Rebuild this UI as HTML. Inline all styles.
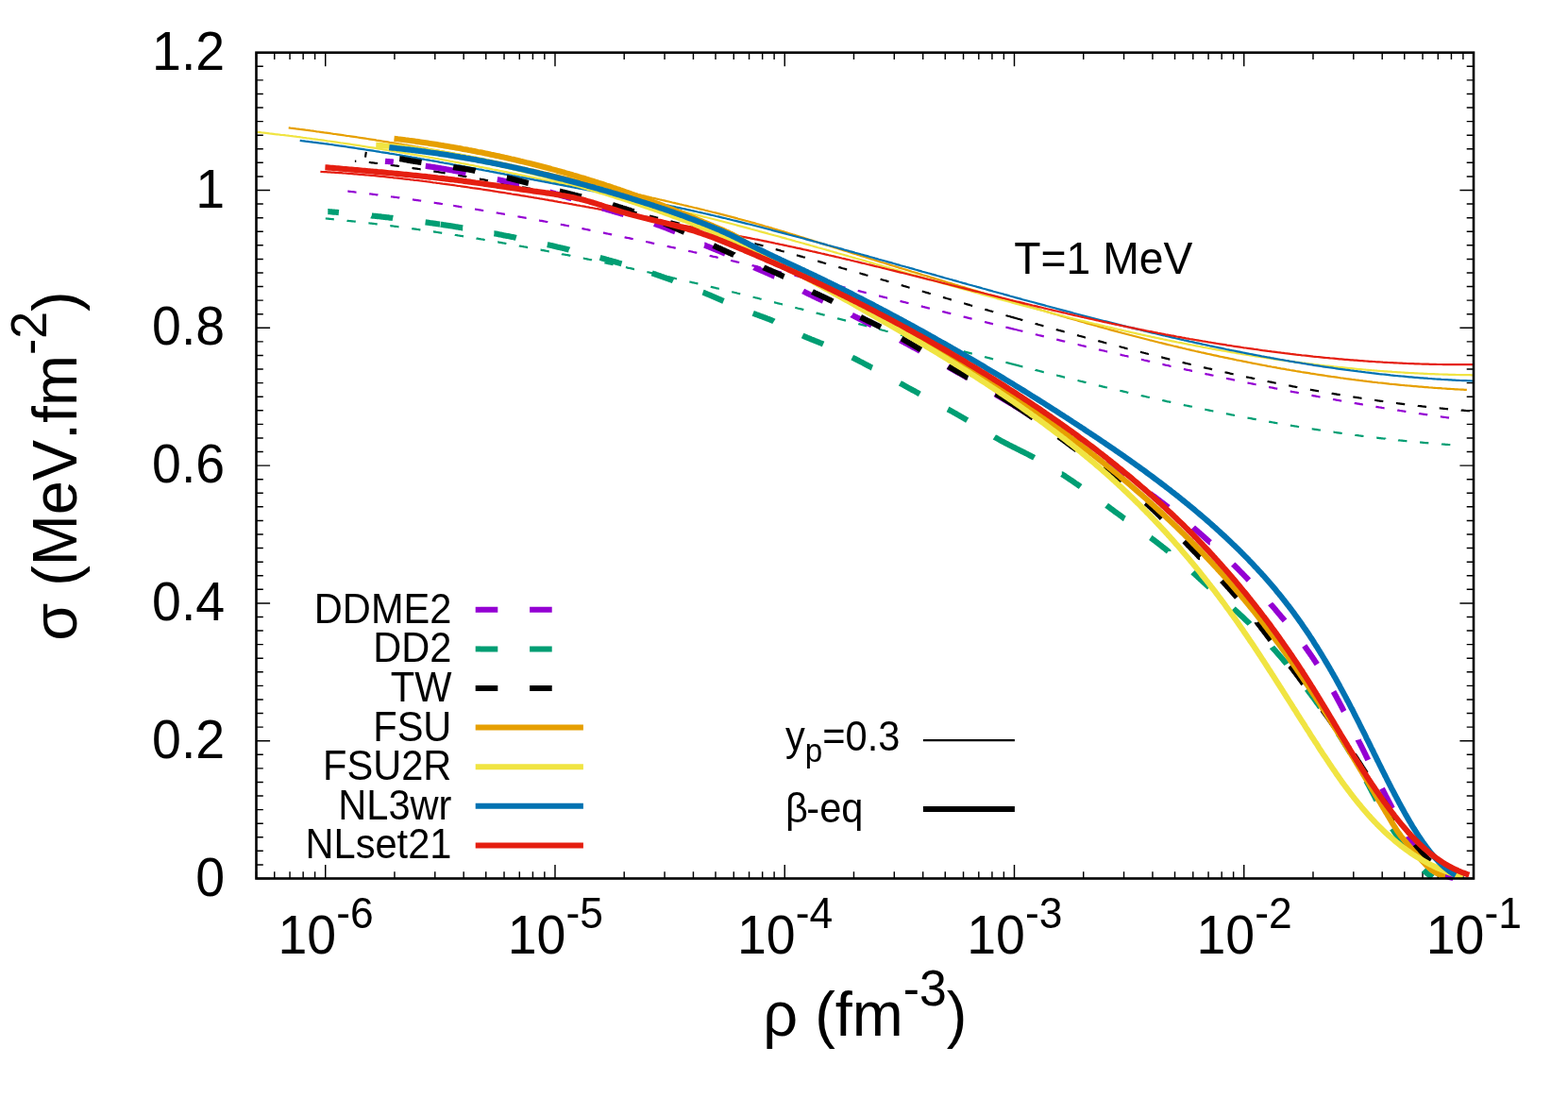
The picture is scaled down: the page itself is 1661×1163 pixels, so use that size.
<!DOCTYPE html>
<html lang="en"><head><meta charset="utf-8"><title>Surface tension vs density</title>
<style>html,body{margin:0;padding:0;background:#fff}svg{display:block}text{font-kerning:none;font-family:"Liberation Sans",Arial,Helvetica,sans-serif;fill:#000}</style></head><body>
<svg width="1661" height="1163" viewBox="0 0 1661 1163">
<rect x="0" y="0" width="1661" height="1163" fill="#fff"/>
<g stroke="#000" stroke-width="1.45" fill="none">
<path d="M271.50 930.50h14.6M1561.00 930.50h-14.6M271.50 915.92h7.3M1561.00 915.92h-7.3M271.50 901.34h7.3M1561.00 901.34h-7.3M271.50 886.76h7.3M1561.00 886.76h-7.3M271.50 872.18h7.3M1561.00 872.18h-7.3M271.50 857.60h7.3M1561.00 857.60h-7.3M271.50 843.02h7.3M1561.00 843.02h-7.3M271.50 828.44h7.3M1561.00 828.44h-7.3M271.50 813.86h7.3M1561.00 813.86h-7.3M271.50 799.28h7.3M1561.00 799.28h-7.3M271.50 784.70h14.6M1561.00 784.70h-14.6M271.50 770.12h7.3M1561.00 770.12h-7.3M271.50 755.54h7.3M1561.00 755.54h-7.3M271.50 740.96h7.3M1561.00 740.96h-7.3M271.50 726.38h7.3M1561.00 726.38h-7.3M271.50 711.80h7.3M1561.00 711.80h-7.3M271.50 697.22h7.3M1561.00 697.22h-7.3M271.50 682.64h7.3M1561.00 682.64h-7.3M271.50 668.06h7.3M1561.00 668.06h-7.3M271.50 653.48h7.3M1561.00 653.48h-7.3M271.50 638.90h14.6M1561.00 638.90h-14.6M271.50 624.32h7.3M1561.00 624.32h-7.3M271.50 609.74h7.3M1561.00 609.74h-7.3M271.50 595.16h7.3M1561.00 595.16h-7.3M271.50 580.58h7.3M1561.00 580.58h-7.3M271.50 566.00h7.3M1561.00 566.00h-7.3M271.50 551.42h7.3M1561.00 551.42h-7.3M271.50 536.84h7.3M1561.00 536.84h-7.3M271.50 522.26h7.3M1561.00 522.26h-7.3M271.50 507.68h7.3M1561.00 507.68h-7.3M271.50 493.10h14.6M1561.00 493.10h-14.6M271.50 478.52h7.3M1561.00 478.52h-7.3M271.50 463.94h7.3M1561.00 463.94h-7.3M271.50 449.36h7.3M1561.00 449.36h-7.3M271.50 434.78h7.3M1561.00 434.78h-7.3M271.50 420.20h7.3M1561.00 420.20h-7.3M271.50 405.62h7.3M1561.00 405.62h-7.3M271.50 391.04h7.3M1561.00 391.04h-7.3M271.50 376.46h7.3M1561.00 376.46h-7.3M271.50 361.88h7.3M1561.00 361.88h-7.3M271.50 347.30h14.6M1561.00 347.30h-14.6M271.50 332.72h7.3M1561.00 332.72h-7.3M271.50 318.14h7.3M1561.00 318.14h-7.3M271.50 303.56h7.3M1561.00 303.56h-7.3M271.50 288.98h7.3M1561.00 288.98h-7.3M271.50 274.40h7.3M1561.00 274.40h-7.3M271.50 259.82h7.3M1561.00 259.82h-7.3M271.50 245.24h7.3M1561.00 245.24h-7.3M271.50 230.66h7.3M1561.00 230.66h-7.3M271.50 216.08h7.3M1561.00 216.08h-7.3M271.50 201.50h14.6M1561.00 201.50h-14.6M271.50 186.92h7.3M1561.00 186.92h-7.3M271.50 172.34h7.3M1561.00 172.34h-7.3M271.50 157.76h7.3M1561.00 157.76h-7.3M271.50 143.18h7.3M1561.00 143.18h-7.3M271.50 128.60h7.3M1561.00 128.60h-7.3M271.50 114.02h7.3M1561.00 114.02h-7.3M271.50 99.44h7.3M1561.00 99.44h-7.3M271.50 84.86h7.3M1561.00 84.86h-7.3M271.50 70.28h7.3M1561.00 70.28h-7.3M271.50 55.70h14.6M1561.00 55.70h-14.6M271.50 930.50v-7.3M271.50 55.70v7.3M290.76 930.50v-7.3M290.76 55.70v7.3M307.05 930.50v-7.3M307.05 55.70v7.3M321.15 930.50v-7.3M321.15 55.70v7.3M333.60 930.50v-7.3M333.60 55.70v7.3M344.73 930.50v-14.6M344.73 55.70v14.6M417.95 930.50v-7.3M417.95 55.70v7.3M460.79 930.50v-7.3M460.79 55.70v7.3M491.18 930.50v-7.3M491.18 55.70v7.3M514.75 930.50v-7.3M514.75 55.70v7.3M534.02 930.50v-7.3M534.02 55.70v7.3M550.30 930.50v-7.3M550.30 55.70v7.3M564.41 930.50v-7.3M564.41 55.70v7.3M576.85 930.50v-7.3M576.85 55.70v7.3M587.98 930.50v-14.6M587.98 55.70v14.6M661.21 930.50v-7.3M661.21 55.70v7.3M704.04 930.50v-7.3M704.04 55.70v7.3M734.44 930.50v-7.3M734.44 55.70v7.3M758.01 930.50v-7.3M758.01 55.70v7.3M777.27 930.50v-7.3M777.27 55.70v7.3M793.56 930.50v-7.3M793.56 55.70v7.3M807.66 930.50v-7.3M807.66 55.70v7.3M820.11 930.50v-7.3M820.11 55.70v7.3M831.24 930.50v-14.6M831.24 55.70v14.6M904.46 930.50v-7.3M904.46 55.70v7.3M947.30 930.50v-7.3M947.30 55.70v7.3M977.69 930.50v-7.3M977.69 55.70v7.3M1001.26 930.50v-7.3M1001.26 55.70v7.3M1020.53 930.50v-7.3M1020.53 55.70v7.3M1036.81 930.50v-7.3M1036.81 55.70v7.3M1050.92 930.50v-7.3M1050.92 55.70v7.3M1063.36 930.50v-7.3M1063.36 55.70v7.3M1074.49 930.50v-14.6M1074.49 55.70v14.6M1147.72 930.50v-7.3M1147.72 55.70v7.3M1190.55 930.50v-7.3M1190.55 55.70v7.3M1220.94 930.50v-7.3M1220.94 55.70v7.3M1244.52 930.50v-7.3M1244.52 55.70v7.3M1263.78 930.50v-7.3M1263.78 55.70v7.3M1280.06 930.50v-7.3M1280.06 55.70v7.3M1294.17 930.50v-7.3M1294.17 55.70v7.3M1306.61 930.50v-7.3M1306.61 55.70v7.3M1317.75 930.50v-14.6M1317.75 55.70v14.6M1390.97 930.50v-7.3M1390.97 55.70v7.3M1433.81 930.50v-7.3M1433.81 55.70v7.3M1464.20 930.50v-7.3M1464.20 55.70v7.3M1487.77 930.50v-7.3M1487.77 55.70v7.3M1507.03 930.50v-7.3M1507.03 55.70v7.3M1523.32 930.50v-7.3M1523.32 55.70v7.3M1537.43 930.50v-7.3M1537.43 55.70v7.3M1549.87 930.50v-7.3M1549.87 55.70v7.3M1561.00 930.50v-14.6M1561.00 55.70v14.6"/>
</g>
<g fill="none" stroke-linejoin="round" stroke-linecap="butt">
<path d="M368.3 202.5L369.2 202.6L370.2 202.8L371.2 202.9L372.2 203.0L373.2 203.1L374.2 203.2L375.2 203.3L376.1 203.5L377.1 203.6L377.5 203.6M391.2 205.3L392.1 205.4L393.1 205.5L394.1 205.6L395.1 205.8L396.0 205.9L397.0 206.0L398.0 206.2L399.0 206.3L400.0 206.4L400.4 206.5M414.0 208.2L414.9 208.4L415.9 208.5L416.9 208.6L417.9 208.8L418.9 208.9L419.9 209.0L420.9 209.2L421.9 209.3L422.9 209.4L423.3 209.5M436.9 211.4L437.7 211.5L438.7 211.6L439.7 211.8L440.7 211.9L441.7 212.1L442.7 212.2L443.7 212.3L444.7 212.5L445.7 212.6L446.1 212.7M459.7 214.7L460.5 214.8L461.5 215.0L462.5 215.1L463.5 215.3L464.5 215.4L465.5 215.6L466.5 215.7L467.4 215.9L468.4 216.0L468.9 216.1M1065.4 346.5L1066.1 346.7L1067.0 346.9L1068.0 347.1L1069.0 347.4L1070.0 347.6L1070.9 347.9L1071.9 348.1L1072.9 348.3L1073.8 348.6L1074.4 348.7M1043.0 341.0L1043.7 341.2L1044.7 341.4L1045.7 341.7L1046.6 341.9L1047.6 342.1L1048.6 342.4L1049.6 342.6L1050.5 342.8L1051.5 343.1L1052.0 343.2M1020.6 335.5L1021.4 335.7L1022.4 335.9L1023.3 336.1L1024.3 336.4L1025.3 336.6L1026.2 336.9L1027.2 337.1L1028.2 337.3L1029.2 337.6L1029.6 337.7M998.2 330.0L999.0 330.2L1000.0 330.4L1001.0 330.6L1002.0 330.9L1002.9 331.1L1003.9 331.4L1004.9 331.6L1005.8 331.8L1006.8 332.1L1007.3 332.2M975.8 324.4L976.7 324.6L977.7 324.9L978.7 325.1L979.6 325.4L980.6 325.6L981.6 325.8L982.5 326.1L983.5 326.3L984.5 326.6L984.9 326.7M953.5 318.9L954.4 319.1L955.3 319.4L956.3 319.6L957.3 319.9L958.3 320.1L959.2 320.3L960.2 320.6L961.2 320.8L962.1 321.0L962.5 321.1M931.1 313.4L932.0 313.6L933.0 313.9L934.0 314.1L934.9 314.4L935.9 314.6L936.9 314.8L937.9 315.1L938.8 315.3L939.8 315.6L940.1 315.6M908.7 307.9L908.7 307.9L909.7 308.2L910.7 308.4L911.6 308.6L912.6 308.9L913.6 309.1L914.5 309.4L915.5 309.6L916.5 309.8L917.5 310.1L917.7 310.1M886.3 302.5L886.4 302.5L887.3 302.7L888.3 303.0L889.3 303.2L890.2 303.4L891.2 303.7L892.2 303.9L893.2 304.2L894.1 304.4L895.1 304.6L895.3 304.7M863.9 297.1L864.0 297.1L865.0 297.3L865.9 297.6L866.9 297.8L867.9 298.0L868.9 298.3L869.8 298.5L870.8 298.7L871.8 299.0L872.7 299.2L872.9 299.3M841.5 291.7L841.6 291.7L842.6 292.0L843.6 292.2L844.5 292.4L845.5 292.7L846.5 292.9L847.5 293.1L848.4 293.4L849.4 293.6L850.4 293.8L850.5 293.9M819.0 286.4L819.2 286.4L820.2 286.7L821.2 286.9L822.2 287.1L823.1 287.4L824.1 287.6L825.1 287.8L826.1 288.0L827.0 288.3L828.0 288.5L828.1 288.5M796.6 281.1L796.8 281.2L797.8 281.4L798.8 281.6L799.8 281.9L800.7 282.1L801.7 282.3L802.7 282.6L803.7 282.8L804.6 283.0L805.6 283.2L805.7 283.2M774.1 275.9L774.4 276.0L775.4 276.2L776.4 276.5L777.4 276.7L778.3 276.9L779.3 277.1L780.3 277.4L781.3 277.6L782.2 277.8L783.2 278.0M751.7 270.8L752.0 270.9L753.0 271.1L754.0 271.3L754.9 271.6L755.9 271.8L756.9 272.0L757.9 272.2L758.8 272.4L759.8 272.7L760.7 272.9M729.2 265.8L729.6 265.9L730.6 266.1L731.5 266.3L732.5 266.5L733.5 266.7L734.5 267.0L735.4 267.2L736.4 267.4L737.4 267.6L738.3 267.8M706.7 260.8L707.1 260.9L708.1 261.2L709.1 261.4L710.1 261.6L711.0 261.8L712.0 262.0L713.0 262.2L714.0 262.4L714.9 262.6L715.8 262.8M684.1 256.0L684.7 256.1L685.6 256.3L686.6 256.5L687.6 256.7L688.6 256.9L689.5 257.1L690.5 257.4L691.5 257.6L692.5 257.8L693.2 257.9M661.6 251.2L662.2 251.4L663.1 251.6L664.1 251.8L665.1 252.0L666.1 252.2L667.1 252.4L668.0 252.6L669.0 252.8L670.0 253.0L670.7 253.1M639.0 246.6L639.6 246.7L640.6 246.9L641.6 247.1L642.6 247.3L643.6 247.5L644.5 247.7L645.5 247.9L646.5 248.1L647.5 248.3L648.1 248.5M616.4 242.1L617.1 242.2L618.1 242.4L619.1 242.6L620.0 242.8L621.0 243.0L622.0 243.2L623.0 243.4L624.0 243.6L624.9 243.8L625.5 243.9M593.8 237.7L594.5 237.8L595.5 238.0L596.5 238.2L597.5 238.4L598.5 238.6L599.4 238.8L600.4 239.0L601.4 239.2L602.4 239.3L602.9 239.4M571.1 233.4L571.9 233.6L572.9 233.8L573.9 233.9L574.9 234.1L575.9 234.3L576.9 234.5L577.8 234.7L578.8 234.9L579.8 235.0L580.3 235.1M548.4 229.3L549.3 229.5L550.3 229.6L551.3 229.8L552.3 230.0L553.3 230.2L554.2 230.3L555.2 230.5L556.2 230.7L557.2 230.9L557.6 230.9M525.7 225.3L526.7 225.5L527.7 225.7L528.6 225.8L529.6 226.0L530.6 226.2L531.6 226.3L532.6 226.5L533.6 226.7L534.6 226.9L534.9 226.9M503.0 221.5L503.0 221.5L504.0 221.7L505.0 221.8L506.0 222.0L507.0 222.2L507.9 222.3L508.9 222.5L509.9 222.7L510.9 222.8L511.9 223.0L512.2 223.0M480.2 217.9L480.3 217.9L481.3 218.0L482.3 218.2L483.3 218.3L484.2 218.5L485.2 218.6L486.2 218.8L487.2 219.0L488.2 219.1L489.2 219.3L489.4 219.3M1074.4 348.7L1074.8 348.8L1075.8 349.0L1076.8 349.3L1077.7 349.5L1078.7 349.8L1079.7 350.0L1080.6 350.2L1081.6 350.5L1082.6 350.7L1083.4 350.9M1096.8 354.2L1097.2 354.3L1098.1 354.5L1099.1 354.7L1100.1 355.0L1101.0 355.2L1102.0 355.4L1103.0 355.7L1104.0 355.9L1104.9 356.1L1105.8 356.4M1119.2 359.6L1119.5 359.7L1120.5 359.9L1121.5 360.1L1122.4 360.4L1123.4 360.6L1124.4 360.8L1125.3 361.1L1126.3 361.3L1127.3 361.5L1128.2 361.8M1141.6 365.0L1141.9 365.0L1142.9 365.3L1143.8 365.5L1144.8 365.7L1145.8 366.0L1146.7 366.2L1147.7 366.4L1148.7 366.7L1149.7 366.9L1150.6 367.1L1150.7 367.1M1164.0 370.3L1164.3 370.4L1165.2 370.6L1166.2 370.8L1167.2 371.1L1168.1 371.3L1169.1 371.5L1170.1 371.7L1171.1 372.0L1172.0 372.2L1173.0 372.4L1173.1 372.4M1186.5 375.6L1186.6 375.6L1187.6 375.8L1188.6 376.1L1189.6 376.3L1190.5 376.5L1191.5 376.8L1192.5 377.0L1193.5 377.2L1194.4 377.4L1195.4 377.7L1195.5 377.7M1208.9 380.8L1209.0 380.8L1210.0 381.0L1211.0 381.2L1212.0 381.5L1212.9 381.7L1213.9 381.9L1214.9 382.1L1215.9 382.4L1216.8 382.6L1217.8 382.8L1218.0 382.9M1231.4 385.9L1231.5 385.9L1232.4 386.1L1233.4 386.3L1234.4 386.6L1235.4 386.8L1236.3 387.0L1237.3 387.2L1238.3 387.4L1239.3 387.7L1240.2 387.9L1240.5 387.9M1253.9 390.9L1253.9 390.9L1254.9 391.1L1255.9 391.4L1256.8 391.6L1257.8 391.8L1258.8 392.0L1259.8 392.2L1260.7 392.4L1261.7 392.6L1262.7 392.9L1263.0 392.9M1276.4 395.9L1277.3 396.1L1278.3 396.3L1279.3 396.5L1280.3 396.7L1281.2 396.9L1282.2 397.1L1283.2 397.3L1284.2 397.5L1285.1 397.7L1285.5 397.8M1299.0 400.7L1299.8 400.9L1300.8 401.1L1301.8 401.3L1302.7 401.5L1303.7 401.7L1304.7 401.9L1305.7 402.1L1306.7 402.3L1307.6 402.5L1308.1 402.6M1321.5 405.4L1322.3 405.6L1323.3 405.8L1324.3 406.0L1325.2 406.2L1326.2 406.4L1327.2 406.6L1328.2 406.8L1329.2 407.0L1330.1 407.2L1330.6 407.3M1344.1 410.0L1344.8 410.1L1345.8 410.3L1346.8 410.5L1347.8 410.7L1348.8 410.9L1349.7 411.1L1350.7 411.3L1351.7 411.5L1352.7 411.7L1353.2 411.8M1366.7 414.5L1367.4 414.6L1368.4 414.8L1369.3 415.0L1370.3 415.2L1371.3 415.3L1372.3 415.5L1373.3 415.7L1374.3 415.9L1375.2 416.1L1375.8 416.2M1389.4 418.8L1390.0 418.9L1390.9 419.1L1391.9 419.3L1392.9 419.4L1393.9 419.6L1394.9 419.8L1395.9 420.0L1396.8 420.2L1397.8 420.4L1398.5 420.5M1412.0 423.0L1412.6 423.1L1413.6 423.2L1414.5 423.4L1415.5 423.6L1416.5 423.8L1417.5 423.9L1418.5 424.1L1419.5 424.3L1420.4 424.5L1421.2 424.6M1434.7 427.0L1435.2 427.1L1436.2 427.2L1437.2 427.4L1438.2 427.6L1439.1 427.7L1440.1 427.9L1441.1 428.1L1442.1 428.2L1443.1 428.4L1443.9 428.5M1457.4 430.8L1457.9 430.9L1458.9 431.1L1459.9 431.2L1460.8 431.4L1461.8 431.5L1462.8 431.7L1463.8 431.9L1464.8 432.0L1465.8 432.2L1466.6 432.3M1480.2 434.5L1480.6 434.6L1481.6 434.7L1482.6 434.9L1483.6 435.0L1484.5 435.2L1485.5 435.3L1486.5 435.5L1487.5 435.6L1488.5 435.8L1489.4 435.9M1503.0 438.0L1503.3 438.1L1504.3 438.2L1505.3 438.3L1506.3 438.5L1507.3 438.6L1508.3 438.8L1509.3 438.9L1510.3 439.1L1511.2 439.2L1512.2 439.4M1525.8 441.3L1526.1 441.3L1527.1 441.5L1528.1 441.6L1529.1 441.8L1530.1 441.9L1531.1 442.0L1532.1 442.2L1533.1 442.3L1534.0 442.4L1535.0 442.6" stroke="#9400d3" stroke-width="2.2"/>
<path d="M1074.4 386.1L1074.5 386.2L1075.5 386.4L1076.5 386.7L1077.5 386.9L1078.4 387.2L1079.4 387.4L1080.4 387.7L1081.3 387.9L1082.3 388.2L1083.3 388.4L1083.4 388.4M1096.7 391.8L1096.8 391.9L1097.8 392.1L1098.8 392.3L1099.8 392.6L1100.7 392.8L1101.7 393.1L1102.7 393.3L1103.6 393.6L1104.6 393.8L1105.6 394.1L1105.8 394.1M1119.1 397.5L1119.2 397.5L1120.1 397.7L1121.1 398.0L1122.1 398.2L1123.0 398.4L1124.0 398.7L1125.0 398.9L1126.0 399.2L1126.9 399.4L1127.9 399.7L1128.1 399.7M1141.5 403.0L1141.5 403.0L1142.5 403.2L1143.4 403.5L1144.4 403.7L1145.4 404.0L1146.4 404.2L1147.3 404.4L1148.3 404.7L1149.3 404.9L1150.2 405.1L1150.5 405.2M1163.9 408.4L1164.8 408.7L1165.8 408.9L1166.8 409.1L1167.7 409.4L1168.7 409.6L1169.7 409.8L1170.7 410.1L1171.6 410.3L1172.6 410.5L1172.9 410.6M1186.3 413.8L1187.2 414.0L1188.2 414.2L1189.2 414.4L1190.1 414.7L1191.1 414.9L1192.1 415.1L1193.0 415.3L1194.0 415.6L1195.0 415.8L1195.3 415.9M1208.7 419.0L1209.6 419.2L1210.6 419.4L1211.6 419.6L1212.5 419.8L1213.5 420.0L1214.5 420.3L1215.5 420.5L1216.4 420.7L1217.4 420.9L1217.8 421.0M1231.2 424.0L1232.0 424.2L1233.0 424.4L1234.0 424.6L1235.0 424.8L1235.9 425.1L1236.9 425.3L1237.9 425.5L1238.9 425.7L1239.8 425.9L1240.3 426.0M1253.8 428.9L1254.5 429.1L1255.5 429.3L1256.5 429.5L1257.4 429.7L1258.4 429.9L1259.4 430.1L1260.4 430.3L1261.3 430.5L1262.3 430.7L1262.8 430.9M1276.3 433.7L1277.0 433.8L1278.0 434.0L1278.9 434.2L1279.9 434.4L1280.9 434.6L1281.9 434.8L1282.9 435.0L1283.8 435.2L1284.8 435.4L1285.4 435.5M1298.9 438.2L1299.5 438.3L1300.5 438.5L1301.5 438.7L1302.5 438.9L1303.4 439.1L1304.4 439.3L1305.4 439.5L1306.4 439.7L1307.4 439.9L1308.0 440.0M1321.5 442.6L1322.1 442.7L1323.1 442.8L1324.0 443.0L1325.0 443.2L1326.0 443.4L1327.0 443.6L1328.0 443.8L1329.0 443.9L1329.9 444.1L1330.7 444.2M1344.2 446.7L1344.7 446.8L1345.7 446.9L1346.7 447.1L1347.6 447.3L1348.6 447.5L1349.6 447.6L1350.6 447.8L1351.6 448.0L1352.6 448.2L1353.4 448.3M1366.9 450.6L1367.3 450.7L1368.3 450.8L1369.3 451.0L1370.3 451.2L1371.3 451.3L1372.3 451.5L1373.3 451.6L1374.2 451.8L1375.2 452.0L1376.1 452.1M1389.7 454.3L1390.0 454.3L1391.0 454.5L1392.0 454.6L1393.0 454.8L1394.0 454.9L1395.0 455.1L1396.0 455.2L1396.9 455.4L1397.9 455.5L1398.9 455.7M1412.5 457.7L1412.8 457.7L1413.8 457.9L1414.8 458.0L1415.7 458.1L1416.7 458.3L1417.7 458.4L1418.7 458.6L1419.7 458.7L1420.7 458.8L1421.7 459.0L1421.7 459.0M1435.3 460.8L1435.6 460.9L1436.6 461.0L1437.6 461.1L1438.5 461.2L1439.5 461.4L1440.5 461.5L1441.5 461.6L1442.5 461.8L1443.5 461.9L1444.5 462.0L1444.5 462.0M1458.2 463.7L1458.4 463.7L1459.4 463.8L1460.4 463.9L1461.4 464.1L1462.4 464.2L1463.4 464.3L1464.4 464.4L1465.4 464.5L1466.4 464.6L1467.4 464.7L1467.4 464.8M1481.1 466.2L1481.3 466.3L1482.3 466.4L1483.3 466.5L1484.3 466.6L1485.3 466.7L1486.3 466.8L1487.3 466.9L1488.3 467.0L1489.3 467.1L1490.3 467.2L1490.4 467.2M1504.0 468.5L1504.3 468.5L1505.3 468.6L1506.3 468.7L1507.3 468.8L1508.3 468.9L1509.3 469.0L1510.3 469.1L1511.3 469.1L1512.3 469.2L1513.3 469.3L1513.3 469.3M1527.0 470.4L1527.3 470.5L1528.3 470.5L1529.3 470.6L1530.3 470.7L1531.3 470.8L1532.3 470.8L1533.3 470.9L1534.3 471.0L1535.3 471.0L1536.3 471.1M1065.4 383.8L1065.8 383.9L1066.8 384.2L1067.8 384.4L1068.7 384.7L1069.7 384.9L1070.7 385.2L1071.6 385.4L1072.6 385.7L1073.6 385.9L1074.4 386.1M1043.1 378.0L1043.5 378.2L1044.5 378.4L1045.5 378.7L1046.4 378.9L1047.4 379.2L1048.4 379.4L1049.3 379.7L1050.3 379.9L1051.3 380.2L1052.1 380.4M1020.8 372.2L1021.2 372.3L1022.2 372.6L1023.2 372.9L1024.1 373.1L1025.1 373.4L1026.1 373.6L1027.1 373.9L1028.0 374.1L1029.0 374.4L1029.8 374.6M998.5 366.4L999.0 366.5L999.9 366.8L1000.9 367.0L1001.9 367.3L1002.8 367.5L1003.8 367.8L1004.8 368.0L1005.7 368.3L1006.7 368.5L1007.5 368.7M976.2 360.5L976.7 360.7L977.7 360.9L978.6 361.2L979.6 361.4L980.6 361.7L981.5 361.9L982.5 362.2L983.5 362.4L984.4 362.7L985.2 362.9M953.9 354.7L954.4 354.8L955.4 355.1L956.3 355.3L957.3 355.6L958.3 355.8L959.3 356.1L960.2 356.3L961.2 356.6L962.2 356.8L962.9 357.0M931.6 348.8L932.1 349.0L933.1 349.2L934.1 349.5L935.0 349.7L936.0 350.0L937.0 350.2L937.9 350.5L938.9 350.8L939.9 351.0L940.6 351.2M909.3 343.0L909.8 343.2L910.8 343.4L911.8 343.7L912.7 343.9L913.7 344.2L914.7 344.4L915.7 344.7L916.6 344.9L917.6 345.2L918.3 345.4M887.0 337.2L887.5 337.4L888.5 337.6L889.5 337.9L890.5 338.1L891.4 338.4L892.4 338.6L893.4 338.9L894.3 339.1L895.3 339.4L896.0 339.6M864.6 331.5L865.2 331.7L866.2 331.9L867.2 332.2L868.2 332.4L869.1 332.7L870.1 332.9L871.1 333.1L872.0 333.4L873.0 333.6L873.7 333.8M842.3 325.8L842.9 326.0L843.9 326.2L844.9 326.5L845.8 326.7L846.8 327.0L847.8 327.2L848.8 327.4L849.7 327.7L850.7 327.9L851.3 328.1M820.0 320.2L820.6 320.3L821.6 320.6L822.5 320.8L823.5 321.1L824.5 321.3L825.5 321.6L826.4 321.8L827.4 322.0L828.4 322.3L829.0 322.4M797.6 314.6L798.3 314.8L799.2 315.0L800.2 315.3L801.2 315.5L802.2 315.7L803.1 316.0L804.1 316.2L805.1 316.5L806.0 316.7L806.6 316.9M775.2 309.1L775.9 309.3L776.9 309.5L777.9 309.8L778.8 310.0L779.8 310.2L780.8 310.5L781.7 310.7L782.7 311.0L783.7 311.2L784.2 311.3M752.8 303.7L753.5 303.9L754.5 304.1L755.5 304.4L756.5 304.6L757.4 304.8L758.4 305.1L759.4 305.3L760.4 305.5L761.3 305.8L761.8 305.9M730.4 298.4L731.2 298.6L732.1 298.8L733.1 299.1L734.1 299.3L735.0 299.5L736.0 299.7L737.0 300.0L738.0 300.2L738.9 300.4L739.4 300.5M707.9 293.2L708.7 293.4L709.7 293.6L710.7 293.8L711.7 294.1L712.6 294.3L713.6 294.5L714.6 294.7L715.6 295.0L716.5 295.2L717.0 295.3M685.4 288.1L686.3 288.3L687.3 288.5L688.3 288.7L689.2 289.0L690.2 289.2L691.2 289.4L692.2 289.6L693.1 289.8L694.1 290.1L694.5 290.2M662.9 283.1L663.8 283.3L664.8 283.6L665.8 283.8L666.8 284.0L667.8 284.2L668.7 284.4L669.7 284.6L670.7 284.8L671.7 285.1L672.0 285.1M640.4 278.3L641.4 278.5L642.3 278.7L643.3 278.9L644.3 279.1L645.3 279.3L646.2 279.5L647.2 279.8L648.2 280.0L649.2 280.2L649.5 280.2M617.8 273.6L617.9 273.6L618.8 273.8L619.8 274.0L620.8 274.2L621.8 274.4L622.8 274.6L623.7 274.8L624.7 275.0L625.7 275.2L626.7 275.4L626.9 275.5M595.2 269.0L595.3 269.1L596.3 269.3L597.3 269.5L598.3 269.7L599.2 269.8L600.2 270.0L601.2 270.2L602.2 270.4L603.2 270.6L604.1 270.8L604.3 270.9M572.6 264.7L572.7 264.7L573.7 264.9L574.7 265.1L575.7 265.2L576.7 265.4L577.7 265.6L578.6 265.8L579.6 266.0L580.6 266.2L581.6 266.4L581.7 266.4M549.9 260.4L550.1 260.5L551.1 260.6L552.1 260.8L553.1 261.0L554.1 261.2L555.1 261.4L556.0 261.5L557.0 261.7L558.0 261.9L559.0 262.1L559.1 262.1M527.2 256.4L527.5 256.4L528.5 256.6L529.5 256.8L530.4 256.9L531.4 257.1L532.4 257.3L533.4 257.5L534.4 257.6L535.4 257.8L536.4 258.0L536.4 258.0M504.5 252.5L504.8 252.6L505.8 252.7L506.8 252.9L507.8 253.1L508.8 253.2L509.7 253.4L510.7 253.5L511.7 253.7L512.7 253.9L513.7 254.0L513.7 254.0M481.8 248.8L482.1 248.9L483.1 249.0L484.1 249.2L485.0 249.4L486.0 249.5L487.0 249.7L488.0 249.8L489.0 250.0L490.0 250.1L491.0 250.3M459.0 245.4L459.3 245.4L460.3 245.6L461.3 245.7L462.3 245.9L463.3 246.0L464.3 246.2L465.3 246.3L466.3 246.5L467.2 246.6L468.2 246.8M436.2 242.1L436.5 242.2L437.5 242.3L438.5 242.4L439.5 242.6L440.5 242.7L441.5 242.9L442.5 243.0L443.5 243.1L444.5 243.3L445.4 243.4M413.3 239.1L413.7 239.1L414.7 239.3L415.7 239.4L416.7 239.5L417.6 239.7L418.6 239.8L419.6 239.9L420.6 240.0L421.6 240.2L422.5 240.3M390.4 236.3L390.8 236.3L391.8 236.5L392.8 236.6L393.8 236.7L394.8 236.8L395.8 236.9L396.8 237.0L397.7 237.2L398.7 237.3L399.7 237.4M367.5 233.7L367.8 233.8L368.8 233.9L369.8 234.0L370.8 234.1L371.8 234.2L372.8 234.3L373.8 234.4L374.8 234.5L375.8 234.6L376.8 234.7M344.8 231.4L345.8 231.5L346.8 231.6L347.8 231.7L348.8 231.8L349.8 231.9L350.8 232.0L351.8 232.1L352.8 232.2L353.8 232.3L353.8 232.3" stroke="#009e73" stroke-width="2.2"/>
<path d="M390.8 171.9L391.8 172.0L392.8 172.2L393.8 172.3L394.8 172.4L395.8 172.5L396.8 172.7L397.8 172.8L398.7 172.9L399.7 173.0L400.0 173.1M413.7 174.8L413.7 174.8L414.7 174.9L415.7 175.1L416.7 175.2L417.7 175.3L418.7 175.5L419.6 175.6L420.6 175.7L421.6 175.9L422.6 176.0L422.9 176.1M436.5 178.0L436.5 178.0L437.5 178.1L438.5 178.3L439.5 178.4L440.5 178.6L441.5 178.7L442.5 178.8L443.5 179.0L444.5 179.1L445.4 179.3L445.7 179.3M459.3 181.4L459.3 181.4L460.3 181.6L461.3 181.7L462.3 181.9L463.3 182.0L464.3 182.2L465.2 182.3L466.2 182.5L467.2 182.7L468.2 182.8L468.5 182.9M1065.5 334.0L1066.1 334.2L1067.1 334.5L1068.0 334.8L1069.0 335.0L1070.0 335.3L1070.9 335.6L1071.9 335.8L1072.9 336.1L1073.8 336.4L1074.4 336.6M1043.3 327.7L1044.0 327.9L1044.9 328.2L1045.9 328.4L1046.9 328.7L1047.8 329.0L1048.8 329.3L1049.8 329.5L1050.7 329.8L1051.7 330.1L1052.2 330.3M1021.1 321.3L1021.9 321.5L1022.8 321.8L1023.8 322.1L1024.7 322.4L1025.7 322.6L1026.7 322.9L1027.6 323.2L1028.6 323.5L1029.5 323.8L1030.1 323.9M999.0 314.9L999.7 315.1L1000.7 315.4L1001.7 315.7L1002.6 316.0L1003.6 316.3L1004.5 316.5L1005.5 316.8L1006.5 317.1L1007.4 317.4L1007.9 317.5M976.8 308.5L977.6 308.7L978.6 309.0L979.5 309.3L980.5 309.6L981.5 309.9L982.4 310.1L983.4 310.4L984.3 310.7L985.3 311.0L985.8 311.1M954.7 302.1L955.5 302.3L956.5 302.6L957.4 302.9L958.4 303.2L959.3 303.4L960.3 303.7L961.3 304.0L962.2 304.3L963.2 304.6L963.6 304.7M932.6 295.7L933.4 295.9L934.3 296.2L935.3 296.5L936.3 296.8L937.2 297.0L938.2 297.3L939.2 297.6L940.1 297.9L941.1 298.2L941.5 298.3M910.4 289.3L911.3 289.5L912.2 289.8L913.2 290.1L914.1 290.4L915.1 290.6L916.1 290.9L917.0 291.2L918.0 291.5L919.0 291.8L919.4 291.9M888.3 282.9L889.1 283.2L890.1 283.4L891.1 283.7L892.0 284.0L893.0 284.3L893.9 284.5L894.9 284.8L895.9 285.1L896.8 285.4L897.2 285.5M866.1 276.6L867.0 276.8L868.0 277.1L868.9 277.4L869.9 277.7L870.9 277.9L871.8 278.2L872.8 278.5L873.7 278.8L874.7 279.0L875.1 279.1M843.9 270.3L844.9 270.6L845.8 270.8L846.8 271.1L847.7 271.4L848.7 271.6L849.7 271.9L850.6 272.2L851.6 272.5L852.6 272.7L852.9 272.8M821.7 264.1L822.7 264.3L823.7 264.6L824.6 264.9L825.6 265.1L826.6 265.4L827.5 265.7L828.5 266.0L829.4 266.2L830.4 266.5L830.7 266.6M799.5 257.9L799.6 257.9L800.5 258.2L801.5 258.5L802.4 258.7L803.4 259.0L804.4 259.3L805.3 259.5L806.3 259.8L807.3 260.1L808.2 260.3L808.5 260.4M777.3 251.9L777.4 251.9L778.3 252.1L779.3 252.4L780.3 252.7L781.2 252.9L782.2 253.2L783.2 253.4L784.1 253.7L785.1 254.0L786.0 254.2L786.3 254.3M755.0 245.9L755.1 245.9L756.1 246.2L757.1 246.4L758.0 246.7L759.0 246.9L760.0 247.2L760.9 247.5L761.9 247.7L762.9 248.0L763.8 248.2L764.0 248.3M732.7 240.0L732.9 240.0L733.9 240.3L734.8 240.5L735.8 240.8L736.8 241.1L737.7 241.3L738.7 241.6L739.7 241.8L740.6 242.1L741.6 242.3L741.7 242.4M710.4 234.2L710.6 234.3L711.6 234.5L712.6 234.8L713.5 235.0L714.5 235.3L715.5 235.5L716.5 235.8L717.4 236.0L718.4 236.3L719.4 236.5L719.4 236.6M688.1 228.6L688.3 228.7L689.3 228.9L690.3 229.2L691.3 229.4L692.2 229.7L693.2 229.9L694.2 230.1L695.1 230.4L696.1 230.6L697.1 230.9L697.1 230.9M665.7 223.1L666.0 223.2L667.0 223.4L668.0 223.7L668.9 223.9L669.9 224.1L670.9 224.4L671.8 224.6L672.8 224.9L673.8 225.1L674.7 225.3M643.3 217.8L643.7 217.9L644.6 218.1L645.6 218.3L646.6 218.6L647.6 218.8L648.5 219.0L649.5 219.3L650.5 219.5L651.4 219.7L652.3 219.9M620.8 212.6L621.3 212.7L622.2 212.9L623.2 213.2L624.2 213.4L625.2 213.6L626.1 213.8L627.1 214.0L628.1 214.3L629.1 214.5L629.9 214.7M598.3 207.6L598.8 207.7L599.8 207.9L600.8 208.2L601.8 208.4L602.7 208.6L603.7 208.8L604.7 209.0L605.7 209.2L606.6 209.4L607.4 209.6M575.8 202.8L576.4 202.9L577.3 203.1L578.3 203.3L579.3 203.5L580.3 203.7L581.2 203.9L582.2 204.2L583.2 204.4L584.2 204.6L584.9 204.7M553.2 198.2L553.8 198.3L554.8 198.5L555.8 198.7L556.8 198.9L557.8 199.1L558.7 199.3L559.7 199.5L560.7 199.7L561.7 199.9L562.3 200.0M530.6 193.8L531.3 193.9L532.3 194.1L533.2 194.3L534.2 194.5L535.2 194.6L536.2 194.8L537.2 195.0L538.1 195.2L539.1 195.4L539.7 195.5M507.9 189.6L508.7 189.7L509.6 189.9L510.6 190.1L511.6 190.2L512.6 190.4L513.6 190.6L514.6 190.8L515.5 191.0L516.5 191.1L517.0 191.2M485.2 185.6L486.0 185.7L487.0 185.9L488.0 186.1L488.9 186.2L489.9 186.4L490.9 186.6L491.9 186.8L492.9 186.9L493.9 187.1L494.3 187.2M462.4 181.9L463.3 182.0L464.3 182.2L465.2 182.3L466.2 182.5L467.2 182.7L468.2 182.8L469.2 183.0L470.2 183.1L471.2 183.3L471.6 183.4M1074.4 336.6L1074.8 336.7L1075.7 336.9L1076.7 337.2L1077.7 337.5L1078.6 337.8L1079.6 338.0L1080.6 338.3L1081.5 338.6L1082.5 338.8L1083.3 339.1M1096.6 342.8L1096.9 342.9L1097.9 343.2L1098.9 343.4L1099.8 343.7L1100.8 344.0L1101.8 344.3L1102.7 344.5L1103.7 344.8L1104.6 345.1L1105.5 345.3M1118.8 349.0L1119.1 349.1L1120.1 349.3L1121.0 349.6L1122.0 349.9L1123.0 350.1L1123.9 350.4L1124.9 350.7L1125.9 350.9L1126.8 351.2L1127.8 351.5M1141.0 355.1L1141.3 355.2L1142.3 355.4L1143.2 355.7L1144.2 356.0L1145.2 356.2L1146.1 356.5L1147.1 356.7L1148.1 357.0L1149.0 357.3L1150.0 357.5L1150.0 357.5M1163.3 361.1L1163.5 361.2L1164.5 361.4L1165.4 361.7L1166.4 361.9L1167.4 362.2L1168.3 362.4L1169.3 362.7L1170.3 363.0L1171.2 363.2L1172.2 363.5L1172.3 363.5M1185.6 367.0L1185.7 367.0L1186.7 367.3L1187.7 367.5L1188.6 367.8L1189.6 368.0L1190.6 368.3L1191.5 368.6L1192.5 368.8L1193.5 369.1L1194.4 369.3L1194.6 369.3M1207.9 372.8L1208.0 372.8L1209.0 373.0L1209.9 373.3L1210.9 373.5L1211.9 373.8L1212.8 374.0L1213.8 374.3L1214.8 374.5L1215.8 374.8L1216.7 375.0L1216.9 375.0M1230.2 378.4L1230.3 378.4L1231.3 378.6L1232.2 378.9L1233.2 379.1L1234.2 379.4L1235.1 379.6L1236.1 379.8L1237.1 380.1L1238.1 380.3L1239.0 380.6L1239.3 380.6M1252.6 383.9L1253.6 384.1L1254.6 384.3L1255.5 384.6L1256.5 384.8L1257.5 385.0L1258.4 385.3L1259.4 385.5L1260.4 385.7L1261.4 386.0L1261.7 386.0M1275.0 389.2L1275.9 389.4L1276.9 389.6L1277.9 389.8L1278.9 390.1L1279.8 390.3L1280.8 390.5L1281.8 390.7L1282.8 390.9L1283.7 391.2L1284.1 391.3M1297.5 394.3L1298.3 394.5L1299.3 394.7L1300.3 394.9L1301.3 395.1L1302.2 395.3L1303.2 395.6L1304.2 395.8L1305.2 396.0L1306.1 396.2L1306.6 396.3M1320.0 399.2L1320.8 399.4L1321.8 399.6L1322.7 399.8L1323.7 400.0L1324.7 400.2L1325.7 400.4L1326.6 400.6L1327.6 400.8L1328.6 401.0L1329.1 401.2M1342.6 403.9L1343.3 404.1L1344.2 404.3L1345.2 404.5L1346.2 404.7L1347.2 404.9L1348.2 405.1L1349.1 405.3L1350.1 405.5L1351.1 405.7L1351.7 405.8M1365.2 408.4L1365.8 408.5L1366.8 408.7L1367.8 408.9L1368.7 409.1L1369.7 409.3L1370.7 409.5L1371.7 409.7L1372.7 409.9L1373.6 410.0L1374.3 410.2M1387.9 412.7L1388.4 412.8L1389.4 413.0L1390.3 413.1L1391.3 413.3L1392.3 413.5L1393.3 413.7L1394.3 413.8L1395.3 414.0L1396.2 414.2L1397.0 414.3M1410.6 416.7L1411.0 416.8L1412.0 416.9L1413.0 417.1L1414.0 417.3L1415.0 417.4L1415.9 417.6L1416.9 417.8L1417.9 417.9L1418.9 418.1L1419.7 418.2M1433.3 420.4L1433.7 420.5L1434.7 420.6L1435.7 420.8L1436.7 420.9L1437.7 421.1L1438.6 421.2L1439.6 421.4L1440.6 421.5L1441.6 421.7L1442.5 421.8M1456.1 423.9L1456.5 423.9L1457.4 424.0L1458.4 424.2L1459.4 424.3L1460.4 424.5L1461.4 424.6L1462.4 424.8L1463.4 424.9L1464.4 425.0L1465.3 425.2M1478.9 427.0L1479.3 427.0L1480.3 427.2L1481.2 427.3L1482.2 427.4L1483.2 427.6L1484.2 427.7L1485.2 427.8L1486.2 427.9L1487.2 428.1L1488.2 428.2M1501.8 429.8L1502.1 429.9L1503.1 430.0L1504.1 430.1L1505.1 430.2L1506.1 430.3L1507.1 430.5L1508.1 430.6L1509.1 430.7L1510.1 430.8L1511.0 430.9M1524.7 432.4L1525.1 432.4L1526.1 432.5L1527.1 432.6L1528.1 432.7L1529.1 432.8L1530.1 432.9L1531.1 433.0L1532.1 433.1L1533.1 433.2L1534.0 433.3M1547.7 434.5L1548.1 434.6L1549.1 434.7L1550.1 434.7L1551.1 434.8L1552.1 434.9L1553.1 435.0L1554.1 435.1L1555.1 435.2L1556.1 435.2L1556.9 435.3" stroke="#000000" stroke-width="2.2"/>
<path d="M387.8 160.9L387 166.6" stroke="#000" stroke-width="2.2"/><path d="M376.6 169.6V171.8" stroke="#000" stroke-width="1.4"/>
<path d="M305.7 135.3L307.7 135.6L309.7 135.8L311.7 136.1L313.6 136.4L315.6 136.6L317.6 136.9L319.6 137.1L321.6 137.4L323.6 137.7L325.5 137.9L327.5 138.2L329.5 138.5L331.5 138.7L333.5 139.0L335.5 139.3L337.5 139.5L339.4 139.8L341.4 140.1L343.4 140.4L345.4 140.6L347.4 140.9L349.4 141.2L351.3 141.5L353.3 141.8L355.3 142.0L357.3 142.3L359.3 142.6L361.2 142.9L363.2 143.2L365.2 143.5L367.2 143.8L369.2 144.0L371.2 144.3L373.1 144.6L375.1 144.9L377.1 145.2L379.1 145.5L381.1 145.8L383.0 146.1L385.0 146.4L387.0 146.7L389.0 147.0L391.0 147.3L392.9 147.6L394.9 147.9L396.9 148.2L398.9 148.6L400.8 148.9L402.8 149.2L404.8 149.5L406.8 149.8L408.8 150.1L410.7 150.4L412.7 150.8L414.7 151.1L416.7 151.4L418.6 151.7L420.6 152.0L422.6 152.4L424.6 152.7L426.5 153.0L428.5 153.4L430.5 153.7L432.5 154.0L434.4 154.3L436.4 154.7L438.4 155.0L440.4 155.4L442.3 155.7L444.3 156.0L446.3 156.4L448.3 156.7L450.2 157.1L452.2 157.4L454.2 157.8L456.1 158.1L458.1 158.5L460.1 158.8L462.1 159.2L464.0 159.5L466.0 159.9L468.0 160.2L469.9 160.6L471.9 161.0L473.9 161.3L475.8 161.7L477.8 162.0L479.8 162.4L481.8 162.8L483.7 163.1L485.7 163.5L487.7 163.9L489.6 164.3L491.6 164.6L493.6 165.0L495.5 165.4L497.5 165.8L499.5 166.2L501.4 166.5L503.4 166.9L505.3 167.3L507.3 167.7L509.3 168.1L511.2 168.5L513.2 168.9L515.2 169.3L517.1 169.7L519.1 170.1L521.0 170.5L523.0 170.9L525.0 171.3L526.9 171.7L528.9 172.1L530.9 172.5L532.8 172.9L534.8 173.3L536.7 173.7L538.7 174.1L540.6 174.5L542.6 174.9L544.6 175.4L546.5 175.8L548.5 176.2L550.4 176.6L552.4 177.1L554.3 177.5L556.3 177.9L558.3 178.3L560.2 178.8L562.2 179.2L564.1 179.6L566.1 180.1L568.0 180.5L570.0 180.9L571.9 181.4L573.9 181.8L575.8 182.3L577.8 182.7L579.7 183.2L581.7 183.6L583.6 184.1L585.6 184.5L587.5 185.0L589.5 185.4L591.4 185.9L593.4 186.3L595.3 186.8L597.3 187.2L599.2 187.7L601.2 188.1L603.1 188.6L605.1 189.1L607.0 189.5L609.0 190.0L610.9 190.4L612.9 190.9L614.8 191.4L616.8 191.8L618.7 192.3L620.7 192.8L622.6 193.2L624.6 193.7L626.5 194.2L628.4 194.6L630.4 195.1L632.3 195.6L634.3 196.0L636.2 196.5L638.2 197.0L640.1 197.4L642.1 197.9L644.0 198.4L646.0 198.8L647.9 199.3L649.9 199.8L651.8 200.2L653.8 200.7L655.7 201.2L657.6 201.6L659.6 202.1L661.5 202.6L663.5 203.0L665.4 203.5L667.4 203.9L669.3 204.4L671.3 204.9L673.2 205.3L675.2 205.8L677.1 206.3L679.1 206.7L681.0 207.2L683.0 207.6L684.9 208.1L686.9 208.5L688.8 209.0L690.8 209.5L692.7 209.9L694.7 210.4L696.6 210.8L698.6 211.3L700.5 211.7L702.5 212.2L704.4 212.6L706.4 213.1L708.3 213.5L710.3 214.0L712.2 214.5L714.1 214.9L716.1 215.4L718.0 215.8L720.0 216.3L721.9 216.7L723.9 217.2L725.8 217.7L727.8 218.1L729.7 218.6L731.7 219.0L733.6 219.5L735.6 220.0L737.5 220.4L739.5 220.9L741.4 221.4L743.4 221.8L745.3 222.3L747.2 222.8L749.2 223.2L751.1 223.7L753.1 224.2L755.0 224.7L757.0 225.2L758.9 225.6L760.8 226.1L762.8 226.6L764.7 227.1L766.7 227.6L768.6 228.1L770.5 228.6L772.5 229.1L774.4 229.6L776.3 230.1L778.3 230.6L780.2 231.1L782.1 231.7L784.1 232.2L786.0 232.7L787.9 233.2L789.9 233.8L791.8 234.3L793.7 234.8L795.6 235.4L797.6 235.9L799.5 236.4L801.4 237.0L803.4 237.5L805.3 238.1L807.2 238.6L809.1 239.2L811.0 239.8L813.0 240.3L814.9 240.9L816.8 241.4L818.7 242.0L820.6 242.6L822.6 243.1L824.5 243.7L826.4 244.3L828.3 244.9L830.2 245.4L832.2 246.0L834.1 246.6L836.0 247.2L837.9 247.8L839.8 248.4L841.7 248.9L843.6 249.5L845.6 250.1L847.5 250.7L849.4 251.3L851.3 251.9L853.2 252.5L855.1 253.1L857.0 253.7L858.9 254.3L860.9 254.9L862.8 255.5L864.7 256.1L866.6 256.7L868.5 257.3L870.4 257.9L872.3 258.5L874.2 259.1L876.1 259.7L878.1 260.3L880.0 260.9L881.9 261.5L883.8 262.1L885.7 262.7L887.6 263.3L889.5 263.9L891.4 264.5L893.3 265.1L895.2 265.7L897.2 266.3L899.1 266.9L901.0 267.5L902.9 268.1L904.8 268.7L906.7 269.3L908.6 269.9L910.5 270.5L912.4 271.1L914.4 271.7L916.3 272.3L918.2 272.9L920.1 273.5L922.0 274.1L923.9 274.7L925.8 275.3L927.7 275.9L929.6 276.5L931.6 277.1L933.5 277.7L935.4 278.2L937.3 278.8L939.2 279.4L941.1 280.0L943.0 280.6L944.9 281.2L946.9 281.8L948.8 282.4L950.7 283.0L952.6 283.6L954.5 284.1L956.4 284.7L958.3 285.3L960.3 285.9L962.2 286.5L964.1 287.1L966.0 287.7L967.9 288.2L969.8 288.8L971.7 289.4L973.7 290.0L975.6 290.6L977.5 291.2L979.4 291.7L981.3 292.3L983.2 292.9L985.1 293.5L987.1 294.1L989.0 294.6L990.9 295.2L992.8 295.8L994.7 296.4L996.6 296.9L998.6 297.5L1000.5 298.1L1002.4 298.7L1004.3 299.3L1006.2 299.8L1008.1 300.4L1010.1 301.0L1012.0 301.6L1013.9 302.1L1015.8 302.7L1017.7 303.3L1019.6 303.8L1021.6 304.4L1023.5 305.0L1025.4 305.6L1027.3 306.1L1029.2 306.7L1031.2 307.3L1033.1 307.8L1035.0 308.4L1036.9 309.0L1038.8 309.6L1040.7 310.1L1042.7 310.7L1044.6 311.3L1046.5 311.8L1048.4 312.4L1050.3 313.0L1052.3 313.5L1054.2 314.1L1056.1 314.7L1058.0 315.2L1059.9 315.8L1061.9 316.4L1063.8 316.9L1065.7 317.5L1067.6 318.1L1069.5 318.6L1071.5 319.2L1073.4 319.8L1075.3 320.3L1077.2 320.9L1079.1 321.5L1081.1 322.0L1083.0 322.6L1084.9 323.1L1086.8 323.7L1088.7 324.3L1090.7 324.8L1092.6 325.4L1094.5 326.0L1096.4 326.5L1098.4 327.1L1100.3 327.6L1102.2 328.2L1104.1 328.8L1106.0 329.3L1108.0 329.9L1109.9 330.4L1111.8 331.0L1113.7 331.6L1115.7 332.1L1117.6 332.7L1119.5 333.2L1121.4 333.8L1123.3 334.4L1125.3 334.9L1127.2 335.5L1129.1 336.0L1131.0 336.6L1133.0 337.1L1134.9 337.7L1136.8 338.2L1138.7 338.8L1140.7 339.3L1142.6 339.9L1144.5 340.4L1146.4 341.0L1148.4 341.5L1150.3 342.1L1152.2 342.6L1154.2 343.2L1156.1 343.7L1158.0 344.2L1159.9 344.8L1161.9 345.3L1163.8 345.9L1165.7 346.4L1167.7 346.9L1169.6 347.5L1171.5 348.0L1173.5 348.5L1175.4 349.1L1177.3 349.6L1179.2 350.1L1181.2 350.6L1183.1 351.1L1185.1 351.7L1187.0 352.2L1188.9 352.7L1190.9 353.2L1192.8 353.7L1194.7 354.2L1196.7 354.8L1198.6 355.3L1200.5 355.8L1202.5 356.3L1204.4 356.8L1206.4 357.3L1208.3 357.8L1210.2 358.3L1212.2 358.8L1214.1 359.3L1216.1 359.8L1218.0 360.3L1219.9 360.7L1221.9 361.2L1223.8 361.7L1225.8 362.2L1227.7 362.7L1229.7 363.2L1231.6 363.6L1233.5 364.1L1235.5 364.6L1237.4 365.1L1239.4 365.5L1241.3 366.0L1243.3 366.5L1245.2 366.9L1247.2 367.4L1249.1 367.9L1251.1 368.3L1253.0 368.8L1255.0 369.2L1256.9 369.7L1258.9 370.2L1260.8 370.6L1262.8 371.1L1264.7 371.5L1266.7 372.0L1268.6 372.4L1270.6 372.8L1272.5 373.3L1274.5 373.7L1276.4 374.1L1278.4 374.6L1280.4 375.0L1282.3 375.4L1284.3 375.9L1286.2 376.3L1288.2 376.7L1290.1 377.1L1292.1 377.6L1294.1 378.0L1296.0 378.4L1298.0 378.8L1299.9 379.2L1301.9 379.6L1303.9 380.0L1305.8 380.4L1307.8 380.8L1309.7 381.3L1311.7 381.7L1313.7 382.0L1315.6 382.4L1317.6 382.8L1319.5 383.2L1321.5 383.6L1323.5 384.0L1325.4 384.4L1327.4 384.8L1329.4 385.2L1331.3 385.5L1333.3 385.9L1335.3 386.3L1337.2 386.7L1339.2 387.0L1341.2 387.4L1343.1 387.8L1345.1 388.1L1347.1 388.5L1349.0 388.8L1351.0 389.2L1353.0 389.6L1354.9 389.9L1356.9 390.3L1358.9 390.6L1360.9 390.9L1362.8 391.3L1364.8 391.6L1366.8 392.0L1368.8 392.3L1370.7 392.6L1372.7 393.0L1374.7 393.3L1376.6 393.6L1378.6 394.0L1380.6 394.3L1382.6 394.6L1384.5 394.9L1386.5 395.2L1388.5 395.6L1390.5 395.9L1392.5 396.2L1394.4 396.5L1396.4 396.8L1398.4 397.1L1400.4 397.4L1402.3 397.7L1404.3 398.0L1406.3 398.3L1408.3 398.6L1410.3 398.9L1412.2 399.1L1414.2 399.4L1416.2 399.7L1418.2 400.0L1420.2 400.3L1422.2 400.5L1424.1 400.8L1426.1 401.1L1428.1 401.3L1430.1 401.6L1432.1 401.9L1434.1 402.1L1436.0 402.4L1438.0 402.6L1440.0 402.9L1442.0 403.1L1444.0 403.4L1446.0 403.6L1448.0 403.9L1450.0 404.1L1451.9 404.3L1453.9 404.6L1455.9 404.8L1457.9 405.0L1459.9 405.3L1461.9 405.5L1463.9 405.7L1465.9 405.9L1467.9 406.1L1469.8 406.3L1471.8 406.6L1473.8 406.8L1475.8 407.0L1477.8 407.2L1479.8 407.4L1481.8 407.6L1483.8 407.8L1485.8 408.0L1487.8 408.2L1489.8 408.3L1491.8 408.5L1493.8 408.7L1495.8 408.9L1497.8 409.1L1499.7 409.2L1501.7 409.4L1503.7 409.6L1505.7 409.7L1507.7 409.9L1509.7 410.1L1511.7 410.2L1513.7 410.4L1515.7 410.5L1517.7 410.7L1519.7 410.8L1521.7 411.0L1523.7 411.1L1525.7 411.2L1527.7 411.4L1529.7 411.5L1531.7 411.6L1533.7 411.8L1535.7 411.9L1537.7 412.0L1539.7 412.1L1541.7 412.3L1543.7 412.4L1545.7 412.5L1547.7 412.6L1549.7 412.7L1551.8 412.8L1553.8 412.9" stroke="#e69f00" stroke-width="2.2"/>
<path d="M271.5 139.8L273.5 140.0L275.5 140.2L277.5 140.5L279.5 140.7L281.5 140.9L283.5 141.1L285.4 141.4L287.4 141.6L289.4 141.8L291.4 142.1L293.4 142.3L295.4 142.5L297.4 142.8L299.4 143.0L301.3 143.2L303.3 143.5L305.3 143.7L307.3 144.0L309.3 144.2L311.3 144.5L313.2 144.7L315.2 145.0L317.2 145.2L319.2 145.5L321.2 145.8L323.2 146.0L325.1 146.3L327.1 146.5L329.1 146.8L331.1 147.1L333.1 147.3L335.1 147.6L337.0 147.9L339.0 148.1L341.0 148.4L343.0 148.7L345.0 149.0L346.9 149.3L348.9 149.5L350.9 149.8L352.9 150.1L354.9 150.4L356.8 150.7L358.8 151.0L360.8 151.3L362.8 151.5L364.8 151.8L366.7 152.1L368.7 152.4L370.7 152.7L372.7 153.0L374.6 153.3L376.6 153.6L378.6 153.9L380.6 154.2L382.5 154.5L384.5 154.8L386.5 155.2L388.5 155.5L390.5 155.8L392.4 156.1L394.4 156.4L396.4 156.7L398.4 157.0L400.3 157.4L402.3 157.7L404.3 158.0L406.2 158.3L408.2 158.6L410.2 159.0L412.2 159.3L414.1 159.6L416.1 159.9L418.1 160.3L420.1 160.6L422.0 160.9L424.0 161.3L426.0 161.6L427.9 161.9L429.9 162.3L431.9 162.6L433.9 163.0L435.8 163.3L437.8 163.7L439.8 164.0L441.7 164.3L443.7 164.7L445.7 165.0L447.6 165.4L449.6 165.7L451.6 166.1L453.6 166.4L455.5 166.8L457.5 167.1L459.5 167.5L461.4 167.9L463.4 168.2L465.4 168.6L467.3 168.9L469.3 169.3L471.3 169.7L473.2 170.0L475.2 170.4L477.2 170.8L479.1 171.1L481.1 171.5L483.1 171.9L485.0 172.2L487.0 172.6L489.0 173.0L490.9 173.3L492.9 173.7L494.9 174.1L496.8 174.5L498.8 174.8L500.8 175.2L502.7 175.6L504.7 176.0L506.6 176.4L508.6 176.8L510.6 177.1L512.5 177.5L514.5 177.9L516.5 178.3L518.4 178.7L520.4 179.1L522.3 179.5L524.3 179.8L526.3 180.2L528.2 180.6L530.2 181.0L532.2 181.4L534.1 181.8L536.1 182.2L538.0 182.6L540.0 183.0L542.0 183.4L543.9 183.8L545.9 184.2L547.8 184.6L549.8 185.0L551.8 185.4L553.7 185.8L555.7 186.2L557.6 186.6L559.6 187.0L561.6 187.4L563.5 187.8L565.5 188.2L567.4 188.6L569.4 189.0L571.3 189.4L573.3 189.9L575.3 190.3L577.2 190.7L579.2 191.1L581.1 191.5L583.1 191.9L585.0 192.3L587.0 192.8L589.0 193.2L590.9 193.6L592.9 194.0L594.8 194.4L596.8 194.8L598.7 195.3L600.7 195.7L602.7 196.1L604.6 196.5L606.6 197.0L608.5 197.4L610.5 197.8L612.4 198.2L614.4 198.7L616.3 199.1L618.3 199.5L620.2 199.9L622.2 200.4L624.1 200.8L626.1 201.2L628.0 201.7L630.0 202.1L632.0 202.5L633.9 203.0L635.9 203.4L637.8 203.9L639.8 204.3L641.7 204.7L643.7 205.2L645.6 205.6L647.6 206.1L649.5 206.5L651.5 206.9L653.4 207.4L655.4 207.8L657.3 208.3L659.3 208.7L661.2 209.2L663.2 209.6L665.1 210.1L667.1 210.5L669.0 211.0L671.0 211.4L672.9 211.9L674.8 212.3L676.8 212.8L678.7 213.3L680.7 213.7L682.6 214.2L684.6 214.6L686.5 215.1L688.5 215.6L690.4 216.0L692.4 216.5L694.3 216.9L696.3 217.4L698.2 217.9L700.1 218.3L702.1 218.8L704.0 219.3L706.0 219.7L707.9 220.2L709.9 220.7L711.8 221.2L713.7 221.6L715.7 222.1L717.6 222.6L719.6 223.1L721.5 223.5L723.5 224.0L725.4 224.5L727.3 225.0L729.3 225.5L731.2 225.9L733.2 226.4L735.1 226.9L737.0 227.4L739.0 227.9L740.9 228.4L742.9 228.9L744.8 229.4L746.7 229.8L748.7 230.3L750.6 230.8L752.5 231.3L754.5 231.8L756.4 232.3L758.4 232.8L760.3 233.3L762.2 233.8L764.2 234.3L766.1 234.8L768.0 235.3L770.0 235.8L771.9 236.3L773.8 236.8L775.8 237.3L777.7 237.8L779.6 238.3L781.6 238.9L783.5 239.4L785.5 239.9L787.4 240.4L789.3 240.9L791.2 241.4L793.2 241.9L795.1 242.5L797.0 243.0L799.0 243.5L800.9 244.0L802.8 244.5L804.8 245.1L806.7 245.6L808.6 246.1L810.6 246.6L812.5 247.1L814.4 247.7L816.3 248.2L818.3 248.7L820.2 249.3L822.1 249.8L824.1 250.3L826.0 250.8L827.9 251.4L829.8 251.9L831.8 252.4L833.7 253.0L835.6 253.5L837.6 254.0L839.5 254.6L841.4 255.1L843.3 255.7L845.3 256.2L847.2 256.7L849.1 257.3L851.0 257.8L853.0 258.4L854.9 258.9L856.8 259.4L858.7 260.0L860.7 260.5L862.6 261.1L864.5 261.6L866.4 262.2L868.4 262.7L870.3 263.2L872.2 263.8L874.1 264.3L876.1 264.9L878.0 265.4L879.9 266.0L881.8 266.5L883.8 267.1L885.7 267.6L887.6 268.2L889.5 268.7L891.5 269.3L893.4 269.8L895.3 270.4L897.2 270.9L899.2 271.5L901.1 272.0L903.0 272.6L904.9 273.1L906.9 273.7L908.8 274.2L910.7 274.8L912.6 275.3L914.5 275.9L916.5 276.4L918.4 277.0L920.3 277.5L922.2 278.1L924.2 278.6L926.1 279.2L928.0 279.8L929.9 280.3L931.8 280.9L933.8 281.4L935.7 282.0L937.6 282.5L939.5 283.1L941.5 283.6L943.4 284.2L945.3 284.7L947.2 285.3L949.1 285.8L951.1 286.4L953.0 286.9L954.9 287.5L956.8 288.1L958.8 288.6L960.7 289.2L962.6 289.7L964.5 290.3L966.5 290.8L968.4 291.4L970.3 291.9L972.2 292.5L974.1 293.0L976.1 293.6L978.0 294.1L979.9 294.7L981.8 295.2L983.8 295.8L985.7 296.3L987.6 296.9L989.5 297.4L991.5 298.0L993.4 298.5L995.3 299.1L997.2 299.6L999.1 300.2L1001.1 300.7L1003.0 301.3L1004.9 301.8L1006.8 302.4L1008.8 302.9L1010.7 303.4L1012.6 304.0L1014.5 304.5L1016.5 305.1L1018.4 305.6L1020.3 306.2L1022.2 306.7L1024.2 307.2L1026.1 307.8L1028.0 308.3L1029.9 308.9L1031.9 309.4L1033.8 309.9L1035.7 310.5L1037.6 311.0L1039.6 311.6L1041.5 312.1L1043.4 312.6L1045.4 313.2L1047.3 313.7L1049.2 314.2L1051.1 314.8L1053.1 315.3L1055.0 315.8L1056.9 316.4L1058.9 316.9L1060.8 317.4L1062.7 317.9L1064.6 318.5L1066.6 319.0L1068.5 319.5L1070.4 320.0L1072.4 320.6L1074.3 321.1L1076.2 321.6L1078.1 322.1L1080.1 322.6L1082.0 323.2L1083.9 323.7L1085.9 324.2L1087.8 324.7L1089.7 325.2L1091.7 325.7L1093.6 326.3L1095.5 326.8L1097.5 327.3L1099.4 327.8L1101.3 328.3L1103.3 328.8L1105.2 329.3L1107.1 329.8L1109.1 330.3L1111.0 330.8L1112.9 331.3L1114.9 331.8L1116.8 332.3L1118.7 332.8L1120.7 333.3L1122.6 333.8L1124.6 334.3L1126.5 334.8L1128.4 335.3L1130.4 335.8L1132.3 336.3L1134.2 336.8L1136.2 337.2L1138.1 337.7L1140.1 338.2L1142.0 338.7L1143.9 339.2L1145.9 339.7L1147.8 340.1L1149.8 340.6L1151.7 341.1L1153.7 341.6L1155.6 342.0L1157.5 342.5L1159.5 343.0L1161.4 343.4L1163.4 343.9L1165.3 344.4L1167.3 344.8L1169.2 345.3L1171.1 345.8L1173.1 346.2L1175.0 346.7L1177.0 347.1L1178.9 347.6L1180.9 348.1L1182.8 348.5L1184.8 349.0L1186.7 349.4L1188.7 349.8L1190.6 350.3L1192.6 350.7L1194.5 351.2L1196.5 351.6L1198.4 352.1L1200.4 352.5L1202.3 352.9L1204.3 353.4L1206.2 353.8L1208.2 354.2L1210.1 354.7L1212.1 355.1L1214.0 355.5L1216.0 355.9L1218.0 356.3L1219.9 356.8L1221.9 357.2L1223.8 357.6L1225.8 358.0L1227.7 358.4L1229.7 358.8L1231.6 359.2L1233.6 359.7L1235.6 360.1L1237.5 360.5L1239.5 360.9L1241.4 361.3L1243.4 361.7L1245.4 362.1L1247.3 362.5L1249.3 362.8L1251.2 363.2L1253.2 363.6L1255.2 364.0L1257.1 364.4L1259.1 364.8L1261.0 365.2L1263.0 365.5L1265.0 365.9L1266.9 366.3L1268.9 366.7L1270.9 367.0L1272.8 367.4L1274.8 367.8L1276.8 368.1L1278.7 368.5L1280.7 368.9L1282.7 369.2L1284.6 369.6L1286.6 369.9L1288.6 370.3L1290.5 370.7L1292.5 371.0L1294.5 371.4L1296.4 371.7L1298.4 372.0L1300.4 372.4L1302.4 372.7L1304.3 373.1L1306.3 373.4L1308.3 373.7L1310.2 374.1L1312.2 374.4L1314.2 374.7L1316.2 375.1L1318.1 375.4L1320.1 375.7L1322.1 376.0L1324.1 376.3L1326.0 376.7L1328.0 377.0L1330.0 377.3L1332.0 377.6L1333.9 377.9L1335.9 378.2L1337.9 378.5L1339.9 378.8L1341.8 379.1L1343.8 379.4L1345.8 379.7L1347.8 380.0L1349.7 380.3L1351.7 380.6L1353.7 380.8L1355.7 381.1L1357.7 381.4L1359.6 381.7L1361.6 382.0L1363.6 382.2L1365.6 382.5L1367.6 382.8L1369.5 383.0L1371.5 383.3L1373.5 383.6L1375.5 383.8L1377.5 384.1L1379.5 384.4L1381.4 384.6L1383.4 384.9L1385.4 385.1L1387.4 385.4L1389.4 385.6L1391.4 385.8L1393.3 386.1L1395.3 386.3L1397.3 386.6L1399.3 386.8L1401.3 387.0L1403.3 387.3L1405.3 387.5L1407.3 387.7L1409.2 387.9L1411.2 388.1L1413.2 388.4L1415.2 388.6L1417.2 388.8L1419.2 389.0L1421.2 389.2L1423.2 389.4L1425.2 389.6L1427.1 389.8L1429.1 390.0L1431.1 390.2L1433.1 390.4L1435.1 390.6L1437.1 390.8L1439.1 391.0L1441.1 391.1L1443.1 391.3L1445.1 391.5L1447.1 391.7L1449.1 391.8L1451.0 392.0L1453.0 392.2L1455.0 392.3L1457.0 392.5L1459.0 392.7L1461.0 392.8L1463.0 393.0L1465.0 393.1L1467.0 393.3L1469.0 393.4L1471.0 393.6L1473.0 393.7L1475.0 393.9L1477.0 394.0L1479.0 394.1L1481.0 394.3L1483.0 394.4L1485.0 394.5L1487.0 394.6L1489.0 394.8L1491.0 394.9L1493.0 395.0L1495.0 395.1L1497.0 395.2L1499.0 395.3L1501.0 395.4L1503.0 395.5L1505.0 395.6L1507.0 395.7L1509.0 395.8L1511.0 395.9L1513.0 396.0L1515.0 396.1L1517.0 396.2L1519.0 396.2L1521.0 396.3L1523.0 396.4L1525.0 396.5L1527.0 396.5L1529.0 396.6L1531.0 396.7L1533.0 396.7L1535.0 396.8L1537.0 396.8L1539.0 396.9L1541.0 396.9L1543.0 397.0L1545.0 397.0L1547.0 397.1L1549.1 397.1L1551.1 397.2L1553.1 397.2L1555.1 397.2L1557.1 397.2L1559.1 397.3L1561.1 397.3" stroke="#f0e442" stroke-width="2.2"/>
<path d="M317.7 148.8L319.7 149.1L321.7 149.3L323.6 149.6L325.6 149.8L327.6 150.1L329.6 150.3L331.6 150.6L333.6 150.8L335.6 151.1L337.6 151.4L339.5 151.6L341.5 151.9L343.5 152.2L345.5 152.4L347.5 152.7L349.5 153.0L351.4 153.2L353.4 153.5L355.4 153.8L357.4 154.1L359.4 154.4L361.4 154.6L363.3 154.9L365.3 155.2L367.3 155.5L369.3 155.8L371.3 156.1L373.2 156.4L375.2 156.7L377.2 157.0L379.2 157.3L381.2 157.6L383.1 157.9L385.1 158.2L387.1 158.5L389.1 158.8L391.1 159.1L393.0 159.4L395.0 159.7L397.0 160.0L399.0 160.3L401.0 160.6L402.9 161.0L404.9 161.3L406.9 161.6L408.9 161.9L410.8 162.2L412.8 162.6L414.8 162.9L416.8 163.2L418.7 163.5L420.7 163.9L422.7 164.2L424.7 164.5L426.6 164.9L428.6 165.2L430.6 165.5L432.6 165.9L434.5 166.2L436.5 166.6L438.5 166.9L440.4 167.2L442.4 167.6L444.4 167.9L446.4 168.3L448.3 168.6L450.3 169.0L452.3 169.3L454.3 169.6L456.2 170.0L458.2 170.3L460.2 170.7L462.1 171.0L464.1 171.4L466.1 171.8L468.0 172.1L470.0 172.5L472.0 172.8L474.0 173.2L475.9 173.5L477.9 173.9L479.9 174.3L481.8 174.6L483.8 175.0L485.8 175.3L487.7 175.7L489.7 176.1L491.7 176.4L493.7 176.8L495.6 177.2L497.6 177.5L499.6 177.9L501.5 178.2L503.5 178.6L505.5 179.0L507.4 179.4L509.4 179.7L511.4 180.1L513.3 180.5L515.3 180.8L517.3 181.2L519.2 181.6L521.2 181.9L523.2 182.3L525.1 182.7L527.1 183.1L529.1 183.4L531.0 183.8L533.0 184.2L535.0 184.6L536.9 184.9L538.9 185.3L540.9 185.7L542.8 186.1L544.8 186.4L546.8 186.8L548.7 187.2L550.7 187.6L552.7 187.9L554.6 188.3L556.6 188.7L558.6 189.1L560.5 189.4L562.5 189.8L564.5 190.2L566.4 190.6L568.4 190.9L570.4 191.3L572.3 191.7L574.3 192.1L576.3 192.4L578.2 192.8L580.2 193.2L582.2 193.6L584.1 194.0L586.1 194.3L588.1 194.7L590.0 195.1L592.0 195.5L594.0 195.8L595.9 196.2L597.9 196.6L599.9 197.0L601.8 197.3L603.8 197.7L605.8 198.1L607.7 198.4L609.7 198.8L611.7 199.2L613.6 199.6L615.6 199.9L617.6 200.3L619.5 200.7L621.5 201.1L623.5 201.4L625.4 201.8L627.4 202.2L629.4 202.5L631.3 202.9L633.3 203.3L635.3 203.6L637.2 204.0L639.2 204.4L641.2 204.7L643.1 205.1L645.1 205.5L647.1 205.8L649.0 206.2L651.0 206.6L653.0 207.0L654.9 207.3L656.9 207.7L658.9 208.1L660.8 208.4L662.8 208.8L664.8 209.2L666.7 209.6L668.7 209.9L670.7 210.3L672.6 210.7L674.6 211.1L676.6 211.5L678.5 211.8L680.5 212.2L682.4 212.6L684.4 213.0L686.4 213.4L688.3 213.8L690.3 214.1L692.3 214.5L694.2 214.9L696.2 215.3L698.1 215.7L700.1 216.1L702.1 216.5L704.0 216.9L706.0 217.3L707.9 217.7L709.9 218.1L711.9 218.5L713.8 218.9L715.8 219.4L717.7 219.8L719.7 220.2L721.6 220.6L723.6 221.0L725.6 221.4L727.5 221.9L729.5 222.3L731.4 222.7L733.4 223.2L735.3 223.6L737.3 224.0L739.2 224.5L741.2 224.9L743.1 225.3L745.1 225.8L747.0 226.2L749.0 226.7L750.9 227.1L752.9 227.6L754.8 228.0L756.8 228.5L758.7 229.0L760.7 229.4L762.6 229.9L764.6 230.4L766.5 230.8L768.5 231.3L770.4 231.8L772.4 232.2L774.3 232.7L776.2 233.2L778.2 233.7L780.1 234.1L782.1 234.6L784.0 235.1L786.0 235.6L787.9 236.1L789.8 236.6L791.8 237.1L793.7 237.5L795.7 238.0L797.6 238.5L799.5 239.0L801.5 239.5L803.4 240.0L805.4 240.5L807.3 241.0L809.2 241.5L811.2 242.0L813.1 242.5L815.1 243.0L817.0 243.5L818.9 244.1L820.9 244.6L822.8 245.1L824.7 245.6L826.7 246.1L828.6 246.6L830.5 247.1L832.5 247.6L834.4 248.2L836.4 248.7L838.3 249.2L840.2 249.7L842.2 250.2L844.1 250.7L846.0 251.3L848.0 251.8L849.9 252.3L851.8 252.8L853.8 253.4L855.7 253.9L857.6 254.4L859.6 254.9L861.5 255.5L863.4 256.0L865.4 256.5L867.3 257.0L869.2 257.6L871.2 258.1L873.1 258.6L875.0 259.1L876.9 259.7L878.9 260.2L880.8 260.7L882.7 261.3L884.7 261.8L886.6 262.3L888.5 262.9L890.5 263.4L892.4 263.9L894.3 264.5L896.2 265.0L898.2 265.5L900.1 266.1L902.0 266.6L904.0 267.1L905.9 267.7L907.8 268.2L909.8 268.7L911.7 269.3L913.6 269.8L915.5 270.4L917.5 270.9L919.4 271.4L921.3 272.0L923.3 272.5L925.2 273.0L927.1 273.6L929.0 274.1L931.0 274.7L932.9 275.2L934.8 275.7L936.8 276.3L938.7 276.8L940.6 277.4L942.5 277.9L944.5 278.4L946.4 279.0L948.3 279.5L950.2 280.1L952.2 280.6L954.1 281.2L956.0 281.7L958.0 282.2L959.9 282.8L961.8 283.3L963.7 283.9L965.7 284.4L967.6 284.9L969.5 285.5L971.4 286.0L973.4 286.6L975.3 287.1L977.2 287.7L979.2 288.2L981.1 288.7L983.0 289.3L984.9 289.8L986.9 290.4L988.8 290.9L990.7 291.4L992.6 292.0L994.6 292.5L996.5 293.1L998.4 293.6L1000.4 294.2L1002.3 294.7L1004.2 295.2L1006.1 295.8L1008.1 296.3L1010.0 296.9L1011.9 297.4L1013.8 297.9L1015.8 298.5L1017.7 299.0L1019.6 299.6L1021.6 300.1L1023.5 300.6L1025.4 301.2L1027.3 301.7L1029.3 302.2L1031.2 302.8L1033.1 303.3L1035.1 303.9L1037.0 304.4L1038.9 304.9L1040.8 305.5L1042.8 306.0L1044.7 306.5L1046.6 307.1L1048.6 307.6L1050.5 308.1L1052.4 308.7L1054.3 309.2L1056.3 309.7L1058.2 310.3L1060.1 310.8L1062.1 311.3L1064.0 311.9L1065.9 312.4L1067.9 312.9L1069.8 313.5L1071.7 314.0L1073.6 314.5L1075.6 315.1L1077.5 315.6L1079.4 316.1L1081.4 316.6L1083.3 317.2L1085.2 317.7L1087.2 318.2L1089.1 318.7L1091.0 319.3L1093.0 319.8L1094.9 320.3L1096.8 320.8L1098.8 321.4L1100.7 321.9L1102.6 322.4L1104.6 322.9L1106.5 323.4L1108.4 324.0L1110.4 324.5L1112.3 325.0L1114.2 325.5L1116.2 326.0L1118.1 326.5L1120.0 327.1L1122.0 327.6L1123.9 328.1L1125.8 328.6L1127.8 329.1L1129.7 329.6L1131.6 330.1L1133.6 330.6L1135.5 331.1L1137.4 331.7L1139.4 332.2L1141.3 332.7L1143.3 333.2L1145.2 333.7L1147.1 334.2L1149.1 334.7L1151.0 335.2L1153.0 335.7L1154.9 336.2L1156.8 336.7L1158.8 337.2L1160.7 337.7L1162.6 338.2L1164.6 338.7L1166.5 339.2L1168.5 339.7L1170.4 340.2L1172.4 340.6L1174.3 341.1L1176.2 341.6L1178.2 342.1L1180.1 342.6L1182.1 343.1L1184.0 343.6L1186.0 344.1L1187.9 344.5L1189.8 345.0L1191.8 345.5L1193.7 346.0L1195.7 346.5L1197.6 346.9L1199.6 347.4L1201.5 347.9L1203.5 348.4L1205.4 348.8L1207.3 349.3L1209.3 349.8L1211.2 350.3L1213.2 350.7L1215.1 351.2L1217.1 351.7L1219.0 352.1L1221.0 352.6L1222.9 353.0L1224.9 353.5L1226.8 354.0L1228.8 354.4L1230.7 354.9L1232.7 355.3L1234.6 355.8L1236.6 356.2L1238.5 356.7L1240.5 357.1L1242.4 357.6L1244.4 358.0L1246.3 358.5L1248.3 358.9L1250.3 359.4L1252.2 359.8L1254.2 360.3L1256.1 360.7L1258.1 361.1L1260.0 361.6L1262.0 362.0L1263.9 362.4L1265.9 362.9L1267.8 363.3L1269.8 363.7L1271.8 364.1L1273.7 364.6L1275.7 365.0L1277.6 365.4L1279.6 365.8L1281.5 366.3L1283.5 366.7L1285.5 367.1L1287.4 367.5L1289.4 367.9L1291.3 368.3L1293.3 368.7L1295.3 369.1L1297.2 369.5L1299.2 370.0L1301.1 370.4L1303.1 370.8L1305.1 371.2L1307.0 371.5L1309.0 371.9L1311.0 372.3L1312.9 372.7L1314.9 373.1L1316.9 373.5L1318.8 373.9L1320.8 374.3L1322.7 374.7L1324.7 375.0L1326.7 375.4L1328.6 375.8L1330.6 376.2L1332.6 376.5L1334.5 376.9L1336.5 377.3L1338.5 377.6L1340.4 378.0L1342.4 378.4L1344.4 378.7L1346.4 379.1L1348.3 379.4L1350.3 379.8L1352.3 380.2L1354.2 380.5L1356.2 380.9L1358.2 381.2L1360.1 381.5L1362.1 381.9L1364.1 382.2L1366.1 382.6L1368.0 382.9L1370.0 383.2L1372.0 383.6L1374.0 383.9L1375.9 384.2L1377.9 384.5L1379.9 384.9L1381.9 385.2L1383.8 385.5L1385.8 385.8L1387.8 386.1L1389.8 386.4L1391.7 386.8L1393.7 387.1L1395.7 387.4L1397.7 387.7L1399.6 388.0L1401.6 388.3L1403.6 388.6L1405.6 388.9L1407.6 389.2L1409.5 389.4L1411.5 389.7L1413.5 390.0L1415.5 390.3L1417.5 390.6L1419.4 390.8L1421.4 391.1L1423.4 391.4L1425.4 391.7L1427.4 391.9L1429.4 392.2L1431.3 392.5L1433.3 392.7L1435.3 393.0L1437.3 393.2L1439.3 393.5L1441.3 393.7L1443.2 394.0L1445.2 394.2L1447.2 394.5L1449.2 394.7L1451.2 394.9L1453.2 395.2L1455.2 395.4L1457.2 395.6L1459.1 395.8L1461.1 396.1L1463.1 396.3L1465.1 396.5L1467.1 396.7L1469.1 396.9L1471.1 397.1L1473.1 397.4L1475.1 397.6L1477.1 397.8L1479.1 398.0L1481.0 398.2L1483.0 398.3L1485.0 398.5L1487.0 398.7L1489.0 398.9L1491.0 399.1L1493.0 399.3L1495.0 399.4L1497.0 399.6L1499.0 399.8L1501.0 399.9L1503.0 400.1L1505.0 400.3L1507.0 400.4L1509.0 400.6L1511.0 400.7L1513.0 400.9L1515.0 401.0L1517.0 401.2L1519.0 401.3L1521.0 401.5L1523.0 401.6L1525.0 401.7L1527.0 401.9L1529.0 402.0L1531.0 402.1L1533.0 402.2L1535.0 402.3L1537.0 402.4L1539.0 402.6L1541.0 402.7L1543.0 402.8L1545.0 402.9L1547.0 403.0L1549.0 403.1L1551.0 403.1L1553.0 403.2L1555.0 403.3L1557.0 403.4L1559.0 403.5L1561.0 403.6" stroke="#0072b2" stroke-width="2.2"/>
<path d="M339.4 181.9L341.4 182.0L343.4 182.1L345.4 182.2L347.4 182.3L349.4 182.4L351.4 182.6L353.4 182.7L355.4 182.8L357.4 183.0L359.4 183.1L361.4 183.2L363.4 183.4L365.4 183.5L367.4 183.7L369.4 183.8L371.4 184.0L373.4 184.1L375.4 184.3L377.3 184.4L379.3 184.6L381.3 184.8L383.3 185.0L385.3 185.1L387.3 185.3L389.3 185.5L391.3 185.7L393.3 185.8L395.3 186.0L397.3 186.2L399.3 186.4L401.3 186.6L403.3 186.8L405.3 187.0L407.3 187.2L409.2 187.4L411.2 187.6L413.2 187.8L415.2 188.0L417.2 188.3L419.2 188.5L421.2 188.7L423.2 188.9L425.2 189.1L427.2 189.4L429.2 189.6L431.1 189.8L433.1 190.0L435.1 190.3L437.1 190.5L439.1 190.8L441.1 191.0L443.1 191.2L445.1 191.5L447.0 191.7L449.0 192.0L451.0 192.2L453.0 192.5L455.0 192.7L457.0 193.0L459.0 193.3L461.0 193.5L462.9 193.8L464.9 194.0L466.9 194.3L468.9 194.6L470.9 194.8L472.9 195.1L474.9 195.4L476.8 195.7L478.8 195.9L480.8 196.2L482.8 196.5L484.8 196.8L486.8 197.0L488.7 197.3L490.7 197.6L492.7 197.9L494.7 198.2L496.7 198.5L498.6 198.8L500.6 199.1L502.6 199.3L504.6 199.6L506.6 199.9L508.6 200.2L510.5 200.5L512.5 200.8L514.5 201.1L516.5 201.4L518.4 201.7L520.4 202.0L522.4 202.3L524.4 202.7L526.4 203.0L528.3 203.3L530.3 203.6L532.3 203.9L534.3 204.2L536.2 204.5L538.2 204.8L540.2 205.1L542.2 205.5L544.2 205.8L546.1 206.1L548.1 206.4L550.1 206.7L552.1 207.1L554.0 207.4L556.0 207.7L558.0 208.0L560.0 208.4L561.9 208.7L563.9 209.0L565.9 209.4L567.8 209.7L569.8 210.0L571.8 210.4L573.8 210.7L575.7 211.0L577.7 211.4L579.7 211.7L581.7 212.1L583.6 212.4L585.6 212.7L587.6 213.1L589.5 213.4L591.5 213.8L593.5 214.1L595.4 214.5L597.4 214.8L599.4 215.2L601.4 215.5L603.3 215.9L605.3 216.2L607.3 216.6L609.2 216.9L611.2 217.3L613.2 217.6L615.1 218.0L617.1 218.3L619.1 218.7L621.0 219.1L623.0 219.4L625.0 219.8L627.0 220.1L628.9 220.5L630.9 220.9L632.9 221.2L634.8 221.6L636.8 222.0L638.8 222.3L640.7 222.7L642.7 223.1L644.7 223.4L646.6 223.8L648.6 224.2L650.5 224.5L652.5 224.9L654.5 225.3L656.4 225.7L658.4 226.0L660.4 226.4L662.3 226.8L664.3 227.2L666.3 227.5L668.2 227.9L670.2 228.3L672.2 228.7L674.1 229.0L676.1 229.4L678.1 229.8L680.0 230.2L682.0 230.6L683.9 231.0L685.9 231.3L687.9 231.7L689.8 232.1L691.8 232.5L693.8 232.9L695.7 233.3L697.7 233.6L699.7 234.0L701.6 234.4L703.6 234.8L705.5 235.2L707.5 235.6L709.5 236.0L711.4 236.3L713.4 236.7L715.4 237.1L717.3 237.5L719.3 237.9L721.2 238.3L723.2 238.6L725.2 239.0L727.1 239.4L729.1 239.8L731.1 240.2L733.0 240.6L735.0 240.9L737.0 241.3L738.9 241.7L740.9 242.1L742.9 242.4L744.8 242.8L746.8 243.2L748.8 243.6L750.7 243.9L752.7 244.3L754.7 244.7L756.6 245.1L758.6 245.4L760.6 245.8L762.5 246.2L764.5 246.5L766.5 246.9L768.4 247.3L770.4 247.7L772.4 248.0L774.3 248.4L776.3 248.8L778.3 249.2L780.2 249.5L782.2 249.9L784.2 250.3L786.1 250.7L788.1 251.0L790.1 251.4L792.0 251.8L794.0 252.2L796.0 252.6L797.9 253.0L799.9 253.4L801.9 253.7L803.8 254.1L805.8 254.5L807.7 254.9L809.7 255.3L811.7 255.7L813.6 256.1L815.6 256.5L817.5 256.9L819.5 257.3L821.5 257.8L823.4 258.2L825.4 258.6L827.3 259.0L829.3 259.4L831.3 259.8L833.2 260.2L835.2 260.7L837.1 261.1L839.1 261.5L841.0 261.9L843.0 262.4L845.0 262.8L846.9 263.2L848.9 263.6L850.8 264.1L852.8 264.5L854.7 264.9L856.7 265.4L858.6 265.8L860.6 266.3L862.5 266.7L864.5 267.1L866.4 267.6L868.4 268.0L870.3 268.5L872.3 268.9L874.2 269.4L876.2 269.8L878.1 270.3L880.1 270.7L882.0 271.2L884.0 271.6L885.9 272.1L887.9 272.5L889.8 273.0L891.8 273.5L893.7 273.9L895.7 274.4L897.6 274.8L899.6 275.3L901.5 275.8L903.5 276.2L905.4 276.7L907.4 277.2L909.3 277.6L911.3 278.1L913.2 278.6L915.2 279.0L917.1 279.5L919.1 280.0L921.0 280.4L922.9 280.9L924.9 281.4L926.8 281.9L928.8 282.3L930.7 282.8L932.7 283.3L934.6 283.8L936.6 284.2L938.5 284.7L940.4 285.2L942.4 285.7L944.3 286.2L946.3 286.6L948.2 287.1L950.2 287.6L952.1 288.1L954.1 288.6L956.0 289.0L957.9 289.5L959.9 290.0L961.8 290.5L963.8 291.0L965.7 291.5L967.7 292.0L969.6 292.4L971.5 292.9L973.5 293.4L975.4 293.9L977.4 294.4L979.3 294.9L981.2 295.4L983.2 295.9L985.1 296.3L987.1 296.8L989.0 297.3L991.0 297.8L992.9 298.3L994.8 298.8L996.8 299.3L998.7 299.8L1000.7 300.2L1002.6 300.7L1004.6 301.2L1006.5 301.7L1008.4 302.2L1010.4 302.7L1012.3 303.2L1014.3 303.7L1016.2 304.2L1018.1 304.7L1020.1 305.1L1022.0 305.6L1024.0 306.1L1025.9 306.6L1027.9 307.1L1029.8 307.6L1031.7 308.1L1033.7 308.6L1035.6 309.0L1037.6 309.5L1039.5 310.0L1041.5 310.5L1043.4 311.0L1045.3 311.5L1047.3 312.0L1049.2 312.4L1051.2 312.9L1053.1 313.4L1055.1 313.9L1057.0 314.4L1058.9 314.9L1060.9 315.4L1062.8 315.8L1064.8 316.3L1066.7 316.8L1068.7 317.3L1070.6 317.8L1072.5 318.2L1074.5 318.7L1076.4 319.2L1078.4 319.7L1080.3 320.1L1082.3 320.6L1084.2 321.1L1086.2 321.6L1088.1 322.0L1090.0 322.5L1092.0 323.0L1093.9 323.5L1095.9 323.9L1097.8 324.4L1099.8 324.9L1101.7 325.3L1103.7 325.8L1105.6 326.3L1107.6 326.7L1109.5 327.2L1111.5 327.7L1113.4 328.1L1115.4 328.6L1117.3 329.1L1119.3 329.5L1121.2 330.0L1123.2 330.4L1125.1 330.9L1127.0 331.3L1129.0 331.8L1130.9 332.3L1132.9 332.7L1134.8 333.2L1136.8 333.6L1138.8 334.1L1140.7 334.5L1142.7 335.0L1144.6 335.4L1146.6 335.8L1148.5 336.3L1150.5 336.7L1152.4 337.2L1154.4 337.6L1156.3 338.0L1158.3 338.5L1160.2 338.9L1162.2 339.3L1164.1 339.8L1166.1 340.2L1168.0 340.6L1170.0 341.1L1172.0 341.5L1173.9 341.9L1175.9 342.3L1177.8 342.8L1179.8 343.2L1181.7 343.6L1183.7 344.0L1185.7 344.4L1187.6 344.8L1189.6 345.3L1191.5 345.7L1193.5 346.1L1195.5 346.5L1197.4 346.9L1199.4 347.3L1201.3 347.7L1203.3 348.1L1205.3 348.5L1207.2 348.9L1209.2 349.3L1211.1 349.7L1213.1 350.1L1215.1 350.5L1217.0 350.9L1219.0 351.2L1221.0 351.6L1222.9 352.0L1224.9 352.4L1226.9 352.8L1228.8 353.1L1230.8 353.5L1232.8 353.9L1234.7 354.3L1236.7 354.6L1238.7 355.0L1240.6 355.4L1242.6 355.7L1244.6 356.1L1246.5 356.5L1248.5 356.8L1250.5 357.2L1252.4 357.6L1254.4 357.9L1256.4 358.3L1258.4 358.6L1260.3 359.0L1262.3 359.3L1264.3 359.7L1266.2 360.0L1268.2 360.3L1270.2 360.7L1272.2 361.0L1274.1 361.4L1276.1 361.7L1278.1 362.0L1280.0 362.4L1282.0 362.7L1284.0 363.0L1286.0 363.3L1287.9 363.7L1289.9 364.0L1291.9 364.3L1293.9 364.6L1295.9 364.9L1297.8 365.2L1299.8 365.6L1301.8 365.9L1303.8 366.2L1305.7 366.5L1307.7 366.8L1309.7 367.1L1311.7 367.4L1313.7 367.7L1315.6 368.0L1317.6 368.3L1319.6 368.5L1321.6 368.8L1323.6 369.1L1325.5 369.4L1327.5 369.7L1329.5 370.0L1331.5 370.2L1333.5 370.5L1335.4 370.8L1337.4 371.1L1339.4 371.3L1341.4 371.6L1343.4 371.9L1345.4 372.1L1347.3 372.4L1349.3 372.6L1351.3 372.9L1353.3 373.2L1355.3 373.4L1357.3 373.7L1359.3 373.9L1361.2 374.2L1363.2 374.4L1365.2 374.6L1367.2 374.9L1369.2 375.1L1371.2 375.3L1373.2 375.6L1375.1 375.8L1377.1 376.0L1379.1 376.3L1381.1 376.5L1383.1 376.7L1385.1 376.9L1387.1 377.1L1389.1 377.3L1391.1 377.6L1393.0 377.8L1395.0 378.0L1397.0 378.2L1399.0 378.4L1401.0 378.6L1403.0 378.8L1405.0 379.0L1407.0 379.2L1409.0 379.4L1411.0 379.5L1413.0 379.7L1415.0 379.9L1417.0 380.1L1418.9 380.3L1420.9 380.4L1422.9 380.6L1424.9 380.8L1426.9 380.9L1428.9 381.1L1430.9 381.3L1432.9 381.4L1434.9 381.6L1436.9 381.7L1438.9 381.9L1440.9 382.1L1442.9 382.2L1444.9 382.3L1446.9 382.5L1448.9 382.6L1450.9 382.8L1452.9 382.9L1454.9 383.0L1456.9 383.2L1458.9 383.3L1460.9 383.4L1462.9 383.5L1464.9 383.7L1466.9 383.8L1468.9 383.9L1470.9 384.0L1472.9 384.1L1474.9 384.2L1476.9 384.3L1478.9 384.4L1480.9 384.5L1482.9 384.6L1484.9 384.7L1486.9 384.8L1488.9 384.9L1490.9 385.0L1492.9 385.1L1494.9 385.1L1496.9 385.2L1498.9 385.3L1500.9 385.4L1502.9 385.4L1504.9 385.5L1506.9 385.6L1508.9 385.6L1510.9 385.7L1512.9 385.7L1514.9 385.8L1516.9 385.8L1518.9 385.9L1520.9 385.9L1522.9 386.0L1524.9 386.0L1526.9 386.0L1528.9 386.1L1531.0 386.1L1533.0 386.1L1535.0 386.1L1537.0 386.2L1539.0 386.2L1541.0 386.2L1543.0 386.2L1545.0 386.2L1547.0 386.2L1549.0 386.2L1551.0 386.2L1553.0 386.2L1555.0 386.2L1557.1 386.2L1559.1 386.2L1561.1 386.2" stroke="#e51e10" stroke-width="2.2"/>
<path d="M1054.0 417.4L1054.1 417.4L1055.0 417.9L1055.8 418.5L1056.7 419.0L1057.6 419.5L1058.4 420.0L1059.3 420.5L1060.1 421.0L1061.0 421.5L1061.9 422.0L1062.7 422.5L1063.6 423.1L1064.4 423.6L1065.3 424.1L1066.2 424.6L1067.0 425.1L1067.9 425.6L1068.7 426.1L1069.6 426.7L1070.4 427.2L1071.3 427.7L1072.1 428.2L1073.0 428.7L1073.9 429.3L1074.4 429.6M1004.1 388.4L1004.8 388.8L1005.7 389.3L1006.5 389.8L1007.4 390.3L1008.3 390.8L1009.1 391.3L1010.0 391.8L1010.9 392.3L1011.7 392.8L1012.6 393.3L1013.5 393.8L1014.3 394.3L1015.2 394.8L1016.1 395.2L1016.9 395.7L1017.8 396.2L1018.7 396.7L1019.5 397.2L1020.4 397.7L1021.3 398.2L1022.1 398.7L1023.0 399.2L1023.9 399.8L1024.7 400.3L1024.7 400.3M953.7 360.4L954.0 360.6L954.9 361.1L955.8 361.6L956.7 362.0L957.6 362.5L958.4 363.0L959.3 363.5L960.2 363.9L961.1 364.4L962.0 364.9L962.8 365.4L963.7 365.9L964.6 366.3L965.5 366.8L966.4 367.3L967.2 367.8L968.1 368.3L969.0 368.7L969.9 369.2L970.7 369.7L971.6 370.2L972.5 370.7L973.4 371.2L974.2 371.6L974.6 371.8M902.5 333.7L902.6 333.8L903.5 334.2L904.4 334.7L905.3 335.1L906.2 335.6L907.1 336.0L908.0 336.5L908.9 336.9L909.7 337.4L910.6 337.8L911.5 338.3L912.4 338.7L913.3 339.2L914.2 339.6L915.1 340.1L916.0 340.6L916.9 341.0L917.8 341.5L918.7 341.9L919.5 342.4L920.4 342.8L921.3 343.3L922.2 343.8L923.1 344.2L923.7 344.6M850.7 308.4L851.4 308.8L852.3 309.2L853.2 309.7L854.0 310.1L854.9 310.5L855.8 311.0L856.7 311.4L857.6 311.9L858.5 312.3L859.4 312.7L860.3 313.2L861.2 313.6L862.1 314.0L863.0 314.5L863.9 314.9L864.8 315.3L865.7 315.8L866.7 316.2L867.6 316.6L868.5 317.1L869.4 317.5L870.3 317.9L871.2 318.4L872.1 318.8L872.1 318.8M798.9 283.2L799.2 283.4L800.2 283.8L801.1 284.2L802.0 284.6L802.9 285.0L803.8 285.4L804.7 285.8L805.7 286.2L806.6 286.6L807.5 287.0L808.4 287.4L809.3 287.8L810.2 288.2L811.2 288.6L812.1 289.0L813.0 289.4L813.9 289.8L814.8 290.2L815.7 290.6L816.7 291.0L817.6 291.4L818.5 291.8L819.4 292.3L820.3 292.7L820.6 292.8M746.3 259.6L746.4 259.6L747.3 260.0L748.2 260.4L749.2 260.8L750.1 261.1L751.0 261.5L751.9 261.9L752.9 262.3L753.8 262.7L754.7 263.0L755.6 263.4L756.6 263.8L757.5 264.2L758.4 264.5L759.3 264.9L760.3 265.3L761.2 265.7L762.1 266.0L763.0 266.4L764.0 266.8L764.9 267.2L765.8 267.6L766.7 268.0L767.6 268.4L768.3 268.7M693.2 237.0L693.9 237.3L694.9 237.6L695.8 237.9L696.8 238.3L697.7 238.6L698.7 238.9L699.6 239.3L700.5 239.6L701.5 240.0L702.4 240.3L703.4 240.7L704.3 241.0L705.2 241.4L706.2 241.7L707.1 242.1L708.0 242.5L708.9 242.8L709.9 243.2L710.8 243.6L711.7 244.0L712.6 244.3L713.6 244.7L714.5 245.1L715.4 245.5L715.4 245.5M638.0 220.5L638.3 220.6L639.3 220.8L640.3 221.1L641.2 221.4L642.2 221.7L643.1 222.0L644.1 222.3L645.1 222.5L646.0 222.8L647.0 223.1L648.0 223.4L648.9 223.7L649.9 223.9L650.8 224.2L651.8 224.5L652.8 224.8L653.7 225.0L654.7 225.3L655.7 225.6L656.6 225.9L657.6 226.2L658.5 226.4L659.5 226.7L660.5 227.0L660.8 227.1M582.8 203.6L582.9 203.6L583.8 203.9L584.8 204.2L585.7 204.5L586.7 204.7L587.7 205.0L588.6 205.3L589.6 205.6L590.5 205.8L591.5 206.1L592.5 206.4L593.4 206.7L594.4 207.0L595.3 207.3L596.3 207.6L597.2 207.9L598.2 208.1L599.2 208.4L600.1 208.7L601.1 209.0L602.0 209.3L603.0 209.6L603.9 209.9L604.9 210.2L605.6 210.4M526.8 190.1L527.4 190.2L528.4 190.4L529.4 190.6L530.4 190.9L531.3 191.1L532.3 191.3L533.3 191.5L534.3 191.7L535.2 191.9L536.2 192.1L537.2 192.4L538.2 192.6L539.2 192.8L540.1 193.0L541.1 193.2L542.1 193.5L543.1 193.7L544.0 193.9L545.0 194.1L546.0 194.3L547.0 194.6L547.9 194.8L548.9 195.0L549.9 195.3L550.0 195.3M470.5 178.9L471.5 179.1L472.5 179.3L473.5 179.5L474.4 179.6L475.4 179.8L476.4 180.0L477.4 180.2L478.4 180.3L479.4 180.5L480.3 180.7L481.3 180.9L482.3 181.1L483.3 181.2L484.3 181.4L485.3 181.6L486.2 181.8L487.2 182.0L488.2 182.2L489.2 182.3L490.2 182.5L491.2 182.7L492.1 182.9L493.1 183.1L493.6 183.2M1074.4 429.6L1074.7 429.8L1075.6 430.3L1076.4 430.8L1077.3 431.4L1078.1 431.9L1079.0 432.4L1079.8 432.9L1080.7 433.5L1081.5 434.0L1082.4 434.5L1083.2 435.1L1084.1 435.6L1084.9 436.1L1085.7 436.7L1086.6 437.2L1087.4 437.8L1088.3 438.3L1089.1 438.8L1089.9 439.4L1090.8 439.9L1091.6 440.5L1092.5 441.0L1093.3 441.6L1094.1 442.1L1094.5 442.4M1123.5 459.3L1124.3 459.8L1125.2 460.2L1126.1 460.6L1127.0 461.1L1127.9 461.5L1128.8 461.9L1129.7 462.4L1130.6 462.8L1131.5 463.3L1132.4 463.7L1133.3 464.2L1134.2 464.6L1135.1 465.1L1136.0 465.5L1136.9 466.0L1137.8 466.5L1138.6 466.9L1139.5 467.4L1140.4 467.9L1141.2 468.4L1142.1 468.9L1143.0 469.4L1143.8 469.9L1144.6 470.3M1172.2 489.5L1172.6 489.8L1173.4 490.5L1174.2 491.1L1175.0 491.7L1175.8 492.3L1176.6 492.9L1177.4 493.5L1178.2 494.1L1179.0 494.7L1179.8 495.3L1180.6 495.9L1181.5 496.5L1182.3 497.0L1183.1 497.6L1183.9 498.2L1184.7 498.8L1185.5 499.4L1186.3 500.0L1187.1 500.6L1187.9 501.2L1188.7 501.8L1189.6 502.4L1190.4 502.9L1191.2 503.5L1191.4 503.7M1218.7 523.2L1218.9 523.3L1219.7 523.9L1220.5 524.5L1221.3 525.1L1222.1 525.7L1222.9 526.2L1223.7 526.8L1224.5 527.4L1225.3 528.0L1226.1 528.6L1226.9 529.2L1227.7 529.8L1228.5 530.4L1229.3 531.0L1230.1 531.6L1230.9 532.2L1231.7 532.8L1232.5 533.4L1233.3 534.0L1234.1 534.6L1234.9 535.2L1235.7 535.9L1236.5 536.5L1237.3 537.1L1237.8 537.5M1263.9 558.7L1264.4 559.2L1265.2 559.8L1266.0 560.5L1266.7 561.1L1267.5 561.8L1268.2 562.4L1269.0 563.1L1269.7 563.7L1270.5 564.4L1271.3 565.1L1272.0 565.7L1272.8 566.4L1273.5 567.0L1274.3 567.7L1275.0 568.4L1275.8 569.0L1276.5 569.7L1277.3 570.4L1278.0 571.0L1278.7 571.7L1279.5 572.4L1280.2 573.0L1281.0 573.7L1281.7 574.4L1281.8 574.4M1306.2 597.6L1306.4 597.8L1307.1 598.5L1307.8 599.2L1308.5 599.9L1309.3 600.6L1310.0 601.3L1310.7 602.0L1311.4 602.7L1312.1 603.4L1312.8 604.2L1313.5 604.9L1314.2 605.6L1314.9 606.3L1315.6 607.0L1316.3 607.7L1317.0 608.4L1317.7 609.2L1318.4 609.9L1319.1 610.6L1319.8 611.3L1320.5 612.0L1321.2 612.8L1321.8 613.5L1322.5 614.2L1322.9 614.6M1345.6 639.4L1346.1 640.1L1346.8 640.8L1347.5 641.6L1348.1 642.3L1348.8 643.1L1349.4 643.8L1350.1 644.6L1350.7 645.3L1351.4 646.1L1352.0 646.9L1352.7 647.6L1353.3 648.4L1354.0 649.2L1354.6 649.9L1355.3 650.7L1355.9 651.5L1356.5 652.2L1357.2 653.0L1357.8 653.8L1358.5 654.5L1359.1 655.3L1359.8 656.1L1360.4 656.8L1361.0 657.5M1381.7 684.0L1382.0 684.4L1382.6 685.2L1383.1 686.0L1383.7 686.9L1384.3 687.7L1384.9 688.5L1385.5 689.3L1386.0 690.1L1386.6 690.9L1387.2 691.7L1387.8 692.6L1388.3 693.4L1388.9 694.2L1389.5 695.0L1390.0 695.8L1390.6 696.7L1391.2 697.5L1391.7 698.3L1392.3 699.2L1392.8 700.0L1393.4 700.8L1393.9 701.7L1394.5 702.5L1395.0 703.3L1395.2 703.6M1412.5 732.5L1413.0 733.3L1413.4 734.2L1413.9 735.1L1414.4 736.0L1414.9 736.9L1415.4 737.7L1415.8 738.6L1416.3 739.5L1416.8 740.4L1417.3 741.3L1417.7 742.1L1418.2 743.0L1418.7 743.9L1419.2 744.8L1419.6 745.7L1420.1 746.6L1420.6 747.5L1421.0 748.4L1421.5 749.2L1421.9 750.1L1422.4 751.0L1422.9 751.9L1423.3 752.8L1423.7 753.5M1438.7 783.6L1438.8 784.0L1439.3 784.9L1439.7 785.8L1440.2 786.6L1440.6 787.5L1441.1 788.4L1441.5 789.3L1442.0 790.2L1442.4 791.1L1442.9 792.0L1443.3 792.8L1443.7 793.7L1444.2 794.6L1444.6 795.5L1445.1 796.4L1445.5 797.3L1445.9 798.2L1446.4 799.1L1446.8 800.0L1447.2 800.9L1447.7 801.8L1448.1 802.7L1448.5 803.6L1449.0 804.5L1449.2 805.0M1464.0 835.2L1464.3 835.8L1464.8 836.7L1465.3 837.6L1465.7 838.5L1466.2 839.4L1466.6 840.3L1467.1 841.2L1467.6 842.1L1468.0 843.0L1468.5 843.8L1468.9 844.7L1469.4 845.6L1469.9 846.5L1470.3 847.4L1470.8 848.3L1471.3 849.2L1471.7 850.0L1472.2 850.9L1472.7 851.8L1473.1 852.7L1473.6 853.6L1474.1 854.5L1474.5 855.4L1475.0 856.3L1475.0 856.3M1490.9 886.0L1491.0 886.2L1491.5 887.1L1492.1 887.9L1492.6 888.8L1493.1 889.6L1493.6 890.5L1494.2 891.3L1494.7 892.2L1495.2 893.0L1495.8 893.8L1496.3 894.7L1496.9 895.5L1497.5 896.3L1498.0 897.1L1498.6 898.0L1499.2 898.8L1499.8 899.6L1500.3 900.4L1500.9 901.2L1501.6 902.0L1502.2 902.8L1502.8 903.6L1503.4 904.4L1504.0 905.2L1504.4 905.5M1530.1 926.8L1530.9 927.2L1531.8 927.6L1532.8 928.0L1533.7 928.3L1534.6 928.7L1535.6 929.0L1536.5 929.3L1537.5 929.6L1538.5 929.8L1539.5 930.1M450.8 175.8L451.7 175.9L452.7 176.1L453.7 176.2L454.7 176.4L455.7 176.5L456.7 176.7L457.7 176.8L458.7 177.0L459.6 177.1L460.6 177.3L461.6 177.5L462.6 177.6L463.6 177.8L464.6 177.9L465.6 178.1L466.6 178.3L467.5 178.4L468.5 178.6L469.5 178.8L470.5 178.9L470.6 179.0M408.0 170.8L409.0 170.9L410.0 171.0L411.0 171.0L412.0 171.1L413.0 171.2L414.0 171.3L415.0 171.4L416.0 171.5L416.8 171.6M1529.5 926.6L1530.0 926.8L1530.9 927.2L1531.8 927.6L1532.8 928.0L1533.7 928.3L1534.6 928.7L1535.6 929.0L1536.5 929.3L1537.5 929.6L1538.5 929.8L1539.5 930.1" stroke="#9400d3" stroke-width="6.1"/>
<path d="M1053.4 462.9L1054.0 463.3L1054.9 463.7L1055.8 464.2L1056.6 464.7L1057.5 465.2L1058.4 465.7L1059.2 466.2L1060.1 466.7L1061.0 467.1L1061.9 467.6L1062.8 468.1L1063.7 468.5L1064.5 469.0L1065.4 469.5L1066.3 469.9L1067.2 470.4L1068.1 470.8L1069.0 471.3L1069.9 471.8L1070.8 472.2L1071.7 472.7L1072.6 473.1L1073.5 473.6L1074.4 474.0L1074.4 474.0M1004.0 433.4L1004.2 433.5L1005.1 434.0L1006.0 434.5L1006.8 435.0L1007.7 435.4L1008.6 435.9L1009.5 436.4L1010.3 436.9L1011.2 437.4L1012.1 437.9L1013.0 438.3L1013.8 438.8L1014.7 439.3L1015.6 439.8L1016.5 440.3L1017.3 440.8L1018.2 441.3L1019.1 441.8L1019.9 442.3L1020.8 442.8L1021.7 443.3L1022.5 443.8L1023.4 444.3L1024.2 444.8L1024.7 445.1M953.4 405.9L954.1 406.3L955.0 406.7L955.9 407.2L956.8 407.7L957.6 408.2L958.5 408.7L959.4 409.1L960.3 409.6L961.1 410.1L962.0 410.6L962.9 411.1L963.8 411.6L964.7 412.0L965.5 412.5L966.4 413.0L967.3 413.5L968.2 413.9L969.1 414.4L969.9 414.9L970.8 415.4L971.7 415.9L972.6 416.3L973.4 416.8L974.3 417.3M902.8 378.6L903.0 378.7L903.9 379.1L904.8 379.6L905.7 380.0L906.6 380.5L907.5 381.0L908.4 381.4L909.2 381.9L910.1 382.3L911.0 382.8L911.9 383.3L912.8 383.7L913.7 384.2L914.6 384.7L915.5 385.1L916.3 385.6L917.2 386.1L918.1 386.5L919.0 387.0L919.9 387.5L920.8 387.9L921.6 388.4L922.5 388.9L923.4 389.4L923.9 389.6M850.1 355.4L850.9 355.8L851.8 356.2L852.7 356.6L853.6 357.0L854.5 357.4L855.4 357.8L856.4 358.1L857.3 358.5L858.2 358.9L859.1 359.3L860.1 359.7L861.0 360.0L861.9 360.4L862.8 360.8L863.8 361.1L864.7 361.5L865.6 361.9L866.6 362.2L867.5 362.6L868.4 363.0L869.4 363.4L870.3 363.7L871.2 364.1L872.1 364.5M797.7 331.8L798.2 332.0L799.1 332.4L800.0 332.7L801.0 333.1L801.9 333.4L802.8 333.7L803.8 334.1L804.7 334.4L805.7 334.8L806.6 335.1L807.5 335.4L808.5 335.8L809.4 336.1L810.3 336.5L811.3 336.8L812.2 337.2L813.1 337.6L814.1 337.9L815.0 338.3L815.9 338.7L816.8 339.0L817.7 339.4L818.7 339.8L819.6 340.2L819.9 340.4M744.6 309.6L745.5 309.9L746.5 310.3L747.4 310.7L748.3 311.1L749.2 311.5L750.1 311.9L751.1 312.2L752.0 312.6L752.9 313.0L753.8 313.4L754.8 313.8L755.7 314.2L756.6 314.6L757.5 315.0L758.4 315.4L759.4 315.8L760.3 316.2L761.2 316.6L762.1 317.0L763.0 317.4L763.9 317.8L764.9 318.2L765.8 318.6L766.5 318.9M690.7 289.4L691.3 289.6L692.2 289.9L693.2 290.2L694.1 290.5L695.0 290.9L696.0 291.2L696.9 291.5L697.9 291.8L698.8 292.2L699.8 292.5L700.7 292.8L701.7 293.1L702.6 293.5L703.5 293.8L704.5 294.1L705.4 294.5L706.4 294.8L707.3 295.1L708.3 295.5L709.2 295.8L710.1 296.2L711.1 296.5L712.0 296.8L713.0 297.2L713.2 297.3M635.6 272.9L635.6 272.9L636.6 273.2L637.6 273.5L638.5 273.7L639.5 274.0L640.5 274.3L641.4 274.5L642.4 274.8L643.4 275.1L644.3 275.3L645.3 275.6L646.3 275.9L647.2 276.1L648.2 276.4L649.2 276.7L650.1 276.9L651.1 277.2L652.0 277.5L653.0 277.8L654.0 278.0L654.9 278.3L655.9 278.6L656.9 278.9L657.8 279.2L658.5 279.4M579.8 259.1L580.3 259.2L581.2 259.4L582.2 259.6L583.2 259.9L584.2 260.1L585.1 260.3L586.1 260.5L587.1 260.8L588.1 261.0L589.0 261.2L590.0 261.5L591.0 261.7L592.0 261.9L592.9 262.1L593.9 262.4L594.9 262.6L595.8 262.8L596.8 263.1L597.8 263.3L598.8 263.5L599.7 263.8L600.7 264.0L601.7 264.3L602.7 264.5L602.9 264.6M523.4 247.3L523.5 247.3L524.5 247.5L525.5 247.6L526.5 247.8L527.5 248.0L528.4 248.2L529.4 248.4L530.4 248.6L531.4 248.8L532.4 249.0L533.3 249.2L534.3 249.4L535.3 249.6L536.3 249.7L537.3 249.9L538.3 250.1L539.2 250.3L540.2 250.5L541.2 250.7L542.2 250.9L543.2 251.1L544.1 251.3L545.1 251.5L546.1 251.7L546.8 251.9M466.7 237.7L467.3 237.8L468.3 237.9L469.3 238.1L470.3 238.2L471.3 238.4L472.3 238.5L473.2 238.7L474.2 238.8L475.2 239.0L476.2 239.1L477.2 239.3L478.2 239.4L479.2 239.6L480.2 239.8L481.2 239.9L482.1 240.1L483.1 240.2L484.1 240.4L485.1 240.5L486.1 240.7L487.1 240.9L488.1 241.0L489.1 241.2L490.0 241.4L490.2 241.4M1074.4 474.0L1075.3 474.4L1076.2 474.9L1077.0 475.3L1077.9 475.8L1078.8 476.2L1079.7 476.7L1080.6 477.1L1081.5 477.6L1082.4 478.0L1083.3 478.5L1084.2 478.9L1085.1 479.4L1086.0 479.8L1086.9 480.3L1087.8 480.7L1088.7 481.2L1089.6 481.6L1090.5 482.1L1091.3 482.6L1092.2 483.0L1093.1 483.5L1094.0 483.9L1094.9 484.4L1095.6 484.8M1124.8 502.2L1125.0 502.2L1125.8 502.8L1126.7 503.3L1127.5 503.9L1128.3 504.4L1129.2 505.0L1130.0 505.5L1130.8 506.1L1131.7 506.6L1132.5 507.2L1133.3 507.8L1134.2 508.3L1135.0 508.9L1135.8 509.4L1136.7 510.0L1137.5 510.6L1138.3 511.1L1139.1 511.7L1140.0 512.3L1140.8 512.8L1141.6 513.4L1142.4 514.0L1143.3 514.5L1144.1 515.1L1144.6 515.5M1172.1 535.4L1172.5 535.7L1173.4 536.2L1174.2 536.8L1175.0 537.4L1175.8 538.0L1176.6 538.6L1177.4 539.2L1178.2 539.8L1179.0 540.4L1179.8 541.0L1180.6 541.6L1181.4 542.2L1182.2 542.8L1183.1 543.4L1183.9 544.0L1184.7 544.5L1185.5 545.1L1186.3 545.7L1187.1 546.3L1187.9 546.9L1188.7 547.5L1189.5 548.1L1190.3 548.7L1191.1 549.3L1191.3 549.4M1218.8 569.5L1219.4 569.9L1220.2 570.5L1221.0 571.1L1221.8 571.7L1222.6 572.3L1223.4 572.9L1224.2 573.5L1225.0 574.1L1225.8 574.8L1226.6 575.4L1227.4 576.0L1228.2 576.6L1229.0 577.2L1229.7 577.8L1230.5 578.4L1231.3 579.1L1232.1 579.7L1232.9 580.3L1233.7 580.9L1234.5 581.5L1235.2 582.2L1236.0 582.8L1236.8 583.4L1237.6 584.0L1237.6 584.1M1263.5 606.1L1263.5 606.1L1264.2 606.8L1264.9 607.5L1265.7 608.2L1266.4 608.8L1267.1 609.5L1267.9 610.2L1268.6 610.9L1269.3 611.6L1270.1 612.2L1270.8 612.9L1271.5 613.6L1272.3 614.3L1273.0 614.9L1273.7 615.6L1274.5 616.3L1275.2 617.0L1276.0 617.7L1276.7 618.3L1277.4 619.0L1278.2 619.7L1278.9 620.4L1279.6 621.0L1280.4 621.7L1281.0 622.2M1306.6 644.6L1306.7 644.7L1307.5 645.4L1308.2 646.1L1308.9 646.7L1309.7 647.4L1310.4 648.1L1311.2 648.8L1311.9 649.4L1312.6 650.1L1313.4 650.8L1314.1 651.5L1314.8 652.2L1315.6 652.8L1316.3 653.5L1317.0 654.2L1317.7 654.9L1318.5 655.6L1319.2 656.3L1319.9 657.0L1320.6 657.7L1321.3 658.4L1322.1 659.0L1322.8 659.7L1323.5 660.4L1323.9 660.9M1347.5 685.4L1347.7 685.7L1348.4 686.5L1349.1 687.2L1349.7 687.9L1350.4 688.7L1351.1 689.4L1351.7 690.2L1352.4 690.9L1353.1 691.7L1353.7 692.4L1354.4 693.2L1355.0 693.9L1355.7 694.7L1356.4 695.5L1357.0 696.2L1357.7 697.0L1358.3 697.7L1359.0 698.5L1359.6 699.3L1360.3 700.0L1360.9 700.8L1361.6 701.5L1362.2 702.3L1362.9 703.1L1363.1 703.4M1384.4 729.9L1384.8 730.4L1385.4 731.2L1386.0 732.0L1386.6 732.8L1387.2 733.6L1387.8 734.4L1388.4 735.2L1389.0 736.0L1389.6 736.8L1390.2 737.6L1390.8 738.4L1391.4 739.2L1392.0 740.0L1392.6 740.8L1393.2 741.6L1393.7 742.4L1394.3 743.3L1394.9 744.1L1395.5 744.9L1396.1 745.7L1396.7 746.5L1397.3 747.3L1397.9 748.1L1398.4 748.9L1398.5 749.0M1417.7 777.1L1418.1 777.8L1418.7 778.7L1419.2 779.5L1419.8 780.3L1420.3 781.2L1420.8 782.0L1421.4 782.9L1421.9 783.7L1422.4 784.6L1423.0 785.4L1423.5 786.3L1424.0 787.1L1424.6 788.0L1425.1 788.8L1425.6 789.7L1426.2 790.5L1426.7 791.4L1427.2 792.2L1427.7 793.1L1428.2 793.9L1428.8 794.8L1429.3 795.6L1429.8 796.5L1430.3 797.3M1447.1 826.8L1447.2 826.9L1447.7 827.8L1448.2 828.7L1448.6 829.6L1449.1 830.4L1449.6 831.3L1450.1 832.2L1450.5 833.1L1451.0 834.0L1451.5 834.9L1451.9 835.7L1452.4 836.6L1452.9 837.5L1453.3 838.4L1453.8 839.3L1454.3 840.2L1454.7 841.1L1455.2 842.0L1455.7 842.8L1456.1 843.7L1456.6 844.6L1457.0 845.5L1457.5 846.4L1458.0 847.3L1458.3 847.9M1474.7 877.6L1474.9 877.8L1475.4 878.7L1476.0 879.5L1476.5 880.3L1477.1 881.1L1477.7 882.0L1478.2 882.8L1478.8 883.6L1479.4 884.4L1480.0 885.2L1480.6 886.0L1481.1 886.8L1481.7 887.7L1482.3 888.5L1482.9 889.3L1483.5 890.1L1484.1 890.9L1484.7 891.7L1485.3 892.5L1485.9 893.3L1486.5 894.1L1487.0 895.0L1487.6 895.8L1488.2 896.6L1488.5 897.0M450.6 235.4L451.4 235.5L452.4 235.6L453.4 235.8L454.4 235.9L455.4 236.1L456.4 236.2L457.4 236.3L458.4 236.5L459.4 236.6L460.4 236.8L461.4 236.9L462.3 237.0L463.3 237.2L464.3 237.3L465.3 237.5L466.1 237.6M393.6 228.4L393.8 228.5L394.8 228.6L395.8 228.7L396.8 228.8L397.8 228.9L398.8 229.0L399.8 229.1L400.8 229.2L401.8 229.3L402.8 229.4L403.8 229.5L404.8 229.7L405.8 229.8L406.7 229.9L407.7 230.0L408.7 230.1L409.7 230.2L410.7 230.3L411.7 230.4L412.7 230.6L413.7 230.7L414.7 230.8L415.7 230.9L416.2 231.0M347.3 224.1L348.0 224.1L349.0 224.2L350.0 224.3L351.0 224.4L352.0 224.5L353.0 224.6L354.0 224.6L355.0 224.7L356.0 224.8L357.0 224.9L358.0 225.0L358.9 225.1M1508.0 921.6L1508.1 921.7L1508.8 922.4L1509.5 923.0L1510.2 923.7L1511.0 924.3L1511.7 925.0L1512.5 925.6L1513.3 926.2L1514.1 926.8L1514.9 927.3L1515.7 927.9L1516.6 928.4L1517.5 928.9L1517.6 929.0" stroke="#009e73" stroke-width="6.1"/>
<path d="M423.2 168.1L424.2 168.2L425.2 168.4L426.2 168.6L427.2 168.8L428.1 169.0L429.1 169.2L430.1 169.3L431.1 169.5L432.1 169.7L433.0 169.9L434.0 170.0L435.0 170.2L436.0 170.4L437.0 170.5L438.0 170.7L439.0 170.9L439.9 171.0L440.9 171.2L441.9 171.3L442.9 171.5L443.9 171.7L444.9 171.8L445.9 172.0L446.5 172.1M480.1 177.0L480.6 177.1L481.6 177.2L482.6 177.4L483.5 177.5L484.5 177.7L485.5 177.8L486.5 178.0L487.5 178.1L488.5 178.3L489.5 178.5L490.5 178.6L491.5 178.8L492.5 178.9L493.4 179.1L494.4 179.3L495.4 179.4L496.4 179.6L497.4 179.8L498.4 180.0L499.4 180.1L500.3 180.3L501.3 180.5L502.3 180.7L503.3 180.8L503.6 180.9M536.8 188.2L537.5 188.3L538.4 188.6L539.4 188.8L540.4 189.1L541.4 189.3L542.3 189.5L543.3 189.8L544.3 190.0L545.2 190.3L546.2 190.5L547.2 190.8L548.1 191.0L549.1 191.2L550.1 191.5L551.0 191.7L552.0 192.0L553.0 192.2L554.0 192.5L554.9 192.7L555.9 193.0L556.9 193.2L557.8 193.5L558.8 193.8L559.8 194.0L559.8 194.0M592.8 202.6L593.7 202.8L594.6 203.1L595.6 203.3L596.6 203.6L597.5 203.8L598.5 204.0L599.5 204.3L600.5 204.5L601.4 204.8L602.4 205.0L603.4 205.3L604.4 205.5L605.3 205.7L606.3 206.0L607.3 206.2L608.2 206.5L609.2 206.7L610.2 206.9L611.2 207.2L612.1 207.4L613.1 207.7L614.1 207.9L615.0 208.1L615.8 208.3M648.7 217.0L648.9 217.1L649.9 217.4L650.8 217.6L651.8 217.9L652.7 218.2L653.7 218.5L654.7 218.8L655.6 219.1L656.6 219.4L657.5 219.7L658.5 220.0L659.4 220.3L660.4 220.6L661.3 220.9L662.3 221.2L663.2 221.5L664.2 221.8L665.1 222.1L666.1 222.4L667.0 222.7L668.0 223.1L668.9 223.4L669.9 223.7L670.8 224.0L671.4 224.2M703.1 236.4L703.5 236.5L704.4 236.9L705.4 237.3L706.3 237.7L707.2 238.1L708.1 238.5L709.1 238.9L710.0 239.3L710.9 239.7L711.8 240.1L712.7 240.5L713.6 240.9L714.6 241.3L715.5 241.7L716.4 242.1L717.3 242.5L718.2 242.9L719.1 243.3L720.1 243.7L721.0 244.1L721.9 244.5L722.8 244.9L723.7 245.3L724.6 245.7L725.0 245.9M755.8 260.1L756.4 260.4L757.3 260.8L758.2 261.2L759.1 261.7L760.0 262.1L760.9 262.5L761.9 262.9L762.8 263.3L763.7 263.7L764.6 264.2L765.5 264.6L766.4 265.0L767.3 265.4L768.2 265.8L769.1 266.2L770.0 266.6L771.0 267.1L771.9 267.5L772.8 267.9L773.7 268.3L774.6 268.7L775.5 269.1L776.4 269.5L777.4 269.9L777.5 270.0M808.8 283.3L809.5 283.7L810.5 284.0L811.4 284.4L812.3 284.8L813.2 285.2L814.1 285.6L815.1 286.0L816.0 286.4L816.9 286.8L817.8 287.2L818.7 287.6L819.6 288.0L820.6 288.4L821.5 288.8L822.4 289.2L823.3 289.7L824.2 290.1L825.1 290.5L826.0 290.9L826.9 291.3L827.8 291.8L828.7 292.2L829.6 292.7L830.5 293.1M860.5 309.0L860.5 309.0L861.4 309.5L862.3 309.9L863.2 310.3L864.1 310.8L865.1 311.2L866.0 311.6L866.9 312.0L867.8 312.4L868.7 312.9L869.6 313.3L870.5 313.7L871.4 314.1L872.3 314.5L873.2 315.0L874.1 315.4L875.0 315.8L875.9 316.2L876.8 316.7L877.7 317.1L878.6 317.5L879.5 318.0L880.4 318.4L881.3 318.9L882.0 319.3M911.6 335.9L911.8 336.0L912.7 336.5L913.6 336.9L914.5 337.4L915.4 337.8L916.3 338.3L917.2 338.7L918.1 339.2L919.0 339.6L919.9 340.1L920.8 340.5L921.7 340.9L922.6 341.4L923.5 341.8L924.4 342.2L925.3 342.7L926.2 343.1L927.1 343.6L927.9 344.0L928.8 344.4L929.7 344.9L930.6 345.3L931.5 345.8L932.4 346.2L933.0 346.5M955.1 358.5L955.3 358.6L956.2 359.1L957.0 359.6L957.9 360.1L958.8 360.6L959.6 361.1L960.5 361.6L961.4 362.1L962.2 362.6L963.1 363.1L964.0 363.6L964.8 364.1L965.7 364.6L966.5 365.1L967.4 365.6L968.3 366.1L969.1 366.6L970.0 367.2L970.8 367.7L971.7 368.2L972.6 368.7L973.4 369.2L974.3 369.7L975.1 370.2L975.6 370.5M1004.8 388.0L1005.2 388.3L1006.1 388.8L1006.9 389.3L1007.8 389.8L1008.6 390.3L1009.5 390.8L1010.4 391.3L1011.2 391.8L1012.1 392.3L1013.0 392.8L1013.8 393.3L1014.7 393.8L1015.6 394.3L1016.4 394.8L1017.3 395.3L1018.2 395.8L1019.0 396.3L1019.9 396.8L1020.8 397.3L1021.6 397.8L1022.5 398.3L1023.4 398.8L1024.2 399.3L1025.1 399.8L1025.4 399.9M1054.8 417.0L1055.4 417.3L1056.2 417.8L1057.1 418.4L1057.9 418.9L1058.8 419.4L1059.7 419.9L1060.5 420.4L1061.4 421.0L1062.2 421.5L1063.1 422.0L1063.9 422.5L1064.8 423.1L1065.6 423.6L1066.5 424.1L1067.3 424.6L1068.2 425.2L1069.0 425.7L1069.9 426.2L1070.7 426.8L1071.6 427.3L1072.4 427.9L1073.3 428.4L1074.1 428.9L1074.4 429.1M1074.4 429.1L1074.9 429.5L1075.8 430.0L1076.6 430.6L1077.5 431.1L1078.3 431.7L1079.1 432.2L1080.0 432.8L1080.8 433.3L1081.6 433.9L1082.5 434.4L1083.3 435.0L1084.1 435.5L1085.0 436.1L1085.8 436.6L1086.6 437.2L1087.5 437.8L1088.3 438.3L1089.1 438.9L1089.9 439.5L1090.8 440.0L1091.6 440.6L1092.4 441.2L1093.2 441.7L1094.0 442.3L1094.2 442.4M1121.5 462.5L1122.2 463.1L1123.0 463.7L1123.9 464.3L1124.7 464.9L1125.5 465.5L1126.3 466.0L1127.1 466.6L1127.9 467.2L1128.7 467.8L1129.5 468.4L1130.3 469.0L1131.1 469.6L1131.9 470.2L1132.7 470.8L1133.5 471.4L1134.3 472.0L1135.1 472.6L1135.9 473.2L1136.8 473.8L1137.6 474.4L1138.4 474.9L1139.2 475.5L1140.0 476.1L1140.7 476.6M1168.3 496.6L1168.5 496.7L1169.3 497.3L1170.1 497.9L1170.9 498.5L1171.7 499.1L1172.5 499.7L1173.3 500.3L1174.1 500.9L1174.9 501.5L1175.7 502.0L1176.5 502.6L1177.3 503.2L1178.1 503.8L1178.9 504.4L1179.7 505.0L1180.5 505.6L1181.3 506.3L1182.1 506.9L1182.9 507.5L1183.7 508.1L1184.5 508.7L1185.3 509.3L1186.1 509.9L1186.9 510.5L1187.3 510.8M1213.6 532.5L1213.9 532.7L1214.6 533.4L1215.4 534.1L1216.1 534.7L1216.8 535.4L1217.6 536.1L1218.3 536.8L1219.0 537.4L1219.8 538.1L1220.5 538.8L1221.2 539.5L1222.0 540.2L1222.7 540.9L1223.4 541.6L1224.1 542.2L1224.9 542.9L1225.6 543.6L1226.3 544.3L1227.0 545.0L1227.7 545.7L1228.4 546.4L1229.1 547.1L1229.9 547.8L1230.6 548.5L1230.9 548.8M1254.6 573.2L1255.0 573.6L1255.7 574.4L1256.4 575.1L1257.1 575.8L1257.8 576.5L1258.4 577.3L1259.1 578.0L1259.8 578.7L1260.5 579.4L1261.2 580.1L1261.9 580.9L1262.6 581.6L1263.3 582.3L1264.0 583.0L1264.7 583.8L1265.4 584.5L1266.1 585.2L1266.8 585.9L1267.5 586.6L1268.2 587.4L1268.9 588.1L1269.5 588.8L1270.2 589.5L1270.9 590.3L1271.0 590.3M1294.4 615.0L1295.0 615.7L1295.7 616.4L1296.4 617.1L1297.1 617.9L1297.7 618.6L1298.4 619.3L1299.1 620.1L1299.8 620.8L1300.4 621.6L1301.1 622.3L1301.8 623.1L1302.4 623.8L1303.1 624.5L1303.8 625.3L1304.4 626.0L1305.1 626.8L1305.7 627.5L1306.4 628.3L1307.1 629.0L1307.7 629.8L1308.4 630.6L1309.0 631.3L1309.7 632.1L1310.3 632.8M1331.7 659.2L1331.7 659.3L1332.4 660.1L1333.0 660.9L1333.6 661.6L1334.2 662.4L1334.8 663.2L1335.4 664.0L1336.0 664.8L1336.6 665.6L1337.2 666.4L1337.9 667.2L1338.5 668.0L1339.1 668.8L1339.7 669.6L1340.3 670.4L1340.9 671.2L1341.5 672.0L1342.1 672.8L1342.7 673.6L1343.3 674.4L1343.9 675.2L1344.5 676.0L1345.1 676.8L1345.7 677.6L1346.1 678.1M1366.6 705.2L1366.9 705.5L1367.5 706.3L1368.1 707.1L1368.7 707.9L1369.3 708.7L1369.9 709.5L1370.5 710.3L1371.1 711.1L1371.7 711.9L1372.3 712.7L1372.9 713.5L1373.5 714.3L1374.1 715.1L1374.7 715.9L1375.3 716.7L1375.9 717.5L1376.5 718.3L1377.0 719.1L1377.6 719.9L1378.2 720.7L1378.8 721.5L1379.4 722.3L1380.0 723.1L1380.6 723.9L1380.9 724.3M1400.9 751.7L1401.3 752.2L1401.8 753.0L1402.4 753.8L1403.0 754.6L1403.6 755.5L1404.2 756.3L1404.8 757.1L1405.3 757.9L1405.9 758.7L1406.5 759.5L1407.1 760.3L1407.7 761.2L1408.2 762.0L1408.8 762.8L1409.4 763.6L1410.0 764.4L1410.5 765.2L1411.1 766.1L1411.7 766.9L1412.3 767.7L1412.8 768.5L1413.4 769.3L1414.0 770.1L1414.6 771.0L1414.7 771.1M1433.9 799.2L1434.3 799.9L1434.9 800.7L1435.4 801.5L1436.0 802.4L1436.6 803.2L1437.1 804.0L1437.7 804.9L1438.2 805.7L1438.8 806.6L1439.3 807.4L1439.9 808.2L1440.4 809.1L1441.0 809.9L1441.5 810.7L1442.1 811.6L1442.6 812.4L1443.1 813.3L1443.7 814.1L1444.2 815.0L1444.8 815.8L1445.3 816.6L1445.9 817.5L1446.4 818.3L1446.9 819.1M1465.2 847.8L1465.3 847.9L1465.8 848.8L1466.4 849.6L1466.9 850.5L1467.5 851.3L1468.0 852.1L1468.6 853.0L1469.1 853.8L1469.7 854.7L1470.2 855.5L1470.8 856.3L1471.3 857.2L1471.9 858.0L1472.4 858.8L1473.0 859.7L1473.5 860.5L1474.1 861.3L1474.6 862.2L1475.2 863.0L1475.8 863.8L1476.3 864.6L1476.9 865.5L1477.5 866.3L1478.0 867.1L1478.4 867.6M1498.9 894.7L1499.1 895.0L1499.7 895.7L1500.4 896.5L1501.0 897.3L1501.7 898.0L1502.3 898.8L1503.0 899.5L1503.6 900.3L1504.3 901.0L1505.0 901.8L1505.6 902.5L1506.3 903.2L1507.0 904.0L1507.7 904.7L1508.3 905.4L1509.0 906.2L1509.7 906.9L1510.4 907.6L1511.1 908.3L1511.8 909.1L1512.5 909.8L1513.2 910.5L1513.9 911.2L1514.6 911.9L1515.0 912.2" stroke="#000000" stroke-width="6.1"/>
<path d="M417.5 146.8L419.4 147.0L421.4 147.3L423.4 147.5L425.4 147.7L427.4 148.0L429.4 148.3L431.3 148.5L433.3 148.8L435.3 149.0L437.3 149.3L439.3 149.6L441.2 149.9L443.2 150.1L445.2 150.4L447.2 150.7L449.2 151.0L451.1 151.3L453.1 151.6L455.1 151.9L457.1 152.2L459.1 152.5L461.0 152.8L463.0 153.1L465.0 153.4L467.0 153.8L468.9 154.1L470.9 154.4L472.9 154.7L474.9 155.1L476.8 155.4L478.8 155.7L480.8 156.1L482.8 156.4L484.7 156.8L486.7 157.1L488.7 157.5L490.6 157.9L492.6 158.2L494.6 158.6L496.5 159.0L498.5 159.3L500.5 159.7L502.4 160.1L504.4 160.5L506.4 160.9L508.3 161.2L510.3 161.6L512.3 162.0L514.2 162.4L516.2 162.8L518.2 163.2L520.1 163.7L522.1 164.1L524.0 164.5L526.0 164.9L528.0 165.3L529.9 165.8L531.9 166.2L533.8 166.6L535.8 167.1L537.7 167.5L539.7 167.9L541.6 168.4L543.6 168.8L545.6 169.3L547.5 169.7L549.5 170.2L551.4 170.7L553.4 171.1L555.3 171.6L557.2 172.1L559.2 172.6L561.1 173.0L563.1 173.5L565.0 174.0L567.0 174.5L568.9 175.0L570.9 175.5L572.8 176.0L574.7 176.5L576.7 177.0L578.6 177.5L580.5 178.0L582.5 178.5L584.4 179.1L586.4 179.6L588.3 180.1L590.2 180.7L592.1 181.2L594.1 181.7L596.0 182.3L597.9 182.8L599.9 183.4L601.8 183.9L603.7 184.5L605.6 185.0L607.6 185.6L609.5 186.1L611.4 186.7L613.3 187.3L615.2 187.9L617.2 188.4L619.1 189.0L621.0 189.6L622.9 190.2L624.8 190.8L626.7 191.4L628.6 192.0L630.6 192.6L632.5 193.2L634.4 193.8L636.3 194.4L638.2 195.0L640.1 195.6L642.0 196.3L643.9 196.9L645.8 197.5L647.7 198.1L649.6 198.8L651.5 199.4L653.4 200.1L655.3 200.7L657.2 201.4L659.1 202.0L660.9 202.7L662.8 203.3L664.7 204.0L666.6 204.6L668.5 205.3L670.4 206.0L672.3 206.7L674.1 207.3L676.0 208.0L677.9 208.7L679.8 209.4L681.7 210.1L683.5 210.8L685.4 211.5L687.3 212.2L689.2 212.9L691.0 213.6L692.9 214.3L694.8 215.0L696.6 215.7L698.5 216.4L700.4 217.1L702.3 217.9L704.1 218.6L706.0 219.3L707.8 220.0L709.7 220.8L711.6 221.5L713.4 222.2L715.3 223.0L717.2 223.7L719.0 224.5L720.9 225.2L722.7 226.0L724.6 226.7L726.4 227.5L728.3 228.2L730.2 229.0L732.0 229.7L733.9 230.5L735.7 231.2L737.6 232.0L739.4 232.8L741.3 233.5L743.1 234.3L745.0 235.1L746.8 235.8L748.7 236.6L750.5 237.4L752.4 238.2L754.2 238.9L756.1 239.7L757.9 240.5L759.8 241.3L761.6 242.1L763.4 242.8L765.3 243.6L767.1 244.4L769.0 245.3L770.8 246.1L772.6 247.0L774.4 247.8L776.2 248.7L777.9 249.7L779.7 250.6L781.4 251.6L783.1 252.6L784.8 253.7L786.5 254.8L788.2 255.9L789.9 257.0L791.6 258.1L793.2 259.2L794.9 260.3L796.6 261.4L798.3 262.5L799.9 263.6L801.6 264.6L803.4 265.6L805.1 266.7L806.8 267.7L808.6 268.6L810.3 269.6L812.1 270.6L813.8 271.5L815.6 272.4L817.4 273.3L819.2 274.2L821.0 275.1L822.8 276.0L824.6 276.9L826.4 277.8L828.2 278.6L830.0 279.5L831.8 280.4L833.6 281.2L835.4 282.1L837.2 282.9L839.1 283.8L840.9 284.6L842.7 285.5L844.5 286.4L846.3 287.2L848.1 288.1L849.9 289.0L851.7 289.9L853.5 290.8L855.3 291.7L857.1 292.6L858.9 293.5L860.6 294.4L862.4 295.3L864.2 296.3L866.0 297.2L867.7 298.2L869.5 299.1L871.2 300.1L873.0 301.0L874.8 302.0L876.5 303.0L878.3 303.9L880.0 304.9L881.8 305.9L883.5 306.9L885.2 307.8L887.0 308.8L888.7 309.8L890.5 310.8L892.2 311.8L894.0 312.8L895.7 313.8L897.4 314.8L899.2 315.8L900.9 316.8L902.6 317.8L904.4 318.8L906.1 319.8L907.9 320.8L909.6 321.8L911.3 322.8L913.1 323.8L914.8 324.8L916.6 325.8L918.3 326.7L920.0 327.7L921.8 328.7L923.5 329.7L925.2 330.7L927.0 331.7L928.7 332.7L930.4 333.7L932.2 334.7L933.9 335.7L935.7 336.7L937.4 337.7L939.1 338.7L940.9 339.7L942.6 340.7L944.3 341.7L946.1 342.7L947.8 343.8L949.5 344.8L951.2 345.8L953.0 346.8L954.7 347.8L956.4 348.8L958.2 349.8L959.9 350.8L961.6 351.8L963.4 352.8L965.1 353.8L966.8 354.8L968.5 355.9L970.3 356.9L972.0 357.9L973.7 358.9L975.4 359.9L977.2 360.9L978.9 362.0L980.6 363.0L982.3 364.0L984.0 365.0L985.8 366.0L987.5 367.1L989.2 368.1L990.9 369.1L992.6 370.1L994.4 371.2L996.1 372.2L997.8 373.2L999.5 374.3L1001.2 375.3L1002.9 376.3L1004.6 377.4L1006.4 378.4L1008.1 379.4L1009.8 380.5L1011.5 381.5L1013.2 382.6L1014.9 383.6L1016.6 384.6L1018.3 385.7L1020.0 386.7L1021.7 387.8L1023.4 388.8L1025.1 389.9L1026.8 391.0L1028.5 392.0L1030.2 393.1L1031.9 394.1L1033.6 395.2L1035.3 396.2L1037.0 397.3L1038.7 398.4L1040.4 399.4L1042.1 400.5L1043.8 401.6L1045.5 402.7L1047.1 403.7L1048.8 404.8L1050.5 405.9L1052.2 407.0L1053.9 408.1L1055.6 409.1L1057.2 410.2L1058.9 411.3L1060.6 412.4L1062.3 413.5L1063.9 414.6L1065.6 415.7L1067.3 416.8L1069.0 417.9L1070.6 419.0L1072.3 420.1L1074.0 421.2L1075.6 422.3L1077.3 423.4L1079.0 424.5L1080.6 425.7L1082.3 426.8L1083.9 427.9L1085.6 429.0L1087.3 430.2L1088.9 431.3L1090.6 432.4L1092.2 433.5L1093.9 434.7L1095.5 435.8L1097.2 437.0L1098.8 438.1L1100.5 439.2L1102.1 440.4L1103.7 441.5L1105.4 442.7L1107.0 443.9L1108.7 445.0L1110.3 446.2L1111.9 447.3L1113.6 448.5L1115.2 449.7L1116.8 450.8L1118.4 452.0L1120.1 453.2L1121.7 454.4L1123.3 455.5L1124.9 456.7L1126.5 457.9L1128.2 459.1L1129.8 460.3L1131.4 461.5L1133.0 462.7L1134.6 463.9L1136.2 465.1L1137.8 466.3L1139.4 467.5L1141.0 468.7L1142.6 469.9L1144.2 471.1L1145.8 472.3L1147.4 473.5L1149.0 474.8L1150.6 476.0L1152.2 477.2L1153.8 478.4L1155.3 479.7L1156.9 480.9L1158.5 482.1L1160.1 483.4L1161.7 484.6L1163.2 485.8L1164.8 487.1L1166.4 488.3L1167.9 489.6L1169.5 490.8L1171.1 492.1L1172.6 493.4L1174.2 494.6L1175.8 495.9L1177.3 497.1L1178.9 498.4L1180.4 499.7L1182.0 501.0L1183.5 502.2L1185.1 503.5L1186.6 504.8L1188.1 506.1L1189.7 507.4L1191.2 508.7L1192.7 509.9L1194.3 511.2L1195.8 512.5L1197.3 513.8L1198.8 515.1L1200.4 516.4L1201.9 517.8L1203.4 519.1L1204.9 520.4L1206.4 521.7L1207.9 523.0L1209.4 524.3L1211.0 525.7L1212.5 527.0L1214.0 528.3L1215.5 529.6L1216.9 531.0L1218.4 532.3L1219.9 533.6L1221.4 535.0L1222.9 536.3L1224.4 537.7L1225.9 539.0L1227.3 540.4L1228.8 541.7L1230.3 543.1L1231.8 544.5L1233.2 545.8L1234.7 547.2L1236.1 548.6L1237.6 549.9L1239.1 551.3L1240.5 552.7L1242.0 554.1L1243.4 555.4L1244.9 556.8L1246.3 558.2L1247.7 559.6L1249.2 561.0L1250.6 562.4L1252.0 563.8L1253.5 565.2L1254.9 566.6L1256.3 568.0L1257.7 569.4L1259.2 570.8L1260.6 572.2L1262.0 573.7L1263.4 575.1L1264.8 576.5L1266.2 577.9L1267.6 579.4L1269.0 580.8L1270.4 582.2L1271.8 583.7L1273.2 585.1L1274.6 586.5L1276.0 588.0L1277.3 589.4L1278.7 590.9L1280.1 592.3L1281.5 593.8L1282.8 595.3L1284.2 596.7L1285.5 598.2L1286.9 599.7L1288.3 601.1L1289.6 602.6L1291.0 604.1L1292.3 605.6L1293.6 607.0L1295.0 608.5L1296.3 610.0L1297.7 611.5L1299.0 613.0L1300.3 614.5L1301.6 616.0L1303.0 617.5L1304.3 619.0L1305.6 620.5L1306.9 622.0L1308.2 623.5L1309.5 625.0L1310.8 626.6L1312.1 628.1L1313.4 629.6L1314.7 631.1L1316.0 632.7L1317.3 634.2L1318.5 635.7L1319.8 637.3L1321.1 638.8L1322.4 640.4L1323.6 641.9L1324.9 643.5L1326.2 645.0L1327.4 646.6L1328.7 648.1L1329.9 649.7L1331.2 651.3L1332.4 652.8L1333.6 654.4L1334.9 656.0L1336.1 657.5L1337.3 659.1L1338.6 660.7L1339.8 662.3L1341.0 663.9L1342.2 665.5L1343.4 667.1L1344.6 668.7L1345.9 670.3L1347.1 671.9L1348.3 673.5L1349.5 675.1L1350.6 676.7L1351.8 678.3L1353.0 679.9L1354.2 681.5L1355.4 683.1L1356.6 684.7L1357.7 686.4L1358.9 688.0L1360.1 689.6L1361.3 691.2L1362.4 692.9L1363.6 694.5L1364.7 696.1L1365.9 697.8L1367.0 699.4L1368.2 701.1L1369.3 702.7L1370.5 704.4L1371.6 706.0L1372.8 707.7L1373.9 709.3L1375.0 711.0L1376.2 712.6L1377.3 714.3L1378.4 715.9L1379.6 717.6L1380.7 719.3L1381.8 720.9L1382.9 722.6L1384.0 724.3L1385.2 725.9L1386.3 727.6L1387.4 729.3L1388.5 730.9L1389.6 732.6L1390.7 734.3L1391.8 736.0L1392.9 737.6L1394.0 739.3L1395.1 741.0L1396.2 742.7L1397.3 744.4L1398.4 746.1L1399.4 747.8L1400.5 749.4L1401.6 751.1L1402.7 752.8L1403.8 754.5L1404.8 756.2L1405.9 757.9L1407.0 759.6L1408.1 761.3L1409.1 763.0L1410.2 764.7L1411.3 766.4L1412.3 768.1L1413.4 769.8L1414.5 771.5L1415.5 773.2L1416.6 774.9L1417.6 776.6L1418.7 778.3L1419.8 780.0L1420.8 781.7L1421.9 783.5L1422.9 785.2L1424.0 786.9L1425.0 788.6L1426.1 790.3L1427.1 792.0L1428.2 793.7L1429.2 795.4L1430.2 797.1L1431.3 798.9L1432.3 800.6L1433.4 802.3L1434.4 804.0L1435.4 805.7L1436.5 807.4L1437.5 809.1L1438.6 810.9L1439.6 812.6L1440.6 814.3L1441.7 816.0L1442.7 817.7L1443.7 819.4L1444.7 821.2L1445.8 822.9L1446.8 824.6L1447.8 826.3L1448.9 828.0L1449.9 829.7L1450.9 831.5L1451.9 833.2L1453.0 834.9L1454.0 836.6L1455.0 838.3L1456.0 840.0L1457.1 841.8L1458.1 843.5L1459.1 845.2L1460.1 846.9L1461.1 848.6L1462.2 850.3L1463.2 852.1L1464.2 853.8L1465.2 855.5L1466.3 857.2L1467.3 858.9L1468.3 860.6L1469.3 862.3L1470.3 864.0L1471.4 865.7L1472.4 867.5L1473.4 869.2L1474.4 870.9L1475.4 872.6L1476.5 874.3L1477.5 876.0L1478.6 877.7L1479.6 879.3L1480.7 881.0L1481.9 882.6L1483.0 884.2L1484.2 885.8L1485.5 887.4L1486.7 888.9L1488.0 890.5L1489.3 892.0L1490.5 893.5L1491.8 895.1L1493.1 896.6L1494.4 898.1L1495.7 899.7L1497.0 901.2L1498.3 902.7L1499.7 904.2L1501.0 905.7L1502.3 907.2L1503.7 908.7L1505.1 910.2L1506.4 911.7L1507.8 913.2L1509.2 914.6L1510.6 916.1L1512.0 917.5L1513.5 918.8L1515.0 920.1L1516.5 921.4L1518.1 922.5L1519.8 923.6L1521.5 924.6L1523.2 925.5L1525.1 926.3L1527.0 926.9L1528.9 927.4L1531.0 927.8" stroke="#e69f00" stroke-width="6.1"/>
<path d="M398.3 153.6L400.3 153.7L402.3 153.9L404.3 154.1L406.3 154.3L408.3 154.5L410.3 154.7L412.3 154.8L414.3 155.1L416.3 155.3L418.3 155.5L420.2 155.7L422.2 155.9L424.2 156.1L426.2 156.4L428.2 156.6L430.2 156.8L432.2 157.1L434.2 157.3L436.2 157.6L438.2 157.8L440.1 158.1L442.1 158.4L444.1 158.6L446.1 158.9L448.1 159.2L450.1 159.5L452.0 159.8L454.0 160.0L456.0 160.3L458.0 160.6L460.0 160.9L461.9 161.3L463.9 161.6L465.9 161.9L467.9 162.2L469.8 162.5L471.8 162.9L473.8 163.2L475.7 163.5L477.7 163.9L479.7 164.2L481.7 164.6L483.6 164.9L485.6 165.3L487.6 165.6L489.5 166.0L491.5 166.3L493.5 166.7L495.4 167.1L497.4 167.5L499.4 167.9L501.3 168.2L503.3 168.6L505.2 169.0L507.2 169.4L509.2 169.8L511.1 170.2L513.1 170.6L515.0 171.0L517.0 171.5L518.9 171.9L520.9 172.3L522.8 172.7L524.8 173.1L526.8 173.6L528.7 174.0L530.7 174.5L532.6 174.9L534.6 175.3L536.5 175.8L538.5 176.2L540.4 176.7L542.3 177.1L544.3 177.6L546.2 178.1L548.2 178.5L550.1 179.0L552.1 179.5L554.0 180.0L556.0 180.4L557.9 180.9L559.8 181.4L561.8 181.9L563.7 182.4L565.7 182.9L567.6 183.4L569.5 183.9L571.5 184.4L573.4 184.9L575.3 185.4L577.3 185.9L579.2 186.4L581.1 186.9L583.1 187.5L585.0 188.0L586.9 188.5L588.9 189.0L590.8 189.6L592.7 190.1L594.7 190.6L596.6 191.2L598.5 191.7L600.4 192.3L602.4 192.8L604.3 193.4L606.2 193.9L608.1 194.5L610.1 195.0L612.0 195.6L613.9 196.1L615.8 196.7L617.8 197.3L619.7 197.8L621.6 198.4L623.5 199.0L625.4 199.6L627.4 200.1L629.3 200.7L631.2 201.3L633.1 201.9L635.0 202.5L636.9 203.1L638.8 203.6L640.8 204.2L642.7 204.8L644.6 205.4L646.5 206.0L648.4 206.6L650.3 207.2L652.2 207.9L654.1 208.5L656.0 209.1L657.9 209.7L659.9 210.3L661.8 210.9L663.7 211.5L665.6 212.2L667.5 212.8L669.4 213.4L671.3 214.1L673.2 214.7L675.1 215.3L677.0 216.0L678.9 216.6L680.8 217.3L682.7 217.9L684.5 218.6L686.4 219.2L688.3 219.9L690.2 220.5L692.1 221.2L694.0 221.8L695.9 222.5L697.8 223.2L699.7 223.8L701.6 224.5L703.4 225.2L705.3 225.9L707.2 226.5L709.1 227.2L711.0 227.9L712.8 228.6L714.7 229.3L716.6 230.0L718.5 230.7L720.3 231.4L722.2 232.1L724.1 232.8L726.0 233.5L727.8 234.2L729.7 234.9L731.5 235.7L733.4 236.4L735.3 237.1L737.1 237.9L739.0 238.6L740.8 239.4L742.7 240.1L744.5 240.9L746.4 241.6L748.2 242.4L750.1 243.2L751.9 243.9L753.8 244.7L755.6 245.5L757.4 246.3L759.3 247.1L761.1 247.9L762.9 248.7L764.8 249.5L766.6 250.3L768.4 251.1L770.2 251.9L772.0 252.7L773.9 253.6L775.7 254.4L777.5 255.2L779.3 256.1L781.1 256.9L782.9 257.8L784.7 258.6L786.5 259.5L788.3 260.4L790.1 261.2L791.9 262.1L793.7 263.0L795.5 263.8L797.3 264.7L799.1 265.6L800.9 266.5L802.7 267.4L804.5 268.3L806.3 269.2L808.1 270.1L809.9 271.0L811.6 271.9L813.4 272.8L815.2 273.7L817.0 274.6L818.8 275.5L820.5 276.4L822.3 277.4L824.1 278.3L825.9 279.2L827.6 280.1L829.4 281.1L831.2 282.0L833.0 282.9L834.7 283.9L836.5 284.8L838.3 285.8L840.0 286.7L841.8 287.7L843.6 288.6L845.3 289.6L847.1 290.5L848.8 291.5L850.6 292.4L852.4 293.4L854.1 294.3L855.9 295.3L857.6 296.3L859.4 297.2L861.2 298.2L862.9 299.2L864.7 300.1L866.4 301.1L868.2 302.1L869.9 303.0L871.7 304.0L873.4 305.0L875.2 306.0L876.9 306.9L878.7 307.9L880.4 308.9L882.2 309.9L883.9 310.9L885.7 311.8L887.4 312.8L889.2 313.8L890.9 314.8L892.7 315.8L894.4 316.8L896.1 317.7L897.9 318.7L899.6 319.7L901.4 320.7L903.1 321.7L904.9 322.7L906.6 323.7L908.3 324.7L910.1 325.6L911.8 326.6L913.6 327.6L915.3 328.6L917.1 329.6L918.8 330.6L920.5 331.6L922.3 332.6L924.0 333.6L925.7 334.6L927.5 335.5L929.2 336.5L931.0 337.5L932.7 338.5L934.4 339.5L936.2 340.5L937.9 341.5L939.6 342.5L941.4 343.5L943.1 344.5L944.8 345.5L946.6 346.5L948.3 347.5L950.0 348.5L951.8 349.5L953.5 350.5L955.2 351.5L956.9 352.5L958.7 353.6L960.4 354.6L962.1 355.6L963.8 356.6L965.6 357.6L967.3 358.6L969.0 359.6L970.7 360.6L972.5 361.7L974.2 362.7L975.9 363.7L977.6 364.7L979.3 365.7L981.1 366.8L982.8 367.8L984.5 368.8L986.2 369.9L987.9 370.9L989.6 371.9L991.3 372.9L993.1 374.0L994.8 375.0L996.5 376.1L998.2 377.1L999.9 378.1L1001.6 379.2L1003.3 380.2L1005.0 381.3L1006.7 382.3L1008.4 383.4L1010.1 384.4L1011.8 385.5L1013.5 386.5L1015.2 387.6L1016.9 388.6L1018.6 389.7L1020.3 390.8L1022.0 391.8L1023.7 392.9L1025.4 394.0L1027.1 395.0L1028.7 396.1L1030.4 397.2L1032.1 398.2L1033.8 399.3L1035.5 400.4L1037.2 401.5L1038.9 402.6L1040.5 403.6L1042.2 404.7L1043.9 405.8L1045.6 406.9L1047.2 408.0L1048.9 409.1L1050.6 410.2L1052.3 411.3L1053.9 412.4L1055.6 413.5L1057.3 414.6L1058.9 415.7L1060.6 416.9L1062.3 418.0L1063.9 419.1L1065.6 420.2L1067.2 421.3L1068.9 422.5L1070.6 423.6L1072.2 424.7L1073.9 425.8L1075.5 427.0L1077.2 428.1L1078.8 429.3L1080.5 430.4L1082.1 431.6L1083.7 432.7L1085.4 433.9L1087.0 435.0L1088.6 436.2L1090.3 437.3L1091.9 438.5L1093.5 439.7L1095.2 440.8L1096.8 442.0L1098.4 443.2L1100.0 444.3L1101.7 445.5L1103.3 446.7L1104.9 447.9L1106.5 449.1L1108.1 450.3L1109.7 451.5L1111.3 452.7L1112.9 453.9L1114.5 455.1L1116.1 456.3L1117.7 457.5L1119.3 458.7L1120.9 459.9L1122.5 461.1L1124.1 462.3L1125.7 463.6L1127.3 464.8L1128.9 466.0L1130.4 467.3L1132.0 468.5L1133.6 469.7L1135.2 471.0L1136.7 472.2L1138.3 473.5L1139.8 474.7L1141.4 476.0L1143.0 477.2L1144.5 478.5L1146.1 479.8L1147.6 481.0L1149.2 482.3L1150.7 483.6L1152.2 484.9L1153.8 486.1L1155.3 487.4L1156.8 488.7L1158.4 490.0L1159.9 491.3L1161.4 492.6L1162.9 493.9L1164.5 495.2L1166.0 496.5L1167.5 497.8L1169.0 499.2L1170.5 500.5L1172.0 501.8L1173.5 503.1L1175.0 504.5L1176.5 505.8L1178.0 507.1L1179.4 508.5L1180.9 509.8L1182.4 511.2L1183.9 512.5L1185.3 513.9L1186.8 515.3L1188.3 516.6L1189.7 518.0L1191.2 519.4L1192.6 520.7L1194.1 522.1L1195.5 523.5L1197.0 524.9L1198.4 526.3L1199.9 527.7L1201.3 529.1L1202.7 530.5L1204.1 531.9L1205.6 533.3L1207.0 534.7L1208.4 536.1L1209.8 537.6L1211.2 539.0L1212.6 540.4L1214.0 541.8L1215.4 543.3L1216.8 544.7L1218.2 546.1L1219.6 547.6L1221.0 549.0L1222.4 550.5L1223.7 551.9L1225.1 553.4L1226.5 554.8L1227.9 556.3L1229.2 557.8L1230.6 559.2L1231.9 560.7L1233.3 562.2L1234.7 563.7L1236.0 565.1L1237.3 566.6L1238.7 568.1L1240.0 569.6L1241.4 571.1L1242.7 572.6L1244.0 574.1L1245.3 575.6L1246.7 577.1L1248.0 578.6L1249.3 580.1L1250.6 581.6L1251.9 583.2L1253.2 584.7L1254.5 586.2L1255.8 587.7L1257.1 589.3L1258.4 590.8L1259.7 592.3L1261.0 593.9L1262.3 595.4L1263.5 596.9L1264.8 598.5L1266.1 600.0L1267.4 601.6L1268.6 603.1L1269.9 604.7L1271.1 606.2L1272.4 607.8L1273.6 609.4L1274.9 610.9L1276.1 612.5L1277.4 614.1L1278.6 615.6L1279.8 617.2L1281.1 618.8L1282.3 620.4L1283.5 622.0L1284.7 623.5L1286.0 625.1L1287.2 626.7L1288.4 628.3L1289.6 629.9L1290.8 631.5L1292.0 633.1L1293.2 634.7L1294.4 636.3L1295.6 637.9L1296.8 639.5L1298.0 641.1L1299.1 642.8L1300.3 644.4L1301.5 646.0L1302.7 647.6L1303.8 649.2L1305.0 650.9L1306.2 652.5L1307.3 654.1L1308.5 655.7L1309.6 657.4L1310.8 659.0L1311.9 660.7L1313.1 662.3L1314.2 663.9L1315.3 665.6L1316.5 667.2L1317.6 668.9L1318.7 670.5L1319.9 672.2L1321.0 673.8L1322.1 675.5L1323.2 677.1L1324.3 678.8L1325.5 680.4L1326.6 682.1L1327.7 683.7L1328.8 685.4L1329.9 687.1L1331.0 688.7L1332.1 690.4L1333.2 692.1L1334.3 693.7L1335.4 695.4L1336.5 697.1L1337.6 698.8L1338.7 700.4L1339.8 702.1L1340.9 703.8L1342.0 705.5L1343.0 707.1L1344.1 708.8L1345.2 710.5L1346.3 712.2L1347.4 713.9L1348.5 715.5L1349.5 717.2L1350.6 718.9L1351.7 720.6L1352.8 722.3L1353.8 724.0L1354.9 725.6L1356.0 727.3L1357.1 729.0L1358.1 730.7L1359.2 732.4L1360.3 734.1L1361.4 735.8L1362.4 737.5L1363.5 739.2L1364.6 740.9L1365.6 742.5L1366.7 744.2L1367.8 745.9L1368.9 747.6L1369.9 749.3L1371.0 751.0L1372.1 752.7L1373.2 754.4L1374.2 756.1L1375.3 757.8L1376.4 759.5L1377.4 761.2L1378.5 762.9L1379.6 764.6L1380.7 766.2L1381.8 767.9L1382.8 769.6L1383.9 771.3L1385.0 773.0L1386.1 774.7L1387.2 776.4L1388.2 778.1L1389.3 779.8L1390.4 781.5L1391.5 783.2L1392.6 784.9L1393.7 786.5L1394.8 788.2L1395.9 789.9L1396.9 791.6L1398.0 793.3L1399.1 795.0L1400.2 796.7L1401.3 798.4L1402.4 800.0L1403.6 801.7L1404.7 803.4L1405.8 805.1L1406.9 806.7L1408.0 808.4L1409.1 810.1L1410.3 811.8L1411.4 813.4L1412.5 815.1L1413.7 816.7L1414.8 818.4L1415.9 820.1L1417.1 821.7L1418.3 823.3L1419.4 825.0L1420.6 826.6L1421.7 828.3L1422.9 829.9L1424.1 831.5L1425.3 833.1L1426.5 834.7L1427.7 836.3L1428.9 837.9L1430.1 839.5L1431.3 841.1L1432.5 842.7L1433.8 844.3L1435.0 845.9L1436.2 847.4L1437.5 849.0L1438.8 850.6L1440.0 852.1L1441.3 853.6L1442.6 855.2L1443.9 856.7L1445.2 858.2L1446.5 859.7L1447.8 861.2L1449.1 862.7L1450.4 864.2L1451.8 865.7L1453.1 867.2L1454.5 868.6L1455.9 870.1L1457.2 871.5L1458.6 873.0L1460.0 874.4L1461.4 875.8L1462.9 877.2L1464.3 878.6L1465.7 880.0L1467.2 881.4L1468.6 882.7L1470.1 884.1L1471.6 885.4L1473.1 886.7L1474.6 888.0L1476.1 889.3L1477.6 890.6L1479.1 891.9L1480.7 893.2L1482.2 894.4L1483.8 895.7L1485.4 896.9L1487.0 898.1L1488.6 899.3L1490.2 900.4L1491.8 901.6L1493.4 902.7L1495.1 903.9L1496.7 905.0L1498.4 906.1L1500.1 907.1L1501.8 908.2L1503.5 909.2L1505.2 910.2L1506.9 911.2L1508.6 912.2L1510.4 913.2L1512.1 914.1L1513.9 915.1L1515.7 916.0L1517.5 916.8L1519.3 917.7L1521.1 918.6L1522.9 919.4L1524.8 920.2L1526.6 920.9L1528.5 921.7L1530.4 922.4L1532.2 923.1L1534.1 923.8L1536.1 924.5L1538.0 925.1L1539.9 925.8L1541.9 926.3L1543.8 926.9L1545.8 927.5L1547.8 928.0L1549.8 928.5" stroke="#f0e442" stroke-width="6.1"/>
<path d="M412.3 156.2L414.3 156.4L416.3 156.6L418.3 156.8L420.3 157.1L422.3 157.3L424.3 157.5L426.2 157.7L428.2 157.9L430.2 158.2L432.2 158.4L434.2 158.6L436.2 158.9L438.2 159.1L440.1 159.4L442.1 159.6L444.1 159.9L446.1 160.1L448.1 160.4L450.1 160.6L452.0 160.9L454.0 161.2L456.0 161.5L458.0 161.7L460.0 162.0L461.9 162.3L463.9 162.6L465.9 162.9L467.9 163.2L469.8 163.5L471.8 163.8L473.8 164.1L475.8 164.4L477.8 164.7L479.7 165.1L481.7 165.4L483.7 165.7L485.6 166.0L487.6 166.4L489.6 166.7L491.6 167.0L493.5 167.4L495.5 167.7L497.5 168.1L499.4 168.4L501.4 168.8L503.4 169.1L505.3 169.5L507.3 169.9L509.3 170.2L511.2 170.6L513.2 171.0L515.2 171.4L517.1 171.7L519.1 172.1L521.0 172.5L523.0 172.9L525.0 173.3L526.9 173.7L528.9 174.1L530.8 174.5L532.8 174.9L534.8 175.3L536.7 175.7L538.7 176.1L540.6 176.6L542.6 177.0L544.5 177.4L546.5 177.8L548.4 178.3L550.4 178.7L552.4 179.1L554.3 179.6L556.3 180.0L558.2 180.5L560.2 180.9L562.1 181.4L564.1 181.8L566.0 182.3L567.9 182.7L569.9 183.2L571.8 183.7L573.8 184.1L575.7 184.6L577.7 185.1L579.6 185.5L581.6 186.0L583.5 186.5L585.4 187.0L587.4 187.5L589.3 188.0L591.3 188.5L593.2 189.0L595.1 189.4L597.1 189.9L599.0 190.5L601.0 191.0L602.9 191.5L604.8 192.0L606.8 192.5L608.7 193.0L610.6 193.5L612.6 194.0L614.5 194.6L616.4 195.1L618.3 195.6L620.3 196.1L622.2 196.7L624.1 197.2L626.1 197.8L628.0 198.3L629.9 198.8L631.8 199.4L633.8 199.9L635.7 200.5L637.6 201.0L639.5 201.6L641.5 202.1L643.4 202.7L645.3 203.3L647.2 203.8L649.1 204.4L651.1 205.0L653.0 205.5L654.9 206.1L656.8 206.7L658.7 207.3L660.6 207.8L662.5 208.4L664.5 209.0L666.4 209.6L668.3 210.2L670.2 210.8L672.1 211.4L674.0 212.0L675.9 212.6L677.8 213.2L679.7 213.8L681.6 214.4L683.5 215.0L685.4 215.6L687.3 216.2L689.3 216.8L691.2 217.4L693.0 218.1L694.9 218.7L696.8 219.3L698.7 220.0L700.6 220.6L702.5 221.2L704.4 221.9L706.3 222.5L708.2 223.2L710.1 223.8L712.0 224.5L713.9 225.1L715.8 225.8L717.6 226.5L719.5 227.1L721.4 227.8L723.3 228.5L725.2 229.2L727.0 229.9L728.9 230.6L730.8 231.3L732.7 232.0L734.5 232.7L736.4 233.4L738.3 234.1L740.1 234.8L742.0 235.5L743.9 236.3L745.7 237.0L747.6 237.7L749.4 238.5L751.3 239.2L753.1 240.0L755.0 240.7L756.8 241.5L758.7 242.3L760.5 243.0L762.4 243.8L764.2 244.6L766.0 245.4L767.8 246.2L769.7 247.1L771.5 247.9L773.3 248.7L775.1 249.6L776.9 250.4L778.7 251.3L780.5 252.2L782.3 253.1L784.1 254.0L785.9 254.9L787.7 255.8L789.4 256.7L791.2 257.6L793.0 258.5L794.8 259.4L796.6 260.3L798.3 261.2L800.1 262.1L801.9 263.0L803.7 263.9L805.5 264.8L807.3 265.7L809.1 266.6L810.9 267.5L812.7 268.3L814.5 269.2L816.3 270.1L818.1 270.9L819.9 271.8L821.7 272.6L823.6 273.5L825.4 274.3L827.2 275.2L829.0 276.0L830.8 276.9L832.6 277.7L834.4 278.5L836.3 279.4L838.1 280.2L839.9 281.1L841.7 281.9L843.5 282.7L845.3 283.6L847.1 284.4L849.0 285.3L850.8 286.1L852.6 287.0L854.4 287.8L856.2 288.7L858.0 289.5L859.8 290.4L861.6 291.2L863.4 292.1L865.2 293.0L867.0 293.8L868.8 294.7L870.6 295.6L872.4 296.4L874.2 297.3L875.9 298.2L877.7 299.1L879.5 299.9L881.3 300.8L883.1 301.7L884.9 302.6L886.7 303.5L888.5 304.4L890.3 305.2L892.0 306.1L893.8 307.0L895.6 307.9L897.4 308.8L899.2 309.7L901.0 310.6L902.8 311.5L904.5 312.4L906.3 313.3L908.1 314.3L909.9 315.2L911.7 316.1L913.5 317.0L915.2 317.9L917.0 318.8L918.8 319.8L920.6 320.7L922.4 321.6L924.2 322.5L925.9 323.5L927.7 324.4L929.5 325.3L931.3 326.3L933.1 327.2L934.8 328.1L936.6 329.1L938.4 330.0L940.2 330.9L941.9 331.9L943.7 332.8L945.5 333.8L947.2 334.7L949.0 335.7L950.8 336.6L952.6 337.6L954.3 338.5L956.1 339.5L957.9 340.4L959.6 341.4L961.4 342.4L963.1 343.3L964.9 344.3L966.7 345.2L968.4 346.2L970.2 347.2L971.9 348.1L973.7 349.1L975.4 350.1L977.2 351.0L978.9 352.0L980.7 353.0L982.4 353.9L984.2 354.9L985.9 355.9L987.7 356.9L989.4 357.8L991.2 358.8L992.9 359.8L994.7 360.8L996.4 361.8L998.1 362.8L999.9 363.7L1001.6 364.7L1003.3 365.7L1005.1 366.7L1006.8 367.7L1008.5 368.7L1010.3 369.7L1012.0 370.7L1013.7 371.7L1015.5 372.6L1017.2 373.6L1018.9 374.6L1020.6 375.6L1022.4 376.6L1024.1 377.6L1025.8 378.6L1027.5 379.6L1029.3 380.7L1031.0 381.7L1032.7 382.7L1034.4 383.7L1036.1 384.7L1037.8 385.7L1039.6 386.7L1041.3 387.7L1043.0 388.7L1044.7 389.8L1046.4 390.8L1048.1 391.8L1049.8 392.8L1051.5 393.8L1053.3 394.9L1055.0 395.9L1056.7 396.9L1058.4 397.9L1060.1 399.0L1061.8 400.0L1063.5 401.0L1065.2 402.1L1066.9 403.1L1068.6 404.1L1070.3 405.2L1072.0 406.2L1073.7 407.2L1075.4 408.3L1077.1 409.3L1078.8 410.4L1080.5 411.4L1082.2 412.5L1083.9 413.5L1085.6 414.5L1087.3 415.6L1089.0 416.6L1090.7 417.7L1092.3 418.8L1094.0 419.8L1095.7 420.9L1097.4 421.9L1099.1 423.0L1100.8 424.0L1102.5 425.1L1104.2 426.2L1105.9 427.2L1107.5 428.3L1109.2 429.4L1110.9 430.4L1112.6 431.5L1114.3 432.6L1116.0 433.7L1117.6 434.7L1119.3 435.8L1121.0 436.9L1122.7 438.0L1124.4 439.1L1126.1 440.1L1127.7 441.2L1129.4 442.3L1131.1 443.4L1132.8 444.5L1134.5 445.6L1136.1 446.7L1137.8 447.8L1139.5 448.9L1141.2 449.9L1142.8 451.0L1144.5 452.1L1146.2 453.2L1147.9 454.3L1149.5 455.5L1151.2 456.6L1152.9 457.7L1154.6 458.8L1156.2 459.9L1157.9 461.0L1159.6 462.1L1161.2 463.2L1162.9 464.3L1164.6 465.5L1166.2 466.6L1167.9 467.7L1169.6 468.8L1171.2 470.0L1172.9 471.1L1174.6 472.2L1176.2 473.4L1177.9 474.5L1179.5 475.6L1181.2 476.8L1182.8 477.9L1184.5 479.0L1186.2 480.2L1187.8 481.3L1189.5 482.5L1191.1 483.6L1192.7 484.8L1194.4 486.0L1196.0 487.1L1197.7 488.3L1199.3 489.4L1201.0 490.6L1202.6 491.8L1204.2 492.9L1205.9 494.1L1207.5 495.3L1209.1 496.5L1210.7 497.6L1212.4 498.8L1214.0 500.0L1215.6 501.2L1217.2 502.4L1218.9 503.6L1220.5 504.8L1222.1 506.0L1223.7 507.2L1225.3 508.4L1226.9 509.6L1228.5 510.8L1230.1 512.0L1231.7 513.2L1233.3 514.4L1234.9 515.7L1236.5 516.9L1238.1 518.1L1239.7 519.3L1241.2 520.6L1242.8 521.8L1244.4 523.0L1246.0 524.3L1247.6 525.5L1249.1 526.8L1250.7 528.0L1252.3 529.3L1253.8 530.5L1255.4 531.8L1256.9 533.1L1258.5 534.3L1260.0 535.6L1261.6 536.9L1263.1 538.1L1264.7 539.4L1266.2 540.7L1267.7 542.0L1269.3 543.3L1270.8 544.6L1272.3 545.9L1273.8 547.2L1275.4 548.5L1276.9 549.8L1278.4 551.1L1279.9 552.4L1281.4 553.7L1282.9 555.0L1284.4 556.4L1285.9 557.7L1287.4 559.0L1288.8 560.4L1290.3 561.7L1291.8 563.0L1293.3 564.4L1294.7 565.7L1296.2 567.1L1297.7 568.4L1299.1 569.8L1300.6 571.2L1302.0 572.5L1303.5 573.9L1304.9 575.3L1306.3 576.7L1307.8 578.1L1309.2 579.4L1310.6 580.8L1312.1 582.2L1313.5 583.6L1314.9 585.0L1316.3 586.5L1317.7 587.9L1319.1 589.3L1320.5 590.7L1321.9 592.1L1323.2 593.6L1324.6 595.0L1326.0 596.4L1327.4 597.9L1328.7 599.3L1330.1 600.8L1331.5 602.2L1332.8 603.7L1334.1 605.2L1335.5 606.6L1336.8 608.1L1338.2 609.6L1339.5 611.1L1340.8 612.6L1342.1 614.1L1343.4 615.6L1344.7 617.1L1346.0 618.6L1347.3 620.1L1348.6 621.6L1349.9 623.1L1351.2 624.6L1352.4 626.2L1353.7 627.7L1355.0 629.2L1356.2 630.8L1357.5 632.3L1358.7 633.9L1360.0 635.5L1361.2 637.0L1362.4 638.6L1363.6 640.2L1364.9 641.7L1366.1 643.3L1367.3 644.9L1368.5 646.5L1369.7 648.1L1370.9 649.7L1372.0 651.3L1373.2 652.9L1374.4 654.6L1375.5 656.2L1376.7 657.8L1377.9 659.4L1379.0 661.1L1380.1 662.7L1381.3 664.4L1382.4 666.0L1383.5 667.7L1384.7 669.3L1385.8 671.0L1386.9 672.7L1388.0 674.4L1389.1 676.0L1390.2 677.7L1391.3 679.4L1392.3 681.1L1393.4 682.8L1394.5 684.5L1395.6 686.2L1396.6 687.9L1397.7 689.6L1398.7 691.3L1399.8 693.0L1400.8 694.7L1401.9 696.5L1402.9 698.2L1403.9 699.9L1404.9 701.6L1406.0 703.4L1407.0 705.1L1408.0 706.8L1409.0 708.6L1410.0 710.3L1411.0 712.1L1412.0 713.8L1413.0 715.6L1414.0 717.3L1415.0 719.1L1415.9 720.8L1416.9 722.6L1417.9 724.4L1418.9 726.1L1419.8 727.9L1420.8 729.7L1421.7 731.4L1422.7 733.2L1423.6 735.0L1424.6 736.7L1425.5 738.5L1426.5 740.3L1427.4 742.1L1428.4 743.8L1429.3 745.6L1430.2 747.4L1431.1 749.2L1432.1 750.9L1433.0 752.7L1433.9 754.5L1434.8 756.3L1435.7 758.1L1436.6 759.9L1437.5 761.6L1438.4 763.4L1439.3 765.2L1440.2 767.0L1441.1 768.8L1442.0 770.6L1442.9 772.4L1443.8 774.1L1444.7 775.9L1445.6 777.7L1446.5 779.5L1447.3 781.3L1448.2 783.1L1449.1 784.8L1450.0 786.6L1450.9 788.4L1451.7 790.2L1452.6 792.0L1453.5 793.8L1454.4 795.5L1455.2 797.3L1456.1 799.1L1457.0 800.9L1457.9 802.7L1458.7 804.5L1459.6 806.2L1460.5 808.0L1461.4 809.8L1462.3 811.6L1463.2 813.4L1464.0 815.1L1464.9 816.9L1465.8 818.7L1466.7 820.5L1467.6 822.2L1468.5 824.0L1469.4 825.8L1470.3 827.6L1471.2 829.3L1472.1 831.1L1473.0 832.9L1473.9 834.7L1474.8 836.4L1475.8 838.2L1476.7 840.0L1477.6 841.7L1478.6 843.5L1479.5 845.3L1480.4 847.0L1481.4 848.8L1482.3 850.6L1483.3 852.3L1484.2 854.1L1485.2 855.9L1486.2 857.6L1487.2 859.4L1488.1 861.1L1489.1 862.9L1490.1 864.6L1491.1 866.4L1492.1 868.1L1493.1 869.9L1494.2 871.6L1495.2 873.4L1496.2 875.1L1497.3 876.8L1498.4 878.5L1499.4 880.2L1500.5 881.9L1501.6 883.6L1502.7 885.3L1503.8 887.0L1504.9 888.7L1506.1 890.3L1507.2 892.0L1508.4 893.6L1509.5 895.2L1510.7 896.8L1511.9 898.4L1513.1 900.0L1514.4 901.6L1515.6 903.1L1516.9 904.7L1518.1 906.2L1519.4 907.7L1520.7 909.2L1522.1 910.6L1523.4 912.1L1524.8 913.5L1526.2 914.9L1527.6 916.3L1529.1 917.6L1530.6 918.9L1532.1 920.2L1533.6 921.4L1535.2 922.6L1536.8 923.8L1538.5 924.9L1540.2 926.0L1542.0 927.0" stroke="#0072b2" stroke-width="6.1"/>
<path d="M344.4 177.3L346.4 177.4L348.4 177.6L350.4 177.8L352.4 177.9L354.4 178.1L356.4 178.3L358.4 178.4L360.3 178.6L362.3 178.8L364.3 179.0L366.3 179.1L368.3 179.3L370.3 179.5L372.3 179.6L374.3 179.8L376.3 180.0L378.3 180.1L380.3 180.3L382.3 180.5L384.3 180.7L386.3 180.8L388.3 181.0L390.3 181.2L392.2 181.4L394.2 181.5L396.2 181.7L398.2 181.9L400.2 182.1L402.2 182.2L404.2 182.4L406.2 182.6L408.2 182.8L410.2 183.0L412.2 183.2L414.2 183.3L416.2 183.5L418.2 183.7L420.1 183.9L422.1 184.1L424.1 184.3L426.1 184.5L428.1 184.7L430.1 184.9L432.1 185.1L434.1 185.3L436.1 185.5L438.1 185.7L440.1 185.9L442.0 186.1L444.0 186.3L446.0 186.5L448.0 186.7L450.0 186.9L452.0 187.1L454.0 187.4L456.0 187.6L458.0 187.8L460.0 188.0L461.9 188.2L463.9 188.5L465.9 188.7L467.9 188.9L469.9 189.1L471.9 189.4L473.9 189.6L475.8 189.9L477.8 190.1L479.8 190.3L481.8 190.6L483.8 190.8L485.8 191.1L487.8 191.3L489.7 191.6L491.7 191.9L493.7 192.1L495.7 192.4L497.7 192.6L499.7 192.9L501.6 193.2L503.6 193.5L505.6 193.7L507.6 194.0L509.6 194.3L511.5 194.6L513.5 194.9L515.5 195.1L517.5 195.4L519.5 195.7L521.4 196.0L523.4 196.3L525.4 196.6L527.4 196.9L529.4 197.2L531.3 197.5L533.3 197.8L535.3 198.1L537.3 198.4L539.3 198.6L541.2 198.9L543.2 199.2L545.2 199.5L547.2 199.8L549.2 200.1L551.1 200.4L553.1 200.7L555.1 201.0L557.1 201.3L559.1 201.5L561.1 201.8L563.1 202.1L565.0 202.4L567.0 202.7L569.0 202.9L571.0 203.2L573.0 203.5L575.0 203.8L576.9 204.1L578.9 204.4L580.9 204.6L582.9 204.9L584.9 205.2L586.8 205.6L588.8 205.9L590.8 206.2L592.8 206.5L594.7 206.9L596.7 207.2L598.7 207.6L600.6 207.9L602.6 208.3L604.5 208.7L606.5 209.1L608.4 209.5L610.4 210.0L612.3 210.4L614.3 210.9L616.2 211.3L618.1 211.8L620.1 212.3L622.0 212.9L623.9 213.4L625.8 214.0L627.7 214.5L629.6 215.1L631.5 215.7L633.4 216.3L635.3 216.9L637.2 217.5L639.1 218.2L641.0 218.8L642.9 219.4L644.8 220.0L646.7 220.7L648.6 221.3L650.5 221.9L652.4 222.5L654.3 223.1L656.2 223.7L658.2 224.3L660.1 224.9L662.0 225.4L663.9 226.0L665.8 226.5L667.8 227.1L669.7 227.6L671.6 228.1L673.6 228.6L675.5 229.1L677.4 229.6L679.4 230.1L681.3 230.6L683.3 231.1L685.2 231.5L687.2 232.0L689.1 232.5L691.1 233.0L693.0 233.4L695.0 233.9L696.9 234.4L698.9 234.8L700.8 235.3L702.8 235.8L704.7 236.2L706.6 236.7L708.6 237.2L710.5 237.7L712.5 238.2L714.4 238.7L716.3 239.2L718.3 239.7L720.2 240.2L722.1 240.8L724.1 241.3L726.0 241.8L727.9 242.4L729.8 243.0L731.7 243.6L733.6 244.1L735.6 244.7L737.5 245.3L739.4 246.0L741.3 246.6L743.1 247.2L745.0 247.9L746.9 248.5L748.8 249.2L750.7 249.9L752.6 250.5L754.4 251.2L756.3 251.9L758.2 252.6L760.0 253.4L761.9 254.1L763.8 254.8L765.6 255.6L767.5 256.3L769.3 257.1L771.1 257.8L773.0 258.6L774.8 259.4L776.7 260.2L778.5 260.9L780.4 261.7L782.2 262.5L784.1 263.3L785.9 264.0L787.8 264.8L789.6 265.6L791.5 266.4L793.3 267.2L795.1 267.9L797.0 268.7L798.8 269.5L800.7 270.3L802.5 271.1L804.4 271.9L806.2 272.7L808.0 273.5L809.9 274.3L811.7 275.1L813.5 275.9L815.4 276.7L817.2 277.5L819.1 278.3L820.9 279.1L822.7 279.9L824.5 280.7L826.4 281.5L828.2 282.3L830.0 283.1L831.9 284.0L833.7 284.8L835.5 285.6L837.3 286.4L839.1 287.3L841.0 288.1L842.8 288.9L844.6 289.7L846.4 290.6L848.2 291.4L850.1 292.3L851.9 293.1L853.7 293.9L855.5 294.8L857.3 295.6L859.1 296.5L860.9 297.3L862.7 298.2L864.5 299.0L866.4 299.9L868.2 300.7L870.0 301.6L871.8 302.5L873.6 303.3L875.4 304.2L877.2 305.1L879.0 305.9L880.8 306.8L882.6 307.7L884.4 308.6L886.2 309.4L888.0 310.3L889.7 311.2L891.5 312.1L893.3 313.0L895.1 313.8L896.9 314.7L898.7 315.6L900.5 316.5L902.3 317.4L904.1 318.3L905.8 319.2L907.6 320.1L909.4 321.0L911.2 321.9L913.0 322.8L914.8 323.7L916.5 324.6L918.3 325.5L920.1 326.5L921.9 327.4L923.6 328.3L925.4 329.2L927.2 330.1L929.0 331.1L930.7 332.0L932.5 332.9L934.3 333.8L936.0 334.8L937.8 335.7L939.6 336.6L941.3 337.6L943.1 338.5L944.9 339.4L946.6 340.4L948.4 341.3L950.1 342.3L951.9 343.2L953.7 344.2L955.4 345.1L957.2 346.1L958.9 347.0L960.7 348.0L962.4 349.0L964.2 349.9L965.9 350.9L967.7 351.8L969.4 352.8L971.2 353.8L972.9 354.8L974.7 355.7L976.4 356.7L978.2 357.7L979.9 358.7L981.7 359.6L983.4 360.6L985.1 361.6L986.9 362.6L988.6 363.6L990.4 364.6L992.1 365.6L993.8 366.5L995.6 367.5L997.3 368.5L999.0 369.5L1000.8 370.5L1002.5 371.5L1004.2 372.5L1006.0 373.6L1007.7 374.6L1009.4 375.6L1011.1 376.6L1012.9 377.6L1014.6 378.6L1016.3 379.6L1018.0 380.7L1019.8 381.7L1021.5 382.7L1023.2 383.7L1024.9 384.8L1026.6 385.8L1028.3 386.8L1030.1 387.9L1031.8 388.9L1033.5 389.9L1035.2 391.0L1036.9 392.0L1038.6 393.1L1040.3 394.1L1042.0 395.1L1043.8 396.2L1045.5 397.2L1047.2 398.3L1048.9 399.4L1050.6 400.4L1052.3 401.5L1054.0 402.5L1055.7 403.6L1057.4 404.7L1059.1 405.7L1060.8 406.8L1062.5 407.9L1064.1 408.9L1065.8 410.0L1067.5 411.1L1069.2 412.2L1070.9 413.3L1072.6 414.4L1074.3 415.4L1076.0 416.5L1077.6 417.6L1079.3 418.7L1081.0 419.8L1082.7 420.9L1084.3 422.0L1086.0 423.1L1087.7 424.2L1089.4 425.3L1091.0 426.4L1092.7 427.5L1094.4 428.7L1096.0 429.8L1097.7 430.9L1099.4 432.0L1101.0 433.1L1102.7 434.3L1104.3 435.4L1106.0 436.5L1107.6 437.7L1109.3 438.8L1110.9 439.9L1112.6 441.1L1114.2 442.2L1115.9 443.4L1117.5 444.5L1119.2 445.7L1120.8 446.8L1122.4 448.0L1124.1 449.1L1125.7 450.3L1127.3 451.4L1129.0 452.6L1130.6 453.8L1132.2 454.9L1133.8 456.1L1135.5 457.3L1137.1 458.5L1138.7 459.6L1140.3 460.8L1141.9 462.0L1143.5 463.2L1145.2 464.4L1146.8 465.6L1148.4 466.8L1150.0 468.0L1151.6 469.2L1153.2 470.4L1154.8 471.6L1156.4 472.8L1158.0 474.0L1159.6 475.2L1161.1 476.4L1162.7 477.7L1164.3 478.9L1165.9 480.1L1167.5 481.3L1169.1 482.6L1170.6 483.8L1172.2 485.0L1173.8 486.3L1175.3 487.5L1176.9 488.7L1178.5 490.0L1180.0 491.2L1181.6 492.5L1183.2 493.7L1184.7 495.0L1186.3 496.3L1187.8 497.5L1189.4 498.8L1190.9 500.1L1192.4 501.3L1194.0 502.6L1195.5 503.9L1197.1 505.2L1198.6 506.4L1200.1 507.7L1201.6 509.0L1203.2 510.3L1204.7 511.6L1206.2 512.9L1207.7 514.2L1209.2 515.5L1210.8 516.8L1212.3 518.1L1213.8 519.4L1215.3 520.8L1216.8 522.1L1218.3 523.4L1219.8 524.7L1221.3 526.0L1222.7 527.4L1224.2 528.7L1225.7 530.0L1227.2 531.4L1228.7 532.7L1230.2 534.1L1231.6 535.4L1233.1 536.8L1234.6 538.1L1236.0 539.5L1237.5 540.9L1238.9 542.2L1240.4 543.6L1241.9 545.0L1243.3 546.3L1244.7 547.7L1246.2 549.1L1247.6 550.5L1249.1 551.9L1250.5 553.2L1251.9 554.6L1253.4 556.0L1254.8 557.4L1256.2 558.8L1257.6 560.2L1259.0 561.7L1260.5 563.1L1261.9 564.5L1263.3 565.9L1264.7 567.3L1266.1 568.8L1267.5 570.2L1268.9 571.6L1270.3 573.1L1271.6 574.5L1273.0 575.9L1274.4 577.4L1275.8 578.8L1277.2 580.3L1278.5 581.7L1279.9 583.2L1281.3 584.7L1282.6 586.1L1284.0 587.6L1285.3 589.1L1286.7 590.5L1288.0 592.0L1289.4 593.5L1290.7 595.0L1292.1 596.5L1293.4 598.0L1294.7 599.5L1296.0 601.0L1297.4 602.5L1298.7 604.0L1300.0 605.5L1301.3 607.0L1302.6 608.5L1303.9 610.0L1305.2 611.5L1306.5 613.1L1307.8 614.6L1309.1 616.1L1310.4 617.7L1311.7 619.2L1313.0 620.7L1314.3 622.3L1315.5 623.8L1316.8 625.4L1318.1 626.9L1319.4 628.5L1320.6 630.0L1321.9 631.6L1323.1 633.2L1324.4 634.7L1325.6 636.3L1326.9 637.9L1328.1 639.4L1329.4 641.0L1330.6 642.6L1331.8 644.2L1333.1 645.7L1334.3 647.3L1335.5 648.9L1336.7 650.5L1337.9 652.1L1339.2 653.7L1340.4 655.3L1341.6 656.9L1342.8 658.5L1344.0 660.1L1345.2 661.7L1346.4 663.3L1347.5 665.0L1348.7 666.6L1349.9 668.2L1351.1 669.8L1352.3 671.4L1353.4 673.1L1354.6 674.7L1355.8 676.3L1356.9 678.0L1358.1 679.6L1359.2 681.2L1360.4 682.9L1361.5 684.5L1362.7 686.2L1363.8 687.8L1365.0 689.5L1366.1 691.1L1367.2 692.8L1368.4 694.4L1369.5 696.1L1370.6 697.8L1371.7 699.4L1372.8 701.1L1374.0 702.8L1375.1 704.4L1376.2 706.1L1377.3 707.8L1378.4 709.5L1379.5 711.1L1380.5 712.8L1381.6 714.5L1382.7 716.2L1383.8 717.9L1384.9 719.6L1385.9 721.2L1387.0 722.9L1388.1 724.6L1389.1 726.3L1390.2 728.0L1391.3 729.7L1392.3 731.4L1393.4 733.1L1394.4 734.8L1395.5 736.5L1396.5 738.2L1397.5 739.9L1398.6 741.7L1399.6 743.4L1400.7 745.1L1401.7 746.8L1402.7 748.5L1403.8 750.2L1404.8 751.9L1405.8 753.6L1406.9 755.4L1407.9 757.1L1408.9 758.8L1409.9 760.5L1411.0 762.2L1412.0 763.9L1413.0 765.6L1414.0 767.4L1415.1 769.1L1416.1 770.8L1417.1 772.5L1418.1 774.2L1419.2 775.9L1420.2 777.7L1421.2 779.4L1422.3 781.1L1423.3 782.8L1424.3 784.5L1425.4 786.2L1426.4 787.9L1427.4 789.6L1428.5 791.3L1429.5 793.1L1430.5 794.8L1431.6 796.5L1432.6 798.2L1433.7 799.9L1434.7 801.6L1435.8 803.3L1436.8 805.0L1437.9 806.7L1438.9 808.3L1440.0 810.0L1441.1 811.7L1442.1 813.4L1443.2 815.1L1444.3 816.8L1445.4 818.5L1446.5 820.1L1447.5 821.8L1448.6 823.5L1449.7 825.2L1450.8 826.8L1451.9 828.5L1453.0 830.2L1454.1 831.8L1455.3 833.5L1456.4 835.1L1457.5 836.8L1458.6 838.4L1459.8 840.1L1460.9 841.7L1462.1 843.4L1463.2 845.0L1464.4 846.6L1465.5 848.3L1466.7 849.9L1467.9 851.5L1469.1 853.1L1470.3 854.7L1471.5 856.3L1472.7 857.9L1473.9 859.6L1475.1 861.1L1476.3 862.7L1477.5 864.3L1478.8 865.9L1480.0 867.5L1481.3 869.1L1482.5 870.6L1483.8 872.2L1485.1 873.7L1486.4 875.3L1487.7 876.8L1489.0 878.3L1490.3 879.8L1491.6 881.3L1493.0 882.8L1494.3 884.3L1495.7 885.8L1497.0 887.2L1498.4 888.7L1499.8 890.1L1501.3 891.5L1502.7 892.9L1504.1 894.3L1505.6 895.7L1507.0 897.0L1508.5 898.4L1510.0 899.7L1511.5 901.0L1513.0 902.3L1514.6 903.6L1516.1 904.8L1517.7 906.0L1519.3 907.2L1520.9 908.4L1522.5 909.6L1524.2 910.7L1525.8 911.9L1527.5 913.0L1529.1 914.0L1530.8 915.1L1532.6 916.1L1534.3 917.1L1536.0 918.1L1537.8 919.0L1539.6 919.9L1541.4 920.8L1543.2 921.6L1545.0 922.5L1546.8 923.2L1548.7 924.0L1550.6 924.7L1552.5 925.4L1554.4 926.1L1556.3 926.7" stroke="#e51e10" stroke-width="6.1"/>
</g>
<rect x="271.5" y="55.7" width="1289.5" height="874.80" fill="none" stroke="#000" stroke-width="2.6"/>
<text transform="translate(238.20 948.60) scale(1 1.045)" font-size="55.5" text-anchor="end">0</text>
<text transform="translate(238.20 802.80) scale(1 1.045)" font-size="55.5" text-anchor="end">0.2</text>
<text transform="translate(238.20 657.00) scale(1 1.045)" font-size="55.5" text-anchor="end">0.4</text>
<text transform="translate(238.20 511.20) scale(1 1.045)" font-size="55.5" text-anchor="end">0.6</text>
<text transform="translate(238.20 365.40) scale(1 1.045)" font-size="55.5" text-anchor="end">0.8</text>
<text transform="translate(238.20 219.60) scale(1 1.045)" font-size="55.5" text-anchor="end">1</text>
<text transform="translate(238.20 73.80) scale(1 1.045)" font-size="55.5" text-anchor="end">1.2</text>
<text transform="translate(294.43 1010.40) scale(1 1.045)" font-size="55.5">10<tspan font-size="44.40" dy="-26.12">-6</tspan></text>
<text transform="translate(537.68 1010.40) scale(1 1.045)" font-size="55.5">10<tspan font-size="44.40" dy="-26.12">-5</tspan></text>
<text transform="translate(780.94 1010.40) scale(1 1.045)" font-size="55.5">10<tspan font-size="44.40" dy="-26.12">-4</tspan></text>
<text transform="translate(1024.19 1010.40) scale(1 1.045)" font-size="55.5">10<tspan font-size="44.40" dy="-26.12">-3</tspan></text>
<text transform="translate(1267.45 1010.40) scale(1 1.045)" font-size="55.5">10<tspan font-size="44.40" dy="-26.12">-2</tspan></text>
<text transform="translate(1510.70 1010.40) scale(1 1.045)" font-size="55.5">10<tspan font-size="44.40" dy="-26.12">-1</tspan></text>
<text transform="translate(808.30 1097.00) scale(1 1.03)" font-size="64.8">ρ (fm<tspan font-size="51.84" dy="-31.07">-3</tspan><tspan dy="31.07">)</tspan></text>
<text transform="translate(80.70 678.80) rotate(-90) scale(1 1.03)" font-size="64.8">σ (MeV.fm<tspan font-size="51.84" dy="-31.07">-2</tspan><tspan dy="31.07">)</tspan></text>
<text transform="translate(1074.30 290.10) scale(1 1.045)" font-size="46.3">T=1 MeV</text>
<text transform="translate(478.40 659.80) scale(1 1.045)" font-size="41.6" text-anchor="end">DDME2</text>
<text transform="translate(478.40 701.40) scale(1 1.045)" font-size="41.6" text-anchor="end">DD2</text>
<text transform="translate(478.40 743.00) scale(1 1.045)" font-size="41.6" text-anchor="end">TW</text>
<text transform="translate(478.40 784.60) scale(1 1.045)" font-size="41.6" text-anchor="end">FSU</text>
<text transform="translate(478.40 826.20) scale(1 1.045)" font-size="41.6" text-anchor="end">FSU2R</text>
<text transform="translate(478.40 867.80) scale(1 1.045)" font-size="41.6" text-anchor="end">NL3wr</text>
<text transform="translate(478.40 909.40) scale(1 1.045)" font-size="41.6" text-anchor="end">NLset21</text>
<g fill="none" stroke-width="6">
<path d="M503.7 645.8H617.9" stroke="#9400d3" stroke-dasharray="23.6 33.8"/>
<path d="M503.7 687.4H617.9" stroke="#009e73" stroke-dasharray="23.6 33.8"/>
<path d="M503.7 729.0H617.9" stroke="#000000" stroke-dasharray="23.6 33.8"/>
<path d="M503.7 770.6H617.9" stroke="#e69f00"/>
<path d="M503.7 812.2H617.9" stroke="#f0e442"/>
<path d="M503.7 853.8H617.9" stroke="#0072b2"/>
<path d="M503.7 895.4H617.9" stroke="#e51e10"/>
</g>
<text transform="translate(832.00 795.10) scale(1 1.045)" font-size="41.6">y<tspan font-size="33.28" dy="11.48">p</tspan><tspan dy="-11.48">=0.3</tspan></text>
<text transform="translate(832.00 871.30) scale(1 1.045)" font-size="41.6">β<tspan dx="-1.6">-eq</tspan></text>
<path d="M977.9 784.1H1074.9" stroke="#000" stroke-width="2.2" fill="none"/>
<path d="M977.9 857H1074.9" stroke="#000" stroke-width="6.2" fill="none"/>
</svg></body></html>
